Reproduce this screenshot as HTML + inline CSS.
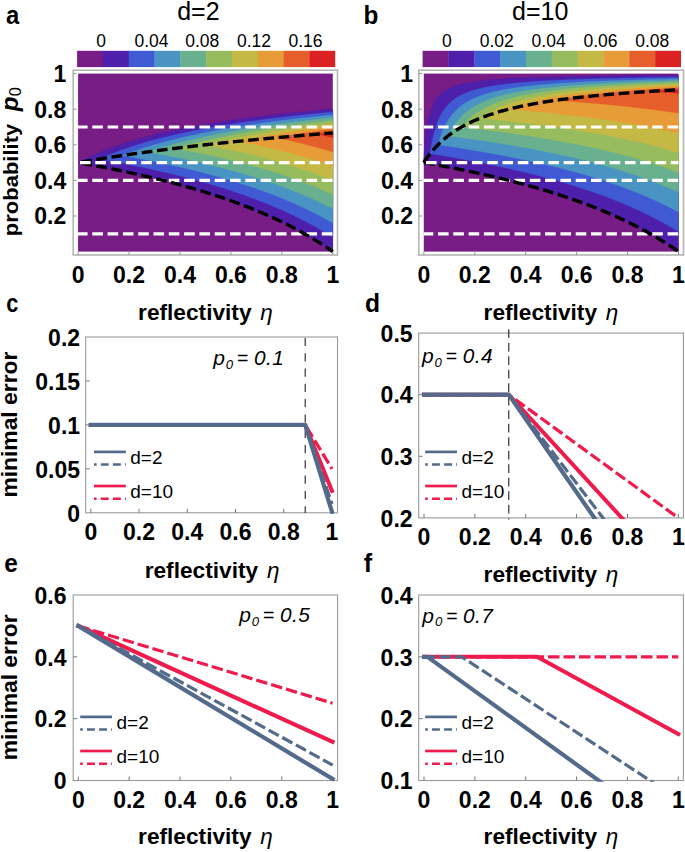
<!DOCTYPE html>
<html lang="en"><head><meta charset="utf-8"><title>Figure</title>
<style>html,body{margin:0;padding:0;background:#fff}svg{display:block}</style></head>
<body>
<svg width="685" height="852" viewBox="0 0 685 852" font-family='"Liberation Sans", Arial, Helvetica, sans-serif' fill="#000">
<rect width="685" height="852" fill="#fff"/>
<rect x="77.1" y="50.8" width="26.11" height="16.3" fill="#781C86"/>
<rect x="102.91" y="50.8" width="26.11" height="16.3" fill="#4E1FAA"/>
<rect x="128.72" y="50.8" width="26.11" height="16.3" fill="#3F5AD2"/>
<rect x="154.53" y="50.8" width="26.11" height="16.3" fill="#4A94C3"/>
<rect x="180.34" y="50.8" width="26.11" height="16.3" fill="#69B08E"/>
<rect x="206.15" y="50.8" width="26.11" height="16.3" fill="#97BC5E"/>
<rect x="231.96" y="50.8" width="26.11" height="16.3" fill="#C5B945"/>
<rect x="257.77" y="50.8" width="26.11" height="16.3" fill="#E79C38"/>
<rect x="283.58" y="50.8" width="26.11" height="16.3" fill="#E55E2B"/>
<rect x="309.39" y="50.8" width="25.81" height="16.3" fill="#DB2122"/>
<text x="101" y="46.9" font-size="17.5" font-weight="normal" font-style="normal" text-anchor="middle" >0</text>
<text x="151.5" y="46.9" font-size="17.5" font-weight="normal" font-style="normal" text-anchor="middle" >0.04</text>
<text x="202.3" y="46.9" font-size="17.5" font-weight="normal" font-style="normal" text-anchor="middle" >0.08</text>
<text x="254" y="46.9" font-size="17.5" font-weight="normal" font-style="normal" text-anchor="middle" >0.12</text>
<text x="305.5" y="46.9" font-size="17.5" font-weight="normal" font-style="normal" text-anchor="middle" >0.16</text>
<text x="198.4" y="19.5" font-size="25" font-weight="normal" font-style="normal" text-anchor="middle" >d=2</text>
<text transform="translate(6,23.6) scale(0.9,1)" font-size="26.5" font-weight="bold">a</text>
<rect x="73.2" y="70.2" width="264.3" height="184.8" fill="#fff" stroke="#b5b5b5" stroke-width="1.6"/>
<rect x="78.1" y="73.6" width="254.7" height="178" fill="#781C86"/>
<path d="M332.8,251.6 332.8,250.93 332.8,250.26 332.8,249.6 332.8,248.93 332.8,248.26 332.8,247.59 332.8,246.93 332.8,246.26 332.8,245.59 332.8,244.92 332.8,244.26 332.8,243.59 332.8,242.92 332.8,242.25 332.8,241.59 332.8,240.92 332.8,240.25 332.8,239.58 332.8,238.92 332.8,238.25 332.8,237.58 332.8,236.91 332.8,236.25 332.8,235.58 332.8,234.91 332.8,234.25 332.8,233.58 332.8,232.91 332.8,232.24 332.8,231.57 332.8,230.91 332.8,230.24 332.8,229.57 332.8,228.91 332.8,228.24 332.8,227.57 332.8,226.9 332.8,226.23 332.8,225.57 332.8,224.9 332.8,224.23 332.8,223.56 332.8,222.9 332.8,222.23 332.8,221.56 332.8,220.89 332.8,220.23 332.8,219.56 332.8,218.89 332.8,218.22 332.8,217.56 332.8,216.89 332.8,216.22 332.8,215.56 332.8,214.89 332.8,214.22 332.8,213.55 332.8,212.88 332.8,212.22 332.8,211.55 332.8,210.88 332.8,210.21 332.8,209.55 332.8,208.88 332.8,208.21 332.8,207.54 332.8,206.88 332.8,206.21 332.8,205.54 332.8,204.88 332.8,204.21 332.8,203.54 332.8,202.87 332.8,202.2 332.8,201.54 332.8,200.87 332.8,200.2 332.8,199.53 332.8,198.87 332.8,198.2 332.8,197.53 332.8,196.87 332.8,196.2 332.8,195.53 332.8,194.86 332.8,194.19 332.8,193.53 332.8,192.86 332.8,192.19 332.8,191.52 332.8,190.86 332.8,190.19 332.8,189.52 332.8,188.85 332.8,188.19 332.8,187.52 332.8,186.85 332.8,186.19 332.8,185.52 332.8,184.85 332.8,184.18 332.8,183.51 332.8,182.85 332.8,182.18 332.8,181.51 332.8,180.84 332.8,180.18 332.8,179.51 332.8,178.84 332.8,178.17 332.8,177.51 332.8,176.84 332.8,176.17 332.8,175.5 332.8,174.84 332.8,174.17 332.8,173.5 332.8,172.83 332.8,172.17 332.8,171.5 332.8,170.83 332.8,170.16 332.8,169.5 332.8,168.83 332.8,168.16 332.8,167.5 332.8,166.83 332.8,166.16 332.8,165.49 332.8,164.82 332.8,164.16 332.8,163.49 332.8,162.82 332.8,162.15 332.8,161.49 332.8,160.82 332.8,160.15 332.8,159.49 332.8,158.82 332.8,158.15 332.8,157.48 332.8,156.81 332.8,156.15 332.8,155.48 332.8,154.81 332.8,154.14 332.8,153.48 332.8,152.81 332.8,152.14 332.8,151.47 332.8,150.81 332.8,150.14 332.8,149.47 332.8,148.81 332.8,148.14 332.8,147.47 332.8,146.8 332.8,146.13 332.8,145.47 332.8,144.8 332.8,144.13 332.8,143.46 332.8,142.8 332.8,142.13 332.8,141.46 332.8,140.79 332.8,140.13 332.8,139.46 332.8,138.79 332.8,138.12 332.8,137.46 332.8,136.79 332.8,136.12 332.8,135.45 332.8,134.79 332.8,134.12 332.8,133.45 332.8,132.78 332.8,132.12 332.8,131.45 332.8,130.78 332.8,130.12 332.8,129.45 332.8,128.78 332.8,128.11 332.8,127.44 332.8,126.78 332.8,126.11 332.8,125.44 332.8,124.77 332.8,124.11 332.8,123.44 332.8,122.77 332.8,122.1 332.8,121.44 332.8,120.77 332.8,120.1 332.8,119.43 332.8,118.77 332.8,118.1 332.8,117.43 332.8,116.76 332.8,116.1 332.8,115.43 332.8,114.76 332.8,114.09 332.8,113.43 332.8,112.76 332.8,112.09 332.8,111.43 332.8,110.76 332.8,110.09 332.8,109.42 332.16,109.2 331.53,109.2 330.89,109.2 330.25,109.2 329.62,109.42 328.98,109.42 328.34,109.42 327.71,109.43 327.07,109.65 326.43,109.65 325.8,109.65 325.16,109.65 324.52,109.87 323.89,109.87 323.25,109.87 322.61,109.87 321.98,110.09 321.34,110.09 320.7,110.09 320.07,110.09 319.43,110.31 318.79,110.31 318.15,110.31 317.52,110.32 316.88,110.54 316.24,110.54 315.61,110.54 314.97,110.76 314.33,110.76 313.7,110.76 313.06,110.76 312.43,110.98 311.79,110.98 311.15,110.98 310.51,110.98 309.88,111.2 309.24,111.2 308.6,111.2 307.97,111.21 307.33,111.43 306.69,111.43 306.06,111.43 305.42,111.65 304.78,111.65 304.15,111.65 303.51,111.65 302.94,111.87 302.24,111.87 301.6,111.87 300.96,111.88 300.33,112.09 299.69,112.09 299.05,112.09 298.42,112.31 297.78,112.32 297.14,112.32 296.51,112.32 295.87,112.54 295.23,112.54 294.6,112.54 293.97,112.76 293.32,112.76 292.68,112.76 292.05,112.78 291.41,112.98 290.77,112.98 290.14,112.98 289.5,113.21 288.86,113.21 288.23,113.21 287.59,113.43 286.95,113.43 286.32,113.43 285.68,113.43 285.04,113.65 284.41,113.65 283.77,113.65 283.13,113.87 282.5,113.87 281.86,113.87 281.23,114.09 280.59,114.1 279.95,114.1 279.32,114.32 278.68,114.32 278.04,114.32 277.4,114.54 276.77,114.54 276.13,114.54 275.49,114.55 274.86,114.76 274.22,114.76 273.58,114.77 272.95,114.99 272.31,114.99 271.67,114.99 271.04,115.21 270.4,115.21 269.76,115.21 269.12,115.43 268.49,115.43 267.85,115.43 267.21,115.65 266.58,115.65 265.94,115.65 265.3,115.88 264.67,115.88 264.03,115.88 263.39,116.1 262.76,116.1 262.12,116.1 261.48,116.32 260.85,116.32 260.21,116.54 259.57,116.54 258.94,116.54 258.3,116.76 257.66,116.77 257.03,116.77 256.39,116.99 255.75,116.99 255.12,116.99 254.48,117.21 253.84,117.21 253.21,117.21 252.57,117.43 251.93,117.43 251.3,117.65 250.66,117.66 250.02,117.66 249.39,117.88 248.75,117.88 248.11,117.88 247.48,118.1 246.84,118.1 246.2,118.32 245.57,118.32 244.93,118.32 244.3,118.54 243.66,118.55 243.02,118.55 242.38,118.77 241.74,118.77 241.11,118.99 240.47,118.99 239.83,118.99 239.2,119.21 238.56,119.21 237.93,119.43 237.29,119.44 236.65,119.44 236.01,119.66 235.38,119.66 234.74,119.88 234.1,119.88 233.47,119.88 232.83,120.1 232.19,120.1 231.56,120.32 230.92,120.33 230.28,120.33 229.65,120.55 229.01,120.55 228.4,120.77 227.74,120.77 227.1,120.99 226.46,120.99 225.83,120.99 225.19,121.22 224.55,121.22 223.93,121.44 223.28,121.44 222.64,121.66 222.01,121.66 221.37,121.66 220.73,121.88 220.1,121.88 219.46,122.11 218.82,122.11 218.19,122.33 217.55,122.33 216.91,122.55 216.27,122.55 215.64,122.59 215,122.77 214.36,122.77 213.73,123 213.09,123 212.45,123.22 211.82,123.22 211.18,123.44 210.54,123.44 209.91,123.66 209.27,123.66 208.64,123.88 208,123.89 207.36,124.11 206.72,124.11 206.09,124.33 205.45,124.33 204.81,124.55 204.18,124.55 203.54,124.77 202.9,124.78 202.27,125 201.63,125 200.99,125.22 200.36,125.22 199.72,125.44 199.08,125.44 198.45,125.66 197.81,125.67 197.17,125.89 196.54,125.89 195.9,126.11 195.26,126.11 194.63,126.33 193.99,126.33 193.35,126.56 192.72,126.56 192.08,126.78 191.44,126.78 190.8,127 190.17,127.01 189.53,127.22 188.9,127.44 188.26,127.45 187.62,127.67 186.98,127.67 186.42,127.89 185.71,127.89 185.07,128.11 184.44,128.12 183.8,128.34 183.17,128.56 182.53,128.56 181.9,128.78 181.25,128.78 180.62,129 179.98,129.22 179.34,129.23 178.71,129.45 178.07,129.45 177.43,129.67 176.8,129.68 176.16,129.89 175.53,130.12 174.89,130.12 174.25,130.34 173.61,130.56 172.98,130.56 172.34,130.78 171.7,130.78 171.07,131.01 170.43,131.23 169.79,131.23 169.16,131.45 168.52,131.67 167.88,131.67 167.26,131.89 166.61,131.9 165.97,132.12 165.34,132.34 164.7,132.34 164.06,132.56 163.43,132.78 162.79,132.79 162.15,133.01 161.52,133.23 160.88,133.23 160.24,133.45 159.61,133.68 158.97,133.68 158.33,133.9 157.74,134.12 157.06,134.34 156.42,134.34 155.78,134.57 155.15,134.79 154.51,134.79 153.87,135.01 153.24,135.23 152.6,135.45 151.96,135.46 151.33,135.68 150.69,135.9 150.05,135.9 149.42,136.12 148.78,136.35 148.14,136.57 147.51,136.57 146.87,136.79 146.23,137.01 145.6,137.24 144.96,137.29 144.32,137.46 143.69,137.68 143.05,137.9 142.41,138.12 141.78,138.13 141.14,138.35 140.5,138.57 139.87,138.79 139.23,139.01 138.59,139.02 137.95,139.24 137.32,139.46 136.7,139.68 136.05,139.9 135.41,140.13 134.77,140.13 134.13,140.35 133.5,140.57 132.86,140.8 132.23,141.02 131.59,141.24 130.95,141.46 130.31,141.47 129.68,141.69 129.04,141.91 128.4,142.13 127.77,142.35 127.14,142.57 126.5,142.8 125.86,143.02 125.22,143.24 124.58,143.46 123.95,143.47 123.31,143.69 122.67,143.91 122.04,144.13 121.4,144.36 120.76,144.58 120.13,144.8 119.49,145.02 118.85,145.25 118.22,145.47 117.58,145.69 116.94,145.91 116.3,146.14 115.67,146.36 115.03,146.58 114.39,146.8 113.76,147.03 113.12,147.25 112.48,147.47 111.85,147.69 111.21,147.92 110.57,148.14 109.94,148.36 109.3,148.59 108.66,148.82 108.03,149.25 107.39,149.47 106.76,149.69 106.12,149.92 105.48,150.14 104.84,150.36 104.21,150.59 103.57,150.81 102.93,151.04 102.3,151.47 101.66,151.7 101.03,151.92 100.39,152.14 99.75,152.37 99.11,152.59 98.48,153.03 97.84,153.25 97.21,153.48 96.57,153.7 95.93,153.96 95.29,154.37 94.66,154.59 94.02,154.81 93.38,155.05 92.75,155.48 92.11,155.7 91.47,155.93 90.84,156.37 90.2,156.59 89.56,156.82 88.93,157.26 88.29,157.48 87.65,157.71 87.02,158.15 86.38,158.37 85.74,158.6 85.11,159.04 84.47,159.26 83.83,159.49 83.2,159.93 82.56,160.15 81.92,160.6 81.29,160.82 80.65,161.26 80.01,161.49 79.37,161.93 78.74,162.15 78.1,162.6 78.74,162.82 79.37,162.9 80.01,163.04 80.65,163.23 81.28,163.27 81.92,163.47 82.56,163.49 83.19,163.7 83.83,163.71 84.47,163.93 85.1,163.93 85.74,164.15 86.38,164.16 87.01,164.38 87.65,164.38 88.29,164.6 88.92,164.6 89.56,164.82 90.2,164.82 90.83,165.05 91.47,165.05 92.11,165.27 92.75,165.27 93.38,165.49 94.02,165.49 94.66,165.71 95.29,165.71 95.93,165.94 96.57,166.15 97.2,166.16 97.84,166.38 98.48,166.38 99.11,166.6 99.75,166.6 100.39,166.83 101.02,166.83 101.66,167.05 102.3,167.05 102.93,167.27 103.57,167.49 104.21,167.49 104.84,167.72 105.48,167.72 106.12,167.94 106.75,167.94 107.39,168.16 108.03,168.16 108.66,168.38 109.3,168.6 109.94,168.61 110.57,168.83 111.21,168.83 111.85,169.05 112.48,169.05 113.12,169.27 113.76,169.49 114.39,169.5 115.03,169.72 115.67,169.72 116.3,169.94 116.94,170.14 117.58,170.16 118.22,170.39 118.85,170.39 119.49,170.61 120.13,170.61 120.76,170.83 121.4,171.05 122.04,171.05 122.67,171.28 123.31,171.28 123.95,171.5 124.58,171.72 125.22,171.72 125.86,171.94 126.49,171.94 127.13,172.17 127.77,172.39 128.4,172.39 129.04,172.61 129.68,172.83 130.31,172.83 130.95,173.06 131.59,173.06 132.22,173.28 132.86,173.5 133.5,173.5 134.13,173.72 134.77,173.94 135.41,173.95 136.04,174.17 136.68,174.17 137.32,174.39 137.95,174.61 138.59,174.61 139.23,174.84 139.86,175.06 140.5,175.06 141.14,175.28 141.78,175.5 142.41,175.5 143.05,175.73 143.69,175.95 144.32,175.95 144.96,176.17 145.6,176.39 146.23,176.39 146.87,176.62 147.51,176.84 148.14,176.84 148.78,177.06 149.42,177.28 150.05,177.28 150.69,177.51 151.33,177.73 151.96,177.73 152.6,177.95 153.24,178.17 153.87,178.17 154.51,178.4 155.15,178.62 155.78,178.62 156.42,178.84 157.06,179.06 157.69,179.28 158.33,179.29 158.97,179.51 159.6,179.73 160.24,179.73 160.88,179.95 161.51,180.18 162.15,180.39 162.79,180.4 163.42,180.62 164.06,180.84 164.7,180.84 165.33,181.07 165.97,181.29 166.61,181.51 167.25,181.51 167.88,181.73 168.52,181.96 169.16,182.17 169.79,182.18 170.43,182.4 171.07,182.62 171.7,182.84 172.34,182.85 172.98,183.07 173.61,183.29 174.25,183.51 174.89,183.51 175.52,183.74 176.16,183.96 176.8,184.18 177.43,184.18 178.07,184.4 178.71,184.63 179.34,184.85 179.98,184.85 180.62,185.07 181.25,185.29 181.89,185.52 182.53,185.74 183.16,185.74 183.8,185.96 184.44,186.18 185.07,186.41 185.71,186.63 186.35,186.63 186.98,186.85 187.62,187.07 188.26,187.3 188.89,187.52 189.53,187.52 190.17,187.74 190.8,187.96 191.44,188.19 192.08,188.41 192.72,188.63 193.35,188.63 193.99,188.85 194.63,189.08 195.26,189.3 195.9,189.52 196.54,189.74 197.17,189.95 197.81,189.97 198.45,190.19 199.08,190.41 199.72,190.63 200.36,190.86 200.99,191.08 201.63,191.29 202.27,191.3 202.9,191.52 203.54,191.75 204.18,191.97 204.81,192.19 205.45,192.41 206.09,192.64 206.72,192.86 207.36,193.05 208,193.08 208.63,193.3 209.27,193.53 209.91,193.75 210.54,193.97 211.18,194.19 211.82,194.42 212.45,194.64 213.09,194.86 213.73,195.08 214.36,195.3 215,195.47 215.64,195.53 216.27,195.75 216.91,195.97 217.55,196.2 218.19,196.42 218.82,196.64 219.46,196.86 220.1,197.09 220.73,197.31 221.37,197.53 222.01,197.75 222.64,197.98 223.28,198.2 223.92,198.42 224.55,198.64 225.19,198.87 225.83,199.09 226.46,199.31 227.1,199.53 227.74,199.76 228.37,199.98 229.01,200.2 229.65,200.42 230.28,200.65 230.92,200.87 231.56,201.09 232.19,201.31 232.83,201.54 233.47,201.76 234.1,201.98 234.74,202.2 235.38,202.43 236.01,202.65 236.65,202.87 237.29,203.09 237.92,203.32 238.56,203.54 238.96,203.76 239.52,203.98 240.15,204.21 240.79,204.43 241.43,204.65 242.06,204.87 242.7,205.1 243.34,205.53 243.97,205.76 244.61,205.99 245.25,206.21 245.88,206.43 246.52,206.65 247.16,206.88 247.79,207.1 248.43,207.32 249.07,207.76 249.7,207.99 250.34,208.21 250.98,208.43 251.61,208.66 252.25,208.88 252.89,209.1 253.52,209.54 254.16,209.77 254.8,209.99 255.43,210.21 256.07,210.44 256.71,210.66 257.35,211.1 257.98,211.33 258.62,211.55 259.26,211.77 259.89,211.99 260.53,212.44 261.17,212.66 261.8,212.88 262.44,213.11 263.08,213.54 263.71,213.77 264.35,214 264.99,214.22 265.62,214.65 266.26,214.89 266.9,215.11 267.53,215.33 268.17,215.77 268.81,216 269.44,216.22 270.08,216.44 270.72,216.89 271.35,217.11 271.99,217.33 272.63,217.78 273.26,218 273.9,218.22 274.54,218.66 275.17,218.89 275.81,219.11 276.45,219.55 277.08,219.78 277.72,220 278.36,220.44 278.99,220.67 279.63,220.89 280.27,221.34 280.9,221.56 281.54,221.78 282.18,222.23 282.82,222.45 283.45,222.89 284.09,223.12 284.73,223.34 285.36,223.79 286,224.01 286.64,224.45 287.27,224.68 287.91,225.12 288.55,225.34 289.18,225.77 289.82,226.01 290.46,226.23 291.09,226.68 291.73,226.9 292.37,227.35 293,227.57 293.64,228.01 294.28,228.24 294.91,228.68 295.55,228.9 296.19,229.35 296.82,229.57 297.46,230.02 298.1,230.45 298.73,230.68 299.37,231.13 300.01,231.35 300.64,231.8 301.28,232.02 301.92,232.46 302.55,232.9 303.19,233.13 303.83,233.58 304.46,233.8 305.1,234.24 305.74,234.69 306.37,234.91 307.01,235.36 307.65,235.8 308.29,236.02 308.92,236.47 309.56,236.91 310.2,237.14 310.83,237.58 311.47,238.02 312.11,238.25 312.74,238.69 313.38,239.14 314.02,239.57 314.65,239.81 315.29,240.25 315.93,240.7 316.56,241.13 317.2,241.36 317.84,241.81 318.47,242.25 319.11,242.7 319.75,242.92 320.38,243.37 321.02,243.81 321.66,244.26 322.29,244.7 322.93,245.14 323.32,245.37 323.89,245.59 324.52,246.04 325.16,246.48 325.8,246.93 326.43,247.37 327.07,247.82 327.71,248.26 328.34,248.7 328.98,249.15 329.62,249.59 330.25,250.03 330.89,250.47 331.26,250.71 331.84,251.09 332.48,251.38Z" fill="#4E1FAA" stroke="#4E1FAA" stroke-width="0.4"/>
<path d="M332.48,237.16 332.8,236.69 332.8,236.03 332.8,235.36 332.8,234.69 332.8,234.02 332.8,233.35 332.8,232.69 332.8,232.02 332.8,231.35 332.8,230.69 332.8,230.02 332.8,229.35 332.8,228.68 332.8,228.01 332.8,227.35 332.8,226.68 332.8,226.01 332.8,225.34 332.8,224.68 332.8,224.01 332.8,223.34 332.8,222.67 332.8,222.01 332.8,221.34 332.8,220.67 332.8,220 332.8,219.34 332.8,218.67 332.8,218 332.8,217.33 332.8,216.67 332.8,216 332.8,215.33 332.8,214.66 332.8,214 332.8,213.33 332.8,212.66 332.8,212 332.8,211.33 332.8,210.66 332.8,209.99 332.8,209.32 332.8,208.66 332.8,207.99 332.8,207.32 332.8,206.66 332.8,205.99 332.8,205.32 332.8,204.65 332.8,203.98 332.8,203.32 332.8,202.65 332.8,201.98 332.8,201.31 332.8,200.65 332.8,199.98 332.8,199.31 332.8,198.64 332.8,197.98 332.8,197.31 332.8,196.64 332.8,195.97 332.8,195.31 332.8,194.64 332.8,193.97 332.8,193.31 332.8,192.64 332.8,191.97 332.8,191.3 332.8,190.63 332.8,189.97 332.8,189.3 332.8,188.63 332.8,187.97 332.8,187.3 332.8,186.63 332.8,185.96 332.8,185.3 332.8,184.63 332.8,183.96 332.8,183.29 332.8,182.62 332.8,181.96 332.8,181.29 332.8,180.62 332.8,179.95 332.8,179.29 332.8,178.62 332.8,177.95 332.8,177.28 332.8,176.62 332.8,175.95 332.8,175.28 332.8,174.62 332.8,173.95 332.8,173.28 332.8,172.61 332.8,171.94 332.8,171.28 332.8,170.61 332.8,169.94 332.8,169.27 332.8,168.61 332.8,167.94 332.8,167.27 332.8,166.6 332.8,165.94 332.8,165.27 332.8,164.6 332.8,163.94 332.8,163.27 332.8,162.6 332.8,161.93 332.8,161.26 332.8,160.6 332.8,159.93 332.8,159.26 332.8,158.59 332.8,157.93 332.8,157.26 332.8,156.59 332.8,155.93 332.8,155.26 332.8,154.59 332.8,153.92 332.8,153.25 332.8,152.59 332.8,151.92 332.8,151.25 332.8,150.58 332.8,149.92 332.8,149.25 332.8,148.58 332.8,147.91 332.8,147.25 332.8,146.58 332.8,145.91 332.8,145.25 332.8,144.58 332.8,143.91 332.8,143.24 332.8,142.57 332.8,141.91 332.8,141.24 332.8,140.57 332.8,139.9 332.8,139.24 332.8,138.57 332.8,137.9 332.8,137.24 332.8,136.57 332.8,135.9 332.8,135.23 332.8,134.56 332.8,133.9 332.8,133.23 332.8,132.56 332.8,131.89 332.8,131.23 332.8,130.56 332.8,129.89 332.8,129.22 332.8,128.56 332.8,127.89 332.8,127.22 332.8,126.55 332.8,125.89 332.8,125.22 332.8,124.55 332.8,123.88 332.8,123.22 332.8,122.55 332.8,121.88 332.8,121.21 332.8,120.55 332.8,119.88 332.8,119.21 332.8,118.54 332.8,117.88 332.8,117.21 332.8,116.54 332.8,115.87 332.8,115.21 332.8,114.54 332.8,113.87 332.8,113.21 332.8,112.54 332.48,112.08 331.84,112.13 331.21,112.19 330.57,112.25 329.93,112.31 329.3,112.37 328.66,112.43 328.02,112.49 327.46,112.54 326.75,112.6 326.11,112.66 325.48,112.72 324.84,112.78 324.2,112.84 323.57,112.9 322.93,112.96 322.29,113.02 321.66,113.08 321.02,113.15 320.4,113.21 319.75,113.27 319.11,113.33 318.47,113.39 317.84,113.45 317.2,113.51 316.56,113.58 315.93,113.64 315.29,113.7 314.65,113.77 314.02,113.83 313.38,113.89 312.74,113.95 312.11,114.02 311.47,114.08 310.83,114.15 310.2,114.21 309.56,114.27 308.92,114.34 308.29,114.4 307.65,114.47 307.01,114.53 306.37,114.6 305.74,114.67 305.1,114.73 304.46,114.8 303.83,114.86 303.19,114.93 302.55,115 301.92,115.06 301.28,115.13 300.64,115.2 300.01,115.27 299.37,115.33 298.73,115.4 298.1,115.47 297.46,115.54 296.82,115.61 296.19,115.68 295.55,115.75 294.91,115.82 294.37,115.87 293.64,115.96 293,116.03 292.37,116.1 291.73,116.17 291.09,116.24 290.46,116.31 289.82,116.38 289.18,116.45 288.55,116.52 287.91,116.59 287.27,116.67 286.64,116.74 286,116.81 285.36,116.89 284.73,116.96 284.09,117.03 283.45,117.11 282.82,117.18 282.18,117.25 281.54,117.33 280.9,117.4 280.27,117.48 279.63,117.55 278.99,117.63 278.36,117.7 277.72,117.78 277.08,117.86 276.45,117.93 275.81,118.01 275.17,118.09 274.54,118.16 273.9,118.24 273.26,118.32 272.63,118.4 271.99,118.48 271.44,118.54 270.72,118.63 270.08,118.71 269.44,118.79 268.81,118.87 268.17,118.95 267.53,119.03 266.9,119.11 266.26,119.2 265.62,119.28 264.99,119.36 264.39,119.43 263.71,119.52 263.08,119.6 262.44,119.69 261.8,119.77 261.17,119.85 260.53,119.94 259.89,120.02 259.27,120.1 258.62,120.19 257.98,120.27 257.35,120.36 256.71,120.44 256.07,120.53 255.43,120.62 254.8,120.7 254.16,120.79 253.52,120.88 252.89,120.96 252.25,121.05 251.61,121.14 251.07,121.21 250.34,121.32 249.7,121.41 249.07,121.5 248.43,121.59 247.9,121.66 247.16,121.77 246.52,121.86 245.88,121.95 245.25,122.04 244.61,122.13 243.97,122.22 243.34,122.31 242.7,122.41 242.06,122.5 241.43,122.59 240.79,122.69 240.22,122.77 239.52,122.88 238.88,122.97 238.24,123.07 237.61,123.16 236.97,123.26 236.33,123.35 235.77,123.44 235.06,123.55 234.42,123.65 233.79,123.74 233.15,123.84 232.51,123.94 231.88,124.04 231.24,124.14 230.6,124.24 230.03,124.33 229.33,124.44 228.69,124.54 228.05,124.64 227.42,124.74 226.78,124.85 226.14,124.95 225.51,125.05 224.87,125.16 224.23,125.26 223.6,125.36 222.96,125.47 222.32,125.57 221.78,125.66 221.05,125.79 220.44,125.89 219.78,126 219.14,126.11 218.5,126.21 217.87,126.32 217.23,126.43 216.59,126.54 215.96,126.65 215.32,126.76 214.68,126.87 214.05,126.98 213.41,127.09 212.77,127.2 212.14,127.32 211.5,127.43 210.86,127.54 210.23,127.66 209.59,127.77 208.95,127.89 208.32,128 207.7,128.11 207.04,128.23 206.49,128.33 205.77,128.47 205.13,128.58 204.49,128.7 203.86,128.82 203.22,128.94 202.58,129.06 201.95,129.18 201.31,129.3 200.67,129.42 200.04,129.54 199.4,129.67 198.76,129.79 198.24,129.89 197.49,130.04 196.85,130.16 196.22,130.29 195.58,130.41 194.94,130.54 194.31,130.67 193.72,130.78 193.03,130.92 192.4,131.05 191.76,131.18 191.12,131.31 190.49,131.44 189.85,131.57 189.35,131.67 188.58,131.83 187.94,131.97 187.3,132.1 186.67,132.23 186.15,132.34 185.39,132.5 184.76,132.64 184.12,132.77 183.48,132.91 182.85,133.05 182.21,133.19 181.57,133.33 180.99,133.45 180.3,133.6 179.66,133.75 179.02,133.89 178.39,134.03 177.75,134.17 177.11,134.32 176.48,134.46 175.84,134.6 175.2,134.75 174.57,134.9 174.07,135.01 173.29,135.19 172.66,135.34 172.16,135.45 171.38,135.64 170.75,135.79 170.11,135.94 169.47,136.09 168.84,136.24 168.2,136.4 167.56,136.55 166.93,136.71 166.29,136.86 165.68,137.01 165.02,137.18 164.38,137.33 163.89,137.46 163.11,137.65 162.47,137.81 161.83,137.98 161.24,138.12 160.56,138.3 159.92,138.46 159.29,138.63 158.65,138.79 158.01,138.96 157.38,139.13 156.74,139.3 156.12,139.46 155.47,139.63 154.83,139.8 154.19,139.98 153.63,140.13 152.92,140.32 152.28,140.5 151.64,140.67 151.01,140.85 150.39,141.02 149.73,141.2 149.1,141.38 148.46,141.56 147.82,141.74 147.24,141.91 146.55,142.1 145.91,142.29 145.28,142.47 144.64,142.66 144.16,142.8 143.69,142.94 143.05,143.13 142.41,143.32 141.91,143.46 141.17,143.69 140.5,143.89 139.86,144.08 139.23,144.28 138.59,144.47 137.95,144.67 137.32,144.87 136.82,145.02 136.11,145.25 135.41,145.47 134.77,145.67 134.13,145.87 133.5,146.08 132.86,146.28 132.22,146.49 131.59,146.7 130.95,146.9 130.31,147.11 129.68,147.33 129.04,147.54 128.58,147.69 128.08,147.86 127.45,148.08 126.81,148.29 126.17,148.51 125.54,148.73 124.9,148.95 124.26,149.17 123.63,149.4 122.99,149.62 122.35,149.85 121.72,150.08 121.08,150.3 120.44,150.53 119.81,150.77 119.17,151 118.53,151.23 117.9,151.47 117.28,151.7 116.69,151.92 116.1,152.14 115.51,152.37 115.03,152.55 114.39,152.79 113.77,153.03 113.2,153.25 112.63,153.48 112.17,153.66 111.53,153.91 110.93,154.14 110.38,154.37 109.94,154.54 109.3,154.8 108.72,155.03 108.17,155.26 107.71,155.45 107.09,155.7 106.55,155.93 106.12,156.11 105.49,156.37 104.96,156.59 104.53,156.78 103.91,157.04 103.39,157.26 102.93,157.46 102.36,157.7 101.85,157.93 101.34,158.15 100.83,158.37 100.39,158.57 99.82,158.82 99.39,159.04 100.07,159.17 100.59,159.26 101.34,159.39 101.85,159.49 102.61,159.62 103.25,159.73 103.89,159.85 104.53,159.96 105.16,160.07 105.8,160.19 106.44,160.3 107.07,160.42 107.71,160.53 108.35,160.65 108.98,160.76 109.62,160.88 110.26,161 110.89,161.11 111.53,161.23 112.17,161.35 112.8,161.47 113.44,161.58 114.08,161.7 114.71,161.82 115.31,161.93 115.99,162.06 116.5,162.15 117.26,162.3 117.9,162.42 118.53,162.54 119.17,162.66 119.81,162.78 120.44,162.9 121.08,163.03 121.72,163.15 122.34,163.27 122.99,163.39 123.63,163.52 124.26,163.64 124.9,163.76 125.54,163.89 126.17,164.01 126.81,164.14 127.45,164.26 128.04,164.38 128.72,164.51 129.36,164.64 130,164.77 130.63,164.89 131.27,165.02 131.91,165.15 132.5,165.27 133.18,165.41 133.82,165.54 134.45,165.66 135.09,165.79 135.73,165.92 136.36,166.05 136.88,166.16 137.64,166.32 138.27,166.45 138.91,166.58 139.55,166.71 140.1,166.83 140.82,166.98 141.46,167.11 142.09,167.24 142.73,167.38 143.28,167.5 144,167.65 144.64,167.78 145.28,167.92 145.91,168.05 146.42,168.16 147.19,168.33 147.82,168.46 148.46,168.6 149.1,168.74 149.73,168.88 150.37,169.02 151.01,169.16 151.55,169.27 152.28,169.44 152.92,169.58 153.55,169.72 154.19,169.86 154.83,170 155.47,170.14 156.1,170.28 156.74,170.43 157.38,170.57 158.01,170.71 158.53,170.83 159.29,171 159.92,171.15 160.49,171.28 161.2,171.44 161.83,171.59 162.42,171.72 163.11,171.88 163.74,172.03 164.34,172.17 165.02,172.32 165.65,172.47 166.24,172.61 166.93,172.77 167.56,172.92 168.13,173.06 168.84,173.23 169.47,173.38 170,173.5 170.75,173.68 171.38,173.84 172.02,173.99 172.66,174.14 173.29,174.3 173.93,174.45 174.57,174.61 175.2,174.76 175.84,174.92 176.41,175.06 177.11,175.24 177.75,175.39 178.39,175.55 179.02,175.71 179.66,175.87 180.3,176.03 180.86,176.17 181.57,176.35 182.21,176.51 182.85,176.67 183.48,176.84 184.12,177 184.76,177.16 185.39,177.33 186.03,177.49 186.67,177.66 187.3,177.82 187.8,177.95 188.58,178.16 189.21,178.32 189.85,178.49 190.34,178.62 191.12,178.83 191.76,179 192.4,179.17 193.03,179.34 193.67,179.51 194.31,179.68 194.94,179.85 195.58,180.02 196.14,180.18 196.85,180.37 197.49,180.55 198.13,180.72 198.76,180.9 199.39,181.07 200.04,181.25 200.67,181.43 201.31,181.6 201.78,181.73 202.27,181.87 202.9,182.05 203.54,182.23 204.15,182.4 204.81,182.59 205.45,182.77 206.09,182.96 206.72,183.14 207.26,183.29 208,183.51 208.63,183.69 209.27,183.88 209.91,184.06 210.54,184.25 211.08,184.4 211.82,184.62 212.45,184.81 213.09,185 213.73,185.19 214.36,185.38 215,185.57 215.56,185.74 216.27,185.96 216.91,186.15 217.55,186.34 218.19,186.54 218.82,186.73 219.46,186.93 219.93,187.07 220.41,187.22 221.05,187.42 221.69,187.62 222.32,187.82 222.79,187.97 223.28,188.12 223.92,188.32 224.55,188.52 225.19,188.72 225.83,188.92 226.31,189.08 226.78,189.23 227.42,189.43 228.05,189.64 228.69,189.84 229.33,190.05 229.96,190.26 230.43,190.41 230.92,190.57 231.56,190.78 232.19,190.99 232.83,191.2 233.47,191.41 234.1,191.63 234.74,191.84 235.38,192.05 236.01,192.27 236.65,192.48 237.11,192.64 237.61,192.81 238.24,193.02 238.88,193.24 239.52,193.46 240.15,193.68 240.79,193.9 241.43,194.12 242.06,194.34 242.7,194.57 243.34,194.79 243.97,195.02 244.61,195.24 245.25,195.47 245.88,195.7 246.52,195.92 247.16,196.15 247.79,196.38 248.43,196.61 249.07,196.84 249.7,197.08 250.34,197.31 250.95,197.53 251.55,197.75 252.15,197.98 252.75,198.2 253.21,198.37 253.84,198.61 254.48,198.85 255.12,199.09 255.71,199.31 256.3,199.53 256.88,199.76 257.35,199.93 257.98,200.18 258.62,200.42 259.2,200.65 259.77,200.87 260.21,201.04 260.85,201.29 261.48,201.54 262.05,201.76 262.61,201.98 263.08,202.17 263.71,202.42 264.29,202.65 264.85,202.87 265.3,203.05 265.94,203.31 266.51,203.54 267.06,203.76 267.53,203.96 268.15,204.21 268.69,204.43 269.12,204.61 269.76,204.87 270.31,205.1 270.85,205.32 271.35,205.53 271.91,205.76 272.44,205.99 272.95,206.2 273.5,206.43 274.02,206.66 274.54,206.87 275.07,207.1 275.49,207.28 276.11,207.54 276.62,207.77 277.08,207.97 277.65,208.21 278.16,208.44 278.67,208.66 279.18,208.88 279.63,209.08 280.19,209.32 280.69,209.55 281.19,209.77 281.69,209.99 282.18,210.21 282.69,210.44 283.13,210.64 283.68,210.88 284.17,211.1 284.66,211.33 285.15,211.55 285.63,211.77 286.12,212 286.6,212.22 287.08,212.44 287.57,212.66 288.04,212.88 288.52,213.11 289,213.33 289.47,213.55 289.95,213.78 290.42,214 290.89,214.22 291.36,214.44 291.82,214.66 292.29,214.89 292.75,215.11 293.22,215.33 293.64,215.54 294.14,215.78 294.6,216 295.05,216.22 295.51,216.44 295.96,216.67 296.41,216.89 296.82,217.09 297.32,217.33 297.76,217.56 298.21,217.78 298.66,218 299.1,218.22 299.54,218.45 299.99,218.67 300.43,218.89 300.87,219.12 301.28,219.33 301.74,219.56 302.17,219.78 302.61,220 303.04,220.23 303.47,220.45 303.9,220.67 304.33,220.89 304.76,221.12 305.18,221.34 305.61,221.56 306.03,221.78 306.45,222.01 306.87,222.23 307.29,222.45 307.71,222.67 308.13,222.9 308.54,223.12 308.96,223.34 309.37,223.56 309.78,223.79 310.19,224.01 310.6,224.23 311.01,224.45 311.42,224.68 311.82,224.9 312.23,225.12 312.63,225.34 313.04,225.57 313.44,225.79 313.84,226.01 314.24,226.23 314.63,226.46 315.03,226.68 315.43,226.9 315.82,227.12 316.21,227.35 316.61,227.57 317,227.79 317.39,228.01 317.77,228.24 318.16,228.46 318.55,228.68 318.93,228.91 319.32,229.13 319.7,229.35 320.08,229.57 320.46,229.79 320.84,230.02 321.22,230.24 321.6,230.46 322.29,230.87 322.73,231.13 323.25,231.44 323.84,231.8 324.52,232.21 324.95,232.47 325.48,232.78 326.05,233.13 326.43,233.37 327.07,233.76 327.5,234.02 328.02,234.35 328.58,234.69 328.98,234.94 329.62,235.34 330,235.58 330.57,235.94 331.06,236.25 331.53,236.55 332.11,236.91 332.48,237.16Z" fill="#3F5AD2" stroke="#3F5AD2" stroke-width="0.4"/>
<path d="M332.48,222.93 332.8,222.45 332.8,221.78 332.8,221.12 332.8,220.45 332.8,219.78 332.8,219.12 332.8,218.45 332.8,217.78 332.8,217.11 332.8,216.44 332.8,215.78 332.8,215.11 332.8,214.44 332.8,213.78 332.8,213.11 332.8,212.44 332.8,211.77 332.8,211.1 332.8,210.44 332.8,209.77 332.8,209.1 332.8,208.44 332.8,207.77 332.8,207.1 332.8,206.43 332.8,205.76 332.8,205.1 332.8,204.43 332.8,203.76 332.8,203.09 332.8,202.43 332.8,201.76 332.8,201.09 332.8,200.42 332.8,199.76 332.8,199.09 332.8,198.42 332.8,197.75 332.8,197.09 332.8,196.42 332.8,195.75 332.8,195.08 332.8,194.42 332.8,193.75 332.8,193.08 332.8,192.41 332.8,191.75 332.8,191.08 332.8,190.41 332.8,189.75 332.8,189.08 332.8,188.41 332.8,187.74 332.8,187.07 332.8,186.41 332.8,185.74 332.8,185.07 332.8,184.4 332.8,183.74 332.8,183.07 332.8,182.4 332.8,181.73 332.8,181.07 332.8,180.4 332.8,179.73 332.8,179.06 332.8,178.4 332.8,177.73 332.8,177.06 332.8,176.39 332.8,175.73 332.8,175.06 332.8,174.39 332.8,173.72 332.8,173.06 332.8,172.39 332.8,171.72 332.8,171.06 332.8,170.39 332.8,169.72 332.8,169.05 332.8,168.38 332.8,167.72 332.8,167.05 332.8,166.38 332.8,165.72 332.8,165.05 332.8,164.38 332.8,163.71 332.8,163.05 332.8,162.38 332.8,161.71 332.8,161.04 332.8,160.38 332.8,159.71 332.8,159.04 332.8,158.37 332.8,157.7 332.8,157.04 332.8,156.37 332.8,155.7 332.8,155.03 332.8,154.37 332.8,153.7 332.8,153.03 332.8,152.37 332.8,151.7 332.8,151.03 332.8,150.36 332.8,149.69 332.8,149.03 332.8,148.36 332.8,147.69 332.8,147.02 332.8,146.36 332.8,145.69 332.8,145.02 332.8,144.35 332.8,143.69 332.8,143.02 332.8,142.35 332.8,141.69 332.8,141.02 332.8,140.35 332.8,139.68 332.8,139.01 332.8,138.35 332.8,137.68 332.8,137.01 332.8,136.34 332.8,135.68 332.8,135.01 332.8,134.34 332.8,133.68 332.8,133.01 332.8,132.34 332.8,131.67 332.8,131 332.8,130.34 332.8,129.67 332.8,129 332.8,128.33 332.8,127.67 332.8,127 332.8,126.33 332.8,125.66 332.8,125 332.8,124.33 332.8,123.66 332.8,122.99 332.8,122.33 332.8,121.66 332.8,120.99 332.8,120.32 332.8,119.66 332.8,118.99 332.8,118.32 332.8,117.65 332.8,116.99 332.8,116.32 332.8,115.65 332.8,114.98 332.16,114.96 331.53,115.02 330.89,115.08 330.25,115.15 329.62,115.21 328.98,115.27 328.34,115.33 327.71,115.4 327.07,115.46 326.43,115.52 325.8,115.59 325.16,115.65 324.52,115.72 323.89,115.78 323.25,115.85 322.61,115.91 321.98,115.98 321.34,116.04 320.7,116.11 320.06,116.17 319.43,116.24 318.79,116.31 318.15,116.37 317.52,116.44 316.88,116.5 316.24,116.57 315.61,116.64 314.97,116.71 314.42,116.76 313.7,116.84 313.06,116.91 312.42,116.98 311.79,117.05 311.15,117.12 310.51,117.18 309.88,117.25 309.24,117.32 308.6,117.39 307.97,117.46 307.33,117.53 306.69,117.6 306.06,117.67 305.42,117.74 304.78,117.81 304.22,117.88 303.51,117.96 302.87,118.03 302.24,118.1 301.6,118.17 300.96,118.24 300.33,118.32 299.69,118.39 299.05,118.46 298.42,118.54 297.78,118.61 297.14,118.68 296.51,118.76 295.87,118.83 295.23,118.91 294.6,118.98 293.96,119.06 293.32,119.13 292.68,119.21 292.05,119.28 291.41,119.36 290.77,119.43 290.14,119.51 289.5,119.59 288.91,119.66 288.23,119.74 287.59,119.82 286.95,119.9 286.32,119.97 285.68,120.05 285.04,120.13 284.41,120.21 283.77,120.29 283.13,120.37 282.5,120.45 281.86,120.53 281.22,120.61 280.59,120.69 279.95,120.77 279.31,120.85 278.68,120.93 278.04,121.01 277.4,121.09 276.77,121.18 276.13,121.26 275.49,121.34 274.86,121.42 274.22,121.51 273.58,121.59 272.95,121.67 272.31,121.76 271.67,121.84 271.04,121.93 270.4,122.01 269.76,122.1 269.12,122.18 268.49,122.27 267.85,122.36 267.21,122.44 266.58,122.53 265.94,122.62 265.3,122.7 264.67,122.79 264.03,122.88 263.39,122.97 262.76,123.06 262.12,123.15 261.48,123.23 260.85,123.32 260.21,123.41 259.57,123.5 258.94,123.6 258.3,123.69 257.66,123.78 257.03,123.87 256.39,123.96 255.75,124.05 255.12,124.15 254.48,124.24 253.86,124.33 253.21,124.43 252.57,124.52 251.93,124.61 251.3,124.71 250.66,124.8 250.02,124.9 249.39,125 248.75,125.09 248.11,125.19 247.48,125.28 246.84,125.38 246.2,125.48 245.57,125.58 245,125.66 244.29,125.77 243.66,125.87 243.02,125.97 242.38,126.07 241.74,126.17 241.11,126.27 240.47,126.37 239.83,126.48 239.2,126.58 238.56,126.68 237.95,126.78 237.29,126.89 236.65,126.99 236.01,127.09 235.38,127.2 234.74,127.3 234.1,127.41 233.47,127.51 232.83,127.62 232.19,127.72 231.56,127.83 230.92,127.94 230.28,128.04 229.65,128.15 229.01,128.26 228.37,128.37 227.74,128.48 227.1,128.59 226.46,128.7 225.83,128.81 225.19,128.92 224.55,129.03 223.92,129.14 223.28,129.25 222.64,129.37 222.01,129.48 221.37,129.59 220.73,129.71 220.1,129.82 219.46,129.94 218.82,130.05 218.19,130.17 217.55,130.29 216.91,130.4 216.27,130.52 215.64,130.64 215,130.76 214.36,130.88 213.73,131 213.09,131.12 212.5,131.23 211.82,131.36 211.18,131.48 210.54,131.6 209.91,131.72 209.27,131.85 208.63,131.97 208,132.09 207.36,132.22 206.74,132.34 206.09,132.47 205.45,132.59 204.81,132.72 204.18,132.85 203.54,132.98 202.9,133.1 202.28,133.23 201.63,133.36 200.99,133.49 200.36,133.62 199.72,133.75 199.08,133.89 198.45,134.02 197.81,134.15 197.17,134.28 196.54,134.42 195.9,134.55 195.26,134.69 194.63,134.82 193.99,134.96 193.35,135.1 192.73,135.23 192.08,135.37 191.44,135.51 190.8,135.65 190.17,135.79 189.53,135.93 188.89,136.08 188.26,136.22 187.69,136.34 186.98,136.5 186.35,136.65 185.72,136.79 185.07,136.94 184.44,137.08 183.8,137.23 183.16,137.38 182.53,137.53 181.89,137.67 181.25,137.82 180.62,137.97 179.98,138.12 179.34,138.28 178.71,138.43 178.12,138.57 177.43,138.74 176.8,138.89 176.28,139.01 175.52,139.2 174.89,139.36 174.25,139.52 173.61,139.67 172.98,139.83 172.34,139.99 171.8,140.13 171.07,140.31 170.43,140.48 169.79,140.64 169.18,140.79 168.52,140.97 167.88,141.13 167.25,141.3 166.62,141.46 165.97,141.63 165.33,141.8 164.7,141.97 164.1,142.13 163.42,142.31 162.79,142.48 162.15,142.66 161.64,142.8 160.88,143.01 160.24,143.18 159.6,143.36 158.97,143.53 158.42,143.69 157.69,143.89 157.06,144.07 156.42,144.25 155.78,144.43 155.28,144.58 154.51,144.8 153.87,144.98 153.24,145.17 152.6,145.36 151.96,145.54 151.47,145.69 150.72,145.91 150.05,146.11 149.42,146.3 148.78,146.5 148.14,146.69 147.51,146.88 146.87,147.08 146.33,147.25 145.61,147.47 144.96,147.67 144.32,147.87 143.69,148.07 143.05,148.28 142.41,148.48 141.78,148.68 141.14,148.89 140.5,149.1 140.03,149.25 139.55,149.41 138.91,149.62 138.27,149.83 137.64,150.04 137,150.25 136.36,150.47 135.73,150.68 135.09,150.9 134.45,151.11 133.82,151.33 133.18,151.55 132.54,151.78 131.91,152 131.27,152.22 130.63,152.45 130,152.67 129.36,152.9 128.72,153.13 128.08,153.36 127.45,153.59 126.81,153.83 126.17,154.06 125.54,154.3 124.9,154.53 124.26,154.77 123.63,155.01 122.99,155.25 122.45,155.48 122.99,155.58 123.63,155.7 124.26,155.81 124.9,155.92 125.54,156.04 126.16,156.15 126.81,156.26 127.4,156.37 128.08,156.49 128.63,156.59 129.36,156.72 130,156.84 130.63,156.96 131.27,157.07 131.91,157.19 132.54,157.31 133.18,157.42 133.82,157.54 134.45,157.66 135.09,157.78 135.73,157.9 136.36,158.01 137,158.13 137.64,158.25 138.27,158.37 138.91,158.49 139.44,158.59 140.18,158.74 140.82,158.86 141.46,158.98 142.09,159.1 142.73,159.22 143.37,159.35 144,159.47 144.64,159.59 145.23,159.71 145.91,159.84 146.55,159.97 147.19,160.09 147.82,160.22 148.46,160.34 149.1,160.47 149.73,160.59 150.37,160.72 150.87,160.82 151.64,160.97 152.28,161.1 152.92,161.23 153.55,161.36 154.19,161.49 154.83,161.62 155.47,161.75 156.1,161.88 156.74,162.01 157.38,162.14 158.01,162.27 158.53,162.38 159.29,162.53 159.92,162.67 160.56,162.8 161.2,162.93 161.73,163.05 162.47,163.2 163.11,163.33 163.74,163.47 164.38,163.6 164.89,163.71 165.65,163.88 166.29,164.01 166.93,164.15 167.56,164.29 168.2,164.42 168.84,164.56 169.47,164.7 170.04,164.82 170.75,164.98 171.38,165.12 172.02,165.26 172.66,165.4 173.29,165.54 173.93,165.68 174.57,165.83 175.07,165.94 175.84,166.11 176.48,166.25 177.05,166.38 177.75,166.54 178.39,166.69 179.01,166.83 179.66,166.98 180.3,167.12 180.94,167.27 181.57,167.42 182.21,167.56 182.85,167.71 183.48,167.86 184.12,168.01 184.76,168.16 185.39,168.31 186.03,168.46 186.66,168.61 187.3,168.76 187.94,168.91 188.53,169.05 189.21,169.22 189.85,169.37 190.38,169.5 191.12,169.68 191.76,169.83 192.4,169.99 193.03,170.14 193.67,170.3 194.31,170.46 194.93,170.61 195.58,170.77 196.22,170.93 196.73,171.06 197.49,171.25 198.13,171.41 198.76,171.57 199.39,171.72 200.04,171.89 200.67,172.05 201.31,172.21 201.95,172.37 202.58,172.54 203.22,172.7 203.74,172.83 204.49,173.03 205.13,173.2 205.77,173.36 206.3,173.5 207.04,173.7 207.68,173.86 208.32,174.03 208.83,174.17 209.59,174.37 210.23,174.54 210.86,174.71 211.5,174.88 212.14,175.06 212.77,175.23 213.41,175.4 214.05,175.57 214.61,175.73 215.32,175.92 215.96,176.1 216.59,176.27 217.23,176.45 217.83,176.62 218.5,176.81 219.14,176.98 219.78,177.16 220.41,177.34 220.99,177.51 221.69,177.7 222.32,177.89 222.96,178.07 223.6,178.25 224.11,178.4 224.87,178.62 225.51,178.8 226.14,178.99 226.78,179.17 227.42,179.36 227.92,179.51 228.68,179.73 229.33,179.93 229.96,180.11 230.6,180.3 231.24,180.5 231.88,180.69 232.4,180.84 233.13,181.07 233.79,181.27 234.42,181.46 235.06,181.65 235.7,181.85 236.33,182.05 236.97,182.24 237.48,182.4 238.2,182.62 238.88,182.84 239.52,183.04 240.15,183.24 240.79,183.44 241.43,183.64 242.06,183.85 242.7,184.05 243.34,184.25 243.81,184.4 244.29,184.56 244.93,184.77 245.57,184.97 246.2,185.18 246.84,185.39 247.48,185.6 248.11,185.81 248.57,185.96 249.07,186.13 249.7,186.34 250.34,186.55 250.98,186.77 251.61,186.98 252.25,187.2 252.89,187.41 253.52,187.63 254.16,187.85 254.8,188.07 255.43,188.28 256.07,188.5 256.71,188.73 257.35,188.95 257.98,189.17 258.62,189.39 259.26,189.62 259.89,189.84 260.53,190.07 261.17,190.3 261.8,190.53 262.44,190.76 263.08,190.99 263.71,191.22 264.35,191.45 264.99,191.68 265.62,191.91 266.26,192.15 266.9,192.38 267.53,192.62 268.17,192.86 268.77,193.08 269.36,193.31 269.95,193.53 270.4,193.7 271.04,193.94 271.67,194.18 272.29,194.42 272.87,194.64 273.45,194.86 273.9,195.04 274.54,195.28 275.17,195.53 275.74,195.75 276.3,195.97 276.77,196.16 277.4,196.41 277.99,196.64 278.55,196.87 278.99,197.04 279.63,197.3 280.21,197.53 280.76,197.75 281.22,197.94 281.86,198.2 282.4,198.42 282.95,198.64 283.45,198.85 284.03,199.09 284.56,199.31 285.04,199.51 285.63,199.76 286.16,199.98 286.64,200.18 287.22,200.42 287.75,200.65 288.23,200.85 288.79,201.09 289.31,201.31 289.82,201.53 290.35,201.76 290.77,201.94 291.38,202.2 291.89,202.43 292.37,202.64 292.91,202.87 293.41,203.09 293.92,203.32 294.42,203.54 294.91,203.76 295.42,203.98 295.87,204.19 296.41,204.43 296.91,204.65 297.4,204.88 297.89,205.1 298.38,205.32 298.87,205.54 299.35,205.76 299.84,205.99 300.32,206.21 300.8,206.43 301.28,206.65 301.76,206.88 302.24,207.1 302.71,207.32 303.18,207.54 303.66,207.77 304.13,207.99 304.59,208.21 305.06,208.44 305.53,208.66 305.99,208.88 306.45,209.1 306.91,209.32 307.33,209.53 307.83,209.77 308.29,209.99 308.74,210.21 309.19,210.44 309.65,210.66 310.1,210.88 310.51,211.09 310.99,211.33 311.44,211.55 311.88,211.77 312.33,212 312.74,212.2 313.21,212.44 313.65,212.66 314.08,212.88 314.52,213.11 314.95,213.33 315.39,213.55 315.82,213.78 316.24,213.99 316.68,214.22 317.11,214.44 317.52,214.66 317.96,214.89 318.38,215.11 318.79,215.33 319.23,215.56 319.65,215.78 320.07,216 320.48,216.22 320.9,216.44 321.31,216.67 321.73,216.89 322.14,217.11 322.55,217.33 322.96,217.56 323.37,217.78 323.77,218 324.18,218.22 324.58,218.45 324.99,218.67 325.39,218.89 325.79,219.11 326.19,219.34 326.59,219.56 326.98,219.78 327.38,220 327.78,220.23 328.17,220.45 328.56,220.67 328.95,220.89 329.34,221.12 329.73,221.34 330.12,221.56 330.51,221.78 330.89,222.01 331.27,222.23 331.66,222.45 332.04,222.67 332.42,222.9Z" fill="#4A94C3" stroke="#4A94C3" stroke-width="0.4"/>
<path d="M332.48,208.71 332.8,208.21 332.8,207.54 332.8,206.88 332.8,206.21 332.8,205.54 332.8,204.88 332.8,204.21 332.8,203.54 332.8,202.87 332.8,202.2 332.8,201.54 332.8,200.87 332.8,200.2 332.8,199.53 332.8,198.87 332.8,198.2 332.8,197.53 332.8,196.87 332.8,196.2 332.8,195.53 332.8,194.86 332.8,194.19 332.8,193.53 332.8,192.86 332.8,192.19 332.8,191.52 332.8,190.86 332.8,190.19 332.8,189.52 332.8,188.85 332.8,188.19 332.8,187.52 332.8,186.85 332.8,186.19 332.8,185.52 332.8,184.85 332.8,184.18 332.8,183.51 332.8,182.85 332.8,182.18 332.8,181.51 332.8,180.84 332.8,180.18 332.8,179.51 332.8,178.84 332.8,178.17 332.8,177.51 332.8,176.84 332.8,176.17 332.8,175.5 332.8,174.84 332.8,174.17 332.8,173.5 332.8,172.83 332.8,172.17 332.8,171.5 332.8,170.83 332.8,170.16 332.8,169.5 332.8,168.83 332.8,168.16 332.8,167.5 332.8,166.83 332.8,166.16 332.8,165.49 332.8,164.82 332.8,164.16 332.8,163.49 332.8,162.82 332.8,162.15 332.8,161.49 332.8,160.82 332.8,160.15 332.8,159.49 332.8,158.82 332.8,158.15 332.8,157.48 332.8,156.81 332.8,156.15 332.8,155.48 332.8,154.81 332.8,154.14 332.8,153.48 332.8,152.81 332.8,152.14 332.8,151.47 332.8,150.81 332.8,150.14 332.8,149.47 332.8,148.81 332.8,148.14 332.8,147.47 332.8,146.8 332.8,146.13 332.8,145.47 332.8,144.8 332.8,144.13 332.8,143.46 332.8,142.8 332.8,142.13 332.8,141.46 332.8,140.79 332.8,140.13 332.8,139.46 332.8,138.79 332.8,138.12 332.8,137.46 332.8,136.79 332.8,136.12 332.8,135.45 332.8,134.79 332.8,134.12 332.8,133.45 332.8,132.78 332.8,132.12 332.8,131.45 332.8,130.78 332.8,130.12 332.8,129.45 332.8,128.78 332.8,128.11 332.8,127.44 332.8,126.78 332.8,126.11 332.8,125.44 332.8,124.77 332.8,124.11 332.8,123.44 332.8,122.77 332.8,122.1 332.8,121.44 332.8,120.77 332.8,120.1 332.8,119.43 332.8,118.77 332.8,118.1 332.48,117.78 331.84,117.84 331.21,117.91 330.57,117.98 329.93,118.04 329.3,118.11 328.66,118.18 328.02,118.25 327.39,118.31 326.75,118.38 326.11,118.45 325.48,118.52 324.84,118.59 324.2,118.66 323.57,118.73 322.93,118.79 322.29,118.86 321.66,118.93 321.02,119 320.38,119.07 319.75,119.14 319.13,119.21 318.47,119.29 317.84,119.36 317.2,119.43 316.56,119.5 315.93,119.57 315.29,119.64 314.65,119.72 314.02,119.79 313.38,119.86 312.74,119.93 312.11,120.01 311.47,120.08 310.83,120.15 310.2,120.23 309.56,120.3 308.92,120.38 308.29,120.45 307.65,120.52 307.01,120.6 306.37,120.67 305.74,120.75 305.1,120.83 304.46,120.9 303.83,120.98 303.19,121.05 302.55,121.13 301.92,121.21 301.28,121.28 300.64,121.36 300.02,121.44 299.37,121.52 298.73,121.6 298.1,121.67 297.46,121.75 296.82,121.83 296.19,121.91 295.55,121.99 294.91,122.07 294.28,122.15 293.64,122.23 293,122.31 292.37,122.39 291.73,122.47 291.12,122.55 290.46,122.64 289.82,122.72 289.18,122.8 288.55,122.88 287.91,122.96 287.27,123.05 286.64,123.13 286,123.21 285.36,123.3 284.73,123.38 284.09,123.47 283.45,123.55 282.82,123.64 282.18,123.72 281.54,123.81 280.96,123.88 280.27,123.98 279.63,124.06 278.99,124.15 278.36,124.24 277.72,124.33 277.08,124.41 276.45,124.5 275.81,124.59 275.17,124.68 274.54,124.77 273.9,124.86 273.26,124.95 272.63,125.03 271.99,125.12 271.35,125.22 270.72,125.31 270.08,125.4 269.44,125.49 268.81,125.58 268.22,125.66 267.53,125.76 266.9,125.86 266.26,125.95 265.62,126.04 264.99,126.14 264.35,126.23 263.71,126.32 263.08,126.42 262.44,126.51 261.8,126.61 261.17,126.71 260.53,126.8 259.89,126.9 259.26,126.99 258.62,127.09 257.98,127.19 257.35,127.29 256.71,127.38 256.07,127.48 255.43,127.58 254.89,127.67 254.16,127.78 253.52,127.88 252.89,127.98 252.25,128.08 251.61,128.18 250.98,128.28 250.34,128.39 249.7,128.49 249.07,128.59 248.43,128.69 247.9,128.78 247.16,128.9 246.54,129 245.88,129.11 245.25,129.21 244.61,129.32 243.97,129.43 243.34,129.53 242.7,129.64 242.06,129.74 241.43,129.85 240.79,129.96 240.15,130.07 239.52,130.18 238.88,130.29 238.24,130.4 237.61,130.5 236.97,130.62 236.33,130.73 235.7,130.84 235.06,130.95 234.42,131.06 233.79,131.17 233.15,131.29 232.51,131.4 231.88,131.51 231.24,131.63 230.6,131.74 229.96,131.86 229.33,131.97 228.69,132.09 228.05,132.2 227.42,132.32 226.78,132.44 226.14,132.56 225.51,132.68 224.92,132.78 224.23,132.91 223.6,133.03 222.96,133.15 222.32,133.27 221.69,133.4 221.05,133.52 220.41,133.64 219.78,133.76 219.14,133.89 218.5,134.01 217.94,134.12 217.23,134.26 216.59,134.38 215.96,134.51 215.32,134.64 214.68,134.76 214.05,134.89 213.45,135.01 212.77,135.15 212.14,135.28 211.5,135.4 210.86,135.53 210.23,135.67 209.59,135.8 209.09,135.9 208.32,136.06 207.68,136.19 207.04,136.33 206.41,136.46 205.9,136.57 205.13,136.73 204.49,136.87 203.86,137 203.22,137.14 202.58,137.28 201.95,137.41 201.31,137.55 200.73,137.68 200.04,137.83 199.4,137.97 198.76,138.11 198.13,138.26 197.49,138.4 196.85,138.54 196.22,138.69 195.58,138.83 194.94,138.97 194.31,139.12 193.79,139.24 193.03,139.41 192.4,139.56 191.87,139.68 191.12,139.86 190.49,140.01 189.97,140.13 189.21,140.31 188.58,140.46 187.94,140.61 187.3,140.76 186.67,140.92 186.03,141.07 185.39,141.23 184.76,141.38 184.12,141.54 183.53,141.69 182.85,141.86 182.21,142.01 181.57,142.17 180.94,142.33 180.3,142.49 179.66,142.66 179.11,142.8 178.39,142.98 177.75,143.15 177.11,143.31 176.52,143.46 175.84,143.64 175.2,143.81 174.57,143.98 173.98,144.13 173.29,144.32 172.66,144.49 172.02,144.66 171.49,144.8 170.75,145 170.11,145.18 169.47,145.35 168.84,145.53 168.24,145.69 167.56,145.88 166.93,146.06 166.29,146.24 165.65,146.41 165.07,146.58 164.38,146.78 163.74,146.96 163.11,147.14 162.47,147.33 161.98,147.47 161.22,147.69 160.56,147.89 159.92,148.07 159.29,148.26 158.65,148.45 158.01,148.64 157.47,148.81 156.74,149.03 156.1,149.22 155.47,149.42 154.83,149.61 154.19,149.81 153.55,150.01 152.92,150.21 152.42,150.36 151.71,150.58 151.01,150.81 150.37,151.01 149.73,151.22 149.1,151.42 148.46,151.63 147.82,151.88 148.46,152.08 149.1,152.19 149.73,152.31 150.37,152.42 151.01,152.54 151.64,152.65 152.28,152.77 152.92,152.88 153.55,153 154.19,153.12 154.83,153.24 155.47,153.35 156.1,153.47 156.74,153.59 157.34,153.7 158.01,153.83 158.53,153.92 159.29,154.06 159.92,154.18 160.56,154.3 161.2,154.42 161.83,154.55 162.47,154.67 163.11,154.79 163.74,154.91 164.38,155.03 165.02,155.16 165.54,155.26 166.29,155.4 166.93,155.53 167.56,155.65 168.2,155.77 168.84,155.9 169.47,156.02 170.09,156.15 170.75,156.28 171.38,156.4 172.02,156.53 172.66,156.66 173.29,156.79 173.93,156.91 174.55,157.04 175.2,157.17 175.84,157.3 176.48,157.43 177.11,157.56 177.75,157.69 178.39,157.82 178.9,157.93 179.66,158.08 180.3,158.22 180.94,158.35 181.57,158.48 182.11,158.59 182.85,158.75 183.48,158.88 184.12,159.02 184.76,159.15 185.27,159.26 186.03,159.42 186.67,159.56 187.3,159.7 187.94,159.83 188.58,159.97 189.21,160.11 189.85,160.25 190.43,160.38 191.12,160.53 191.76,160.67 192.4,160.81 193.03,160.95 193.67,161.09 194.31,161.23 194.94,161.37 195.46,161.49 196.22,161.66 196.85,161.8 197.43,161.93 198.13,162.09 198.76,162.24 199.39,162.38 200.04,162.53 200.67,162.67 201.31,162.82 201.95,162.97 202.58,163.12 203.22,163.26 203.86,163.41 204.49,163.56 205.13,163.71 205.77,163.86 206.41,164.01 207.01,164.16 207.68,164.32 208.32,164.47 208.88,164.6 209.59,164.77 210.23,164.93 210.72,165.05 211.5,165.24 212.14,165.39 212.77,165.55 213.41,165.71 214.05,165.86 214.68,166.02 215.25,166.16 215.96,166.34 216.59,166.5 217.23,166.66 217.87,166.82 218.5,166.98 219.14,167.14 219.67,167.27 220.41,167.46 221.05,167.63 221.69,167.79 222.27,167.94 222.96,168.12 223.6,168.28 224.23,168.45 224.84,168.61 225.51,168.78 226.14,168.95 226.78,169.12 227.37,169.27 228.05,169.46 228.69,169.63 229.33,169.8 229.86,169.94 230.6,170.14 231.24,170.31 231.88,170.49 232.51,170.66 233.13,170.83 233.79,171.01 234.42,171.19 235.06,171.36 235.55,171.5 236.33,171.72 236.97,171.9 237.61,172.07 238.24,172.25 238.72,172.39 239.2,172.53 239.83,172.71 240.47,172.89 241.06,173.06 241.74,173.25 242.38,173.44 243.02,173.62 243.66,173.81 244.14,173.95 244.61,174.09 245.25,174.27 245.88,174.46 246.4,174.61 247.15,174.84 247.79,175.03 248.43,175.22 249.07,175.41 249.7,175.6 250.34,175.79 250.85,175.95 251.58,176.17 252.25,176.38 252.89,176.57 253.52,176.77 254.16,176.97 254.8,177.16 255.43,177.36 255.9,177.51 256.39,177.66 257.03,177.86 257.66,178.06 258.3,178.27 258.94,178.47 259.41,178.62 259.89,178.77 260.53,178.98 261.17,179.18 261.8,179.39 262.44,179.6 263.08,179.81 263.53,179.95 264.03,180.12 264.67,180.33 265.3,180.54 265.94,180.75 266.58,180.97 267.21,181.18 267.85,181.39 268.49,181.61 269.12,181.82 269.76,182.04 270.4,182.26 271.04,182.48 271.67,182.7 272.31,182.92 272.95,183.14 273.58,183.36 274.22,183.58 274.86,183.81 275.49,184.03 276.13,184.26 276.77,184.49 277.4,184.71 278.04,184.94 278.68,185.17 279.31,185.4 279.95,185.63 280.59,185.87 281.22,186.1 281.86,186.33 282.5,186.57 283.13,186.81 283.77,187.04 284.41,187.28 285.04,187.52 285.63,187.74 286.22,187.97 286.81,188.19 287.27,188.37 287.91,188.61 288.55,188.85 289.12,189.08 289.7,189.3 290.14,189.47 290.77,189.72 291.41,189.97 291.97,190.19 292.53,190.41 293,190.6 293.64,190.85 294.21,191.08 294.76,191.3 295.23,191.49 295.87,191.75 296.41,191.97 296.96,192.19 297.46,192.4 298.05,192.64 298.59,192.86 299.05,193.05 299.66,193.31 300.19,193.53 300.64,193.72 301.26,193.97 301.78,194.19 302.24,194.39 302.84,194.64 303.36,194.86 303.83,195.06 304.4,195.31 304.91,195.53 305.42,195.75 305.94,195.97 306.37,196.16 306.96,196.42 307.47,196.64 307.97,196.86 308.48,197.09 308.92,197.28 309.48,197.53 309.98,197.75 310.47,197.98 310.97,198.2 311.46,198.42 311.95,198.64 312.42,198.86 312.93,199.09 313.38,199.3 313.9,199.53 314.33,199.74 314.86,199.98 315.29,200.18 315.82,200.42 316.24,200.62 316.77,200.87 317.2,201.07 317.71,201.31 318.15,201.52 318.65,201.76 319.11,201.98 319.58,202.2 320.04,202.43 320.5,202.65 320.96,202.87 321.42,203.09 321.88,203.32 322.29,203.52 322.79,203.76 323.24,203.98 323.69,204.21 324.14,204.43 324.58,204.65 325.03,204.88 325.47,205.1 325.92,205.32 326.36,205.54 326.8,205.76 327.24,205.99 327.67,206.21 328.11,206.43 328.54,206.66 328.97,206.88 329.4,207.1 329.83,207.32 330.25,207.54 330.69,207.77 331.11,207.99 331.53,208.21 331.96,208.44 332.38,208.66Z" fill="#69B08E" stroke="#69B08E" stroke-width="0.4"/>
<path d="M332.8,194.64 332.8,193.97 332.8,193.31 332.8,192.64 332.8,191.97 332.8,191.3 332.8,190.63 332.8,189.97 332.8,189.3 332.8,188.63 332.8,187.97 332.8,187.3 332.8,186.63 332.8,185.96 332.8,185.3 332.8,184.63 332.8,183.96 332.8,183.29 332.8,182.62 332.8,181.96 332.8,181.29 332.8,180.62 332.8,179.95 332.8,179.29 332.8,178.62 332.8,177.95 332.8,177.28 332.8,176.62 332.8,175.95 332.8,175.28 332.8,174.62 332.8,173.95 332.8,173.28 332.8,172.61 332.8,171.94 332.8,171.28 332.8,170.61 332.8,169.94 332.8,169.27 332.8,168.61 332.8,167.94 332.8,167.27 332.8,166.6 332.8,165.94 332.8,165.27 332.8,164.6 332.8,163.94 332.8,163.27 332.8,162.6 332.8,161.93 332.8,161.26 332.8,160.6 332.8,159.93 332.8,159.26 332.8,158.59 332.8,157.93 332.8,157.26 332.8,156.59 332.8,155.93 332.8,155.26 332.8,154.59 332.8,153.92 332.8,153.25 332.8,152.59 332.8,151.92 332.8,151.25 332.8,150.58 332.8,149.92 332.8,149.25 332.8,148.58 332.8,147.91 332.8,147.25 332.8,146.58 332.8,145.91 332.8,145.25 332.8,144.58 332.8,143.91 332.8,143.24 332.8,142.57 332.8,141.91 332.8,141.24 332.8,140.57 332.8,139.9 332.8,139.24 332.8,138.57 332.8,137.9 332.8,137.24 332.8,136.57 332.8,135.9 332.8,135.23 332.8,134.56 332.8,133.9 332.8,133.23 332.8,132.56 332.8,131.89 332.8,131.23 332.8,130.56 332.8,129.89 332.8,129.22 332.8,128.56 332.8,127.89 332.8,127.22 332.8,126.55 332.8,125.89 332.8,125.22 332.8,124.55 332.8,123.88 332.8,123.22 332.8,122.55 332.8,121.88 332.8,121.21 332.8,120.59 332.16,120.66 331.53,120.73 330.89,120.8 330.25,120.88 329.62,120.95 328.98,121.02 328.34,121.09 327.71,121.16 327.07,121.24 326.43,121.31 325.8,121.38 325.16,121.45 324.52,121.53 323.89,121.6 323.25,121.67 322.61,121.75 321.98,121.82 321.34,121.9 320.7,121.97 320.07,122.05 319.43,122.12 318.79,122.2 318.15,122.27 317.52,122.35 316.88,122.42 316.24,122.5 315.61,122.58 314.97,122.65 314.33,122.73 313.7,122.81 313.06,122.88 312.42,122.96 311.79,123.04 311.15,123.12 310.51,123.2 309.88,123.27 309.24,123.35 308.6,123.43 307.97,123.51 307.33,123.59 306.76,123.66 306.06,123.75 305.42,123.83 304.78,123.91 304.15,123.99 303.51,124.07 302.87,124.16 302.24,124.24 301.6,124.32 300.96,124.4 300.33,124.48 299.69,124.57 299.05,124.65 298.42,124.73 297.78,124.82 297.14,124.9 296.51,124.99 295.87,125.07 295.23,125.15 294.6,125.24 293.96,125.32 293.32,125.41 292.68,125.5 292.05,125.58 291.44,125.66 290.77,125.76 290.14,125.84 289.5,125.93 288.86,126.02 288.23,126.11 287.59,126.19 286.95,126.28 286.32,126.37 285.68,126.46 285.04,126.55 284.41,126.64 283.77,126.73 283.13,126.82 282.5,126.91 281.86,127 281.22,127.09 280.59,127.18 279.95,127.27 279.31,127.37 278.77,127.44 278.04,127.55 277.4,127.64 276.77,127.74 276.13,127.83 275.49,127.93 274.86,128.02 274.24,128.11 273.58,128.21 272.95,128.31 272.31,128.4 271.67,128.5 271.04,128.59 270.4,128.69 269.81,128.78 269.12,128.88 268.49,128.98 267.85,129.08 267.21,129.18 266.58,129.28 265.94,129.38 265.3,129.48 264.67,129.58 264.07,129.67 263.39,129.78 262.76,129.88 262.12,129.98 261.48,130.08 260.85,130.18 260.21,130.29 259.57,130.39 258.94,130.49 258.3,130.59 257.66,130.7 257.03,130.8 256.39,130.91 255.8,131 255.12,131.12 254.48,131.22 253.84,131.33 253.21,131.44 252.57,131.54 251.93,131.65 251.3,131.76 250.66,131.87 250.02,131.98 249.39,132.08 248.75,132.19 248.11,132.3 247.48,132.41 246.84,132.52 246.2,132.64 245.57,132.75 244.93,132.86 244.29,132.97 243.66,133.08 243.02,133.2 242.38,133.31 241.74,133.42 241.11,133.54 240.47,133.65 239.83,133.77 239.2,133.88 238.56,134 237.92,134.12 237.29,134.23 236.7,134.34 236.01,134.47 235.51,134.56 234.74,134.71 234.1,134.83 233.47,134.95 232.83,135.07 232.19,135.19 231.56,135.31 230.92,135.43 230.28,135.55 229.65,135.68 229.01,135.8 228.49,135.9 227.74,136.05 227.1,136.17 226.46,136.3 225.83,136.42 225.19,136.55 224.55,136.68 223.98,136.79 223.28,136.93 222.64,137.06 222.01,137.19 221.37,137.32 220.73,137.45 220.1,137.58 219.46,137.71 218.82,137.84 218.19,137.97 217.55,138.11 216.91,138.24 216.39,138.35 215.64,138.51 215,138.64 214.36,138.78 213.73,138.91 213.09,139.05 212.45,139.19 211.82,139.32 211.19,139.46 210.54,139.6 209.91,139.74 209.27,139.88 208.63,140.02 208,140.16 207.36,140.3 206.72,140.44 206.16,140.57 205.45,140.73 204.81,140.88 204.19,141.02 203.54,141.17 202.9,141.31 202.27,141.46 201.63,141.61 200.99,141.75 200.36,141.9 199.72,142.05 199.08,142.2 198.45,142.35 197.81,142.5 197.17,142.66 196.58,142.8 195.9,142.96 195.26,143.11 194.74,143.24 193.99,143.42 193.35,143.58 192.72,143.74 192.08,143.89 191.44,144.05 190.8,144.21 190.23,144.35 189.53,144.53 188.89,144.69 188.26,144.85 187.62,145.02 186.98,145.18 186.35,145.34 185.87,145.47 185.07,145.67 184.44,145.84 183.8,146.01 183.31,146.13 182.53,146.34 181.89,146.51 181.25,146.68 180.62,146.85 179.98,147.02 179.34,147.2 178.71,147.37 178.07,147.54 177.53,147.69 176.8,147.9 176.16,148.07 175.52,148.31 176.16,148.55 176.8,148.66 177.43,148.78 178.07,148.9 178.71,149.01 179.34,149.13 179.98,149.25 180.62,149.37 181.18,149.47 181.89,149.61 182.53,149.73 183.16,149.85 183.8,149.97 184.44,150.09 185.07,150.21 185.71,150.33 186.35,150.45 186.98,150.57 187.62,150.7 188.2,150.81 188.89,150.94 189.53,151.07 190.17,151.19 190.8,151.31 191.44,151.44 192.08,151.56 192.72,151.69 193.35,151.82 193.87,151.92 194.63,152.07 195.26,152.2 195.9,152.33 196.54,152.45 197.17,152.58 197.81,152.71 198.45,152.84 199.08,152.97 199.72,153.1 200.36,153.23 200.99,153.36 201.55,153.48 202.27,153.63 202.9,153.76 203.54,153.89 204.18,154.03 204.75,154.14 205.45,154.29 206.09,154.43 206.72,154.56 207.36,154.7 207.89,154.81 208.63,154.97 209.27,155.11 209.91,155.25 210.54,155.38 211.18,155.52 211.82,155.66 212.45,155.8 213.02,155.93 213.73,156.08 214.36,156.22 215,156.36 215.64,156.5 216.27,156.65 216.91,156.79 217.55,156.93 218.19,157.08 218.82,157.22 219.46,157.36 219.98,157.48 220.73,157.66 221.37,157.8 221.91,157.93 222.64,158.1 223.28,158.24 223.83,158.37 224.55,158.54 225.19,158.69 225.73,158.82 226.46,158.99 227.1,159.14 227.61,159.26 228.37,159.44 229.01,159.6 229.65,159.75 230.28,159.9 230.92,160.06 231.56,160.21 232.19,160.37 232.83,160.52 233.47,160.68 234.04,160.82 234.74,160.99 235.38,161.15 236.01,161.31 236.65,161.47 237.29,161.63 237.92,161.79 238.49,161.93 239.2,162.11 239.83,162.27 240.47,162.44 241.11,162.6 241.74,162.76 242.38,162.93 243.02,163.09 243.66,163.26 244.29,163.43 244.93,163.59 245.57,163.76 246.2,163.93 246.84,164.1 247.48,164.27 248.11,164.44 248.73,164.6 249.39,164.78 250.02,164.95 250.66,165.12 251.2,165.27 251.93,165.47 252.57,165.65 253.21,165.82 253.84,166 254.43,166.16 255.12,166.35 255.75,166.53 256.39,166.71 257.03,166.89 257.6,167.05 258.3,167.25 258.94,167.43 259.57,167.61 260.21,167.79 260.72,167.94 261.48,168.16 262.12,168.35 262.76,168.53 263.39,168.72 264.03,168.91 264.52,169.05 265.27,169.28 265.94,169.47 266.58,169.66 267.21,169.85 267.85,170.05 268.49,170.24 268.98,170.39 269.44,170.53 270.08,170.72 270.72,170.92 271.35,171.11 271.88,171.28 272.6,171.5 273.26,171.71 273.9,171.91 274.54,172.11 275.17,172.31 275.81,172.51 276.45,172.71 277.08,172.91 277.72,173.12 278.22,173.28 278.68,173.43 279.31,173.63 279.95,173.84 280.59,174.05 281.22,174.26 281.86,174.47 282.5,174.68 282.98,174.84 283.45,174.99 284.09,175.21 284.73,175.42 285.36,175.64 286,175.85 286.64,176.07 287.27,176.29 287.91,176.5 288.55,176.72 289.18,176.94 289.82,177.16 290.46,177.39 291.09,177.61 291.73,177.83 292.37,178.06 293,178.28 293.64,178.51 294.28,178.74 294.91,178.97 295.55,179.2 296.19,179.43 296.82,179.66 297.46,179.89 298.1,180.13 298.73,180.36 299.37,180.6 300.01,180.83 300.63,181.07 301.23,181.29 301.82,181.51 302.4,181.73 302.87,181.91 303.51,182.16 304.15,182.4 304.73,182.62 305.31,182.85 305.88,183.07 306.37,183.26 307.01,183.51 307.59,183.74 308.15,183.96 308.6,184.14 309.24,184.39 309.83,184.63 310.39,184.85 310.83,185.03 311.47,185.29 312.04,185.52 312.59,185.74 313.06,185.93 313.67,186.19 314.21,186.41 314.65,186.59 315.29,186.85 315.82,187.07 316.24,187.25 316.88,187.52 317.41,187.74 317.84,187.92 318.46,188.19 318.98,188.41 319.43,188.6 320.02,188.85 320.53,189.08 321.02,189.29 321.56,189.52 321.98,189.71 322.57,189.97 323.08,190.19 323.57,190.41 324.08,190.63 324.52,190.83 325.08,191.08 325.58,191.3 326.07,191.52 326.56,191.75 327.05,191.97 327.54,192.19 328.02,192.41 328.52,192.64 328.98,192.85 329.48,193.08 329.93,193.29 330.44,193.53 330.89,193.74 331.39,193.97 331.84,194.19 332.33,194.42 332.8,194.64Z" fill="#97BC5E" stroke="#97BC5E" stroke-width="0.4"/>
<path d="M332.8,180.4 332.8,179.73 332.8,179.06 332.8,178.4 332.8,177.73 332.8,177.06 332.8,176.39 332.8,175.73 332.8,175.06 332.8,174.39 332.8,173.72 332.8,173.06 332.8,172.39 332.8,171.72 332.8,171.06 332.8,170.39 332.8,169.72 332.8,169.05 332.8,168.38 332.8,167.72 332.8,167.05 332.8,166.38 332.8,165.72 332.8,165.05 332.8,164.38 332.8,163.71 332.8,163.05 332.8,162.38 332.8,161.71 332.8,161.04 332.8,160.38 332.8,159.71 332.8,159.04 332.8,158.37 332.8,157.7 332.8,157.04 332.8,156.37 332.8,155.7 332.8,155.03 332.8,154.37 332.8,153.7 332.8,153.03 332.8,152.37 332.8,151.7 332.8,151.03 332.8,150.36 332.8,149.69 332.8,149.03 332.8,148.36 332.8,147.69 332.8,147.02 332.8,146.36 332.8,145.69 332.8,145.02 332.8,144.35 332.8,143.69 332.8,143.02 332.8,142.35 332.8,141.69 332.8,141.02 332.8,140.35 332.8,139.68 332.8,139.01 332.8,138.35 332.8,137.68 332.8,137.01 332.8,136.34 332.8,135.68 332.8,135.01 332.8,134.34 332.8,133.68 332.8,133.01 332.8,132.34 332.8,131.67 332.8,131 332.8,130.34 332.8,129.67 332.8,129 332.8,128.33 332.8,127.67 332.8,127 332.8,126.33 332.8,125.66 332.8,125 332.8,124.33 332.8,123.66 332.16,123.51 331.53,123.59 330.91,123.66 330.25,123.74 329.62,123.82 329.04,123.88 328.34,123.97 327.71,124.05 327.07,124.12 326.43,124.2 325.8,124.28 325.16,124.35 324.52,124.43 323.89,124.51 323.25,124.59 322.61,124.67 321.98,124.74 321.34,124.82 320.7,124.9 320.07,124.98 319.43,125.06 318.79,125.14 318.16,125.22 317.52,125.3 316.88,125.38 316.24,125.46 315.61,125.54 314.97,125.63 314.33,125.71 313.7,125.79 313.06,125.87 312.42,125.95 311.79,126.04 311.22,126.11 310.51,126.2 309.88,126.28 309.24,126.37 308.6,126.45 307.97,126.54 307.33,126.62 306.69,126.71 306.16,126.78 305.42,126.88 304.78,126.96 304.15,127.05 303.51,127.13 302.87,127.22 302.24,127.31 301.6,127.39 300.96,127.48 300.33,127.57 299.69,127.66 299.05,127.74 298.42,127.83 297.78,127.92 297.14,128.01 296.51,128.1 295.87,128.19 295.23,128.28 294.6,128.37 293.96,128.46 293.32,128.55 292.68,128.64 292.05,128.73 291.41,128.82 290.77,128.92 290.18,129 289.5,129.1 288.86,129.19 288.23,129.29 287.59,129.38 286.95,129.47 286.32,129.57 285.68,129.66 285.04,129.76 284.41,129.85 283.77,129.95 283.13,130.04 282.5,130.14 281.86,130.24 281.22,130.33 280.59,130.43 279.95,130.53 279.31,130.63 278.68,130.72 278.04,130.82 277.4,130.92 276.86,131 276.13,131.12 275.49,131.22 274.86,131.32 274.22,131.42 273.58,131.52 272.95,131.62 272.31,131.72 271.67,131.82 271.04,131.93 270.4,132.03 269.85,132.12 269.12,132.24 268.49,132.34 267.85,132.44 267.21,132.55 266.58,132.65 265.94,132.76 265.3,132.86 264.67,132.97 264.03,133.07 263.39,133.18 262.76,133.29 262.12,133.4 261.48,133.5 260.85,133.61 260.21,133.72 259.57,133.83 258.94,133.94 258.3,134.05 257.66,134.16 257.03,134.27 256.39,134.38 255.75,134.49 255.12,134.6 254.48,134.72 253.84,134.83 253.21,134.94 252.57,135.05 251.93,135.17 251.3,135.28 250.66,135.4 250.02,135.51 249.39,135.63 248.75,135.74 248.11,135.86 247.48,135.98 246.84,136.1 246.2,136.21 245.57,136.33 244.93,136.45 244.3,136.57 243.66,136.69 243.12,136.79 242.38,136.93 241.74,137.05 241.11,137.17 240.47,137.29 239.83,137.42 239.2,137.54 238.56,137.66 237.92,137.79 237.32,137.9 236.65,138.03 236.01,138.16 235.38,138.29 234.74,138.41 234.1,138.54 233.47,138.67 232.83,138.79 232.19,138.92 231.56,139.05 230.92,139.18 230.28,139.31 229.65,139.44 229.01,139.57 228.46,139.68 227.74,139.83 227.1,139.96 226.46,140.1 225.83,140.23 225.26,140.35 224.55,140.5 223.92,140.63 223.28,140.77 222.64,140.91 222.12,141.02 221.37,141.18 220.73,141.32 220.1,141.46 219.46,141.59 218.82,141.73 218.19,141.87 217.55,142.01 217.03,142.13 216.27,142.3 215.64,142.44 215.04,142.57 214.36,142.73 213.73,142.87 213.09,143.02 212.45,143.16 211.82,143.31 211.18,143.45 210.54,143.6 209.91,143.75 209.27,143.9 208.63,144.05 208,144.19 207.36,144.35 206.72,144.5 206.09,144.71 205.45,144.8 206.09,144.92 206.64,145.02 207.36,145.16 208,145.28 208.63,145.4 209.27,145.52 209.91,145.64 210.54,145.76 211.18,145.88 211.82,146.01 212.45,146.13 213.09,146.25 213.63,146.36 214.36,146.5 215,146.63 215.64,146.75 216.27,146.88 216.91,147 217.55,147.13 218.15,147.25 218.82,147.38 219.46,147.51 220.1,147.64 220.73,147.77 221.37,147.9 222.01,148.03 222.56,148.14 223.28,148.29 223.92,148.42 224.55,148.55 225.19,148.68 225.8,148.81 226.46,148.94 227.1,149.08 227.74,149.21 228.37,149.34 228.98,149.47 229.65,149.61 230.28,149.75 230.92,149.89 231.56,150.02 232.1,150.14 232.83,150.3 233.47,150.43 234.1,150.57 234.74,150.71 235.38,150.85 236.01,150.99 236.65,151.13 237.2,151.25 237.92,151.41 238.56,151.56 239.19,151.7 239.83,151.84 240.47,151.99 241.11,152.13 241.74,152.27 242.38,152.42 243.02,152.56 243.66,152.71 244.29,152.86 244.93,153.01 245.57,153.15 246.2,153.3 246.84,153.45 247.48,153.6 248.11,153.75 248.75,153.9 249.39,154.05 250.02,154.2 250.66,154.36 251.3,154.51 251.93,154.66 252.55,154.81 253.21,154.97 253.84,155.13 254.38,155.26 255.12,155.44 255.75,155.6 256.39,155.75 257.03,155.91 257.66,156.07 258.3,156.23 258.85,156.37 259.57,156.55 260.21,156.71 260.85,156.87 261.48,157.04 262.12,157.2 262.76,157.36 263.39,157.53 264.03,157.69 264.67,157.86 265.3,158.03 265.94,158.19 266.58,158.36 267.21,158.53 267.85,158.7 268.49,158.87 269.12,159.04 269.76,159.21 270.4,159.38 271.04,159.56 271.59,159.71 272.31,159.9 272.95,160.08 273.58,160.25 274.22,160.43 274.82,160.6 275.49,160.78 276.13,160.96 276.77,161.14 277.4,161.32 277.99,161.49 278.68,161.68 279.31,161.86 279.95,162.05 280.59,162.23 281.09,162.38 281.86,162.6 282.5,162.79 283.13,162.97 283.77,163.16 284.41,163.35 284.89,163.49 285.36,163.63 286,163.82 286.64,164.01 287.12,164.16 287.59,164.3 288.23,164.49 288.86,164.69 289.5,164.88 290.04,165.05 290.76,165.27 291.41,165.47 292.05,165.67 292.68,165.87 293.32,166.07 293.96,166.27 294.6,166.47 295.23,166.67 295.72,166.83 296.19,166.98 296.82,167.18 297.46,167.39 298.1,167.59 298.73,167.8 299.37,168.01 299.84,168.16 300.33,168.32 300.96,168.53 301.6,168.74 302.24,168.96 302.87,169.17 303.51,169.38 304.15,169.6 304.78,169.82 305.42,170.03 306.06,170.25 306.69,170.47 307.33,170.69 307.97,170.91 308.6,171.13 309.24,171.36 309.88,171.58 310.51,171.81 311.15,172.03 311.79,172.26 312.42,172.49 313.06,172.72 313.7,172.95 314.33,173.18 314.97,173.41 315.61,173.65 316.24,173.88 316.88,174.12 317.52,174.35 318.15,174.59 318.79,174.83 319.39,175.06 319.98,175.28 320.57,175.5 321.02,175.68 321.66,175.92 322.29,176.17 322.88,176.39 323.45,176.62 323.89,176.79 324.52,177.04 325.15,177.29 325.71,177.51 326.27,177.73 326.75,177.92 327.38,178.17 327.93,178.4 328.48,178.62 328.98,178.82 329.58,179.06 330.12,179.29 330.57,179.47 331.2,179.73 331.73,179.95 332.16,180.13 332.8,180.4Z" fill="#C5B945" stroke="#C5B945" stroke-width="0.4"/>
<path d="M332.48,166.04 332.8,165.72 332.8,165.05 332.8,164.38 332.8,163.71 332.8,163.05 332.8,162.38 332.8,161.71 332.8,161.04 332.8,160.38 332.8,159.71 332.8,159.04 332.8,158.37 332.8,157.7 332.8,157.04 332.8,156.37 332.8,155.7 332.8,155.03 332.8,154.37 332.8,153.7 332.8,153.03 332.8,152.37 332.8,151.7 332.8,151.03 332.8,150.36 332.8,149.69 332.8,149.03 332.8,148.36 332.8,147.69 332.8,147.02 332.8,146.36 332.8,145.69 332.8,145.02 332.8,144.35 332.8,143.69 332.8,143.02 332.8,142.35 332.8,141.69 332.8,141.02 332.8,140.35 332.8,139.68 332.8,139.01 332.8,138.35 332.8,137.68 332.8,137.01 332.8,136.34 332.8,135.68 332.8,135.01 332.8,134.34 332.8,133.68 332.8,133.01 332.8,132.34 332.8,131.67 332.8,131 332.8,130.34 332.8,129.67 332.8,129 332.8,128.33 332.8,127.67 332.8,127 332.8,126.33 332.16,126.37 331.53,126.45 330.89,126.53 330.25,126.61 329.62,126.69 328.98,126.77 328.34,126.85 327.71,126.93 327.14,127 326.43,127.09 325.8,127.17 325.16,127.25 324.52,127.34 323.89,127.42 323.25,127.5 322.61,127.58 321.98,127.67 321.34,127.75 320.7,127.83 320.07,127.92 319.43,128 318.79,128.09 318.15,128.17 317.52,128.26 316.92,128.33 316.24,128.43 315.61,128.51 314.97,128.6 314.33,128.68 313.7,128.77 313.06,128.86 312.42,128.94 311.79,129.03 311.15,129.12 310.51,129.21 309.88,129.3 309.24,129.38 308.6,129.47 307.97,129.56 307.33,129.65 306.69,129.74 306.06,129.83 305.42,129.92 304.78,130.01 304.15,130.1 303.51,130.19 302.87,130.28 302.24,130.38 301.6,130.47 300.96,130.56 300.33,130.65 299.69,130.75 299.05,130.84 298.42,130.93 297.78,131.03 297.14,131.12 296.51,131.21 295.87,131.31 295.23,131.4 294.6,131.5 293.96,131.59 293.32,131.69 292.68,131.79 292.05,131.88 291.41,131.98 290.77,132.08 290.14,132.17 289.5,132.27 288.86,132.37 288.23,132.47 287.63,132.56 286.95,132.67 286.32,132.77 285.68,132.87 285.04,132.97 284.41,133.07 283.77,133.17 283.13,133.27 282.5,133.37 281.86,133.47 281.22,133.57 280.6,133.68 279.95,133.78 279.31,133.88 278.68,133.99 278.04,134.09 277.4,134.2 276.77,134.3 276.13,134.41 275.49,134.51 274.86,134.62 274.22,134.72 273.58,134.83 272.95,134.94 272.31,135.04 271.67,135.15 271.04,135.26 270.4,135.37 269.76,135.48 269.12,135.59 268.59,135.68 267.85,135.81 267.31,135.9 266.58,136.03 266.03,136.12 265.3,136.25 264.76,136.34 264.03,136.47 263.5,136.57 262.76,136.7 262.12,136.81 261.48,136.93 260.85,137.04 260.21,137.16 259.57,137.27 258.94,137.39 258.3,137.5 257.66,137.62 257.03,137.74 256.39,137.85 255.75,137.97 255.12,138.09 254.48,138.21 253.84,138.33 253.21,138.45 252.57,138.57 251.93,138.69 251.38,138.79 250.66,138.93 250.02,139.05 249.39,139.17 248.75,139.3 248.11,139.42 247.48,139.54 246.84,139.67 246.2,139.79 245.62,139.9 244.93,140.04 244.29,140.17 243.66,140.29 243.02,140.42 242.38,140.55 241.74,140.68 241.15,140.79 240.47,140.93 239.83,141.11 239.2,141.22 239.83,141.41 240.47,141.53 241.11,141.66 241.74,141.78 242.37,141.91 243.02,142.04 243.66,142.16 244.29,142.29 244.93,142.42 245.57,142.55 246.2,142.67 246.81,142.8 247.48,142.93 248.11,143.06 248.75,143.19 249.39,143.33 250.02,143.46 250.66,143.59 251.3,143.72 251.93,143.85 252.57,143.99 253.21,144.12 253.84,144.26 254.48,144.39 255.12,144.53 255.75,144.66 256.39,144.8 257.03,144.94 257.66,145.07 258.3,145.21 258.94,145.35 259.47,145.47 260.21,145.63 260.85,145.77 261.48,145.91 262.12,146.05 262.76,146.2 263.39,146.34 264.03,146.48 264.67,146.63 265.3,146.77 265.94,146.91 266.58,147.06 267.21,147.21 267.85,147.35 268.36,147.47 269.12,147.65 269.76,147.8 270.27,147.91 271.04,148.09 271.67,148.25 272.31,148.4 272.95,148.55 273.58,148.7 274.22,148.85 274.86,149.01 275.49,149.16 276.13,149.31 276.77,149.47 277.4,149.62 278.04,149.78 278.59,149.92 279.31,150.1 279.95,150.25 280.59,150.41 281.22,150.57 281.86,150.73 282.5,150.89 283.03,151.03 283.77,151.22 284.41,151.38 285.04,151.55 285.63,151.7 286.32,151.87 286.95,152.04 287.59,152.21 288.19,152.37 288.86,152.54 289.5,152.71 290.14,152.88 290.71,153.03 291.41,153.22 292.05,153.39 292.68,153.57 293.18,153.7 293.96,153.91 294.6,154.09 295.23,154.26 295.87,154.44 296.41,154.59 297.14,154.79 297.78,154.97 298.42,155.15 299.05,155.33 299.58,155.48 300.33,155.69 300.96,155.88 301.6,156.06 302.24,156.24 302.87,156.43 303.44,156.59 304.15,156.8 304.78,156.99 305.42,157.18 306.06,157.36 306.69,157.55 307.2,157.7 307.93,157.93 308.6,158.13 309.24,158.32 309.88,158.52 310.51,158.71 311.15,158.91 311.79,159.11 312.29,159.26 313,159.49 313.7,159.7 314.33,159.9 314.97,160.1 315.61,160.31 316.24,160.51 316.88,160.72 317.52,160.92 318.15,161.13 318.79,161.33 319.26,161.49 319.75,161.65 320.38,161.86 321.02,162.07 321.66,162.28 322.29,162.49 322.93,162.71 323.57,162.92 324.2,163.14 324.84,163.36 325.48,163.57 326.11,163.79 326.75,164.01 327.39,164.23 328.02,164.46 328.66,164.68 329.3,164.9 329.93,165.13 330.57,165.36 331.21,165.59 331.84,165.81 332.48,166.04Z" fill="#E79C38" stroke="#E79C38" stroke-width="0.4"/>
<path d="M332.16,151.72 332.8,151.92 332.8,151.25 332.8,150.58 332.8,149.92 332.8,149.25 332.8,148.58 332.8,147.91 332.8,147.25 332.8,146.58 332.8,145.91 332.8,145.25 332.8,144.58 332.8,143.91 332.8,143.24 332.8,142.57 332.8,141.91 332.8,141.24 332.8,140.57 332.8,139.9 332.8,139.24 332.8,138.57 332.8,137.9 332.8,137.24 332.8,136.57 332.8,135.9 332.8,135.23 332.8,134.56 332.8,133.9 332.8,133.23 332.8,132.56 332.8,131.89 332.8,131.23 332.8,130.56 332.8,129.89 332.8,129.22 332.16,129.22 331.53,129.3 330.89,129.39 330.25,129.47 329.62,129.56 328.98,129.64 328.34,129.73 327.71,129.81 327.1,129.89 326.43,129.98 325.8,130.07 325.16,130.15 324.52,130.24 323.89,130.33 323.25,130.41 322.61,130.5 321.98,130.59 321.34,130.68 320.7,130.77 320.07,130.85 319.43,130.94 318.79,131.03 318.15,131.12 317.52,131.21 316.88,131.3 316.24,131.39 315.61,131.48 314.97,131.57 314.33,131.66 313.7,131.75 313.06,131.84 312.42,131.94 311.79,132.03 311.17,132.12 310.51,132.21 309.88,132.31 309.24,132.4 308.6,132.49 307.97,132.59 307.33,132.68 306.69,132.78 306.06,132.87 305.42,132.97 304.78,133.06 304.15,133.16 303.51,133.25 302.87,133.35 302.24,133.44 301.6,133.54 300.96,133.64 300.33,133.74 299.69,133.83 299.05,133.93 298.42,134.03 297.84,134.12 297.14,134.23 296.51,134.33 295.87,134.43 295.23,134.53 294.6,134.63 293.96,134.73 293.32,134.83 292.68,134.93 292.05,135.03 291.41,135.14 290.81,135.23 290.14,135.34 289.5,135.44 288.86,135.55 288.23,135.65 287.59,135.76 286.95,135.86 286.32,135.96 285.68,136.07 285.04,136.18 284.41,136.28 283.77,136.39 283.13,136.49 282.5,136.6 281.86,136.71 281.22,136.82 280.59,136.92 280.07,137.01 279.31,137.14 278.77,137.24 278.04,137.36 277.48,137.46 276.77,137.63 277.28,137.9 278.04,138.06 278.68,138.19 279.31,138.33 279.95,138.46 280.46,138.57 281.22,138.73 281.86,138.87 282.5,139 283.13,139.14 283.77,139.28 284.41,139.42 285.04,139.55 285.63,139.68 286.32,139.83 286.95,139.97 287.59,140.11 288.23,140.26 288.86,140.4 289.5,140.54 290.14,140.68 290.63,140.79 291.41,140.97 292.05,141.12 292.58,141.24 293.32,141.41 293.96,141.56 294.51,141.69 295.23,141.85 295.87,142 296.41,142.13 297.14,142.3 297.78,142.45 298.29,142.57 299.05,142.76 299.69,142.91 300.33,143.06 300.96,143.22 301.6,143.37 302.24,143.53 302.87,143.69 303.51,143.84 304.15,144 304.68,144.13 305.42,144.32 306.06,144.48 306.69,144.64 307.33,144.8 307.97,144.96 308.6,145.13 309.24,145.29 309.88,145.45 310.51,145.62 311.15,145.78 311.64,145.91 312.42,146.12 313.06,146.29 313.7,146.46 314.33,146.63 314.97,146.8 315.61,146.97 316.24,147.14 316.88,147.31 317.46,147.47 318.15,147.66 318.79,147.84 319.43,148.01 320.07,148.19 320.67,148.36 321.34,148.55 321.98,148.73 322.61,148.91 323.25,149.09 323.81,149.25 324.52,149.45 325.16,149.64 325.8,149.82 326.43,150.01 327.07,150.2 327.63,150.36 328.34,150.57 328.98,150.76 329.62,150.95 330.25,151.14 330.89,151.34 331.53,151.53 332.07,151.7Z" fill="#E55E2B" stroke="#E55E2B" stroke-width="0.4"/>
<path d="M332.16,137.52 332.8,137.68 332.8,137.01 332.8,136.34 332.8,135.68 332.8,135.01 332.8,134.34 332.8,133.68 332.8,133.01 332.8,132.34 332.48,132.03 331.84,132.12 331.21,132.2 330.57,132.29 329.93,132.38 329.3,132.47 328.66,132.56 328.02,132.65 327.39,132.74 326.75,132.83 326.11,132.92 325.49,133.01 324.84,133.1 324.2,133.19 323.57,133.28 322.93,133.37 322.38,133.45 321.66,133.56 321.02,133.65 320.38,133.74 319.75,133.84 319.11,133.97 318.47,134.07 317.84,134.12 318.47,134.27 319.11,134.41 319.75,134.56 320.38,134.7 321.02,134.85 321.66,134.99 322.29,135.14 322.93,135.29 323.57,135.44 324.2,135.59 324.84,135.74 325.48,135.89 326.11,136.04 326.75,136.19 327.38,136.34 328.02,136.5 328.66,136.66 329.21,136.79 329.93,136.97 330.57,137.12 331.21,137.28 331.84,137.44Z" fill="#DB2122" stroke="#DB2122" stroke-width="0.4"/>
<line x1="78.1" x2="332.8" y1="127" y2="127" stroke="#fff" stroke-width="3.2" stroke-dasharray="10.6 4.7" stroke-dashoffset="1.1"/>
<line x1="78.1" x2="332.8" y1="180.4" y2="180.4" stroke="#fff" stroke-width="3.2" stroke-dasharray="10.6 4.7" stroke-dashoffset="1.1"/>
<line x1="78.1" x2="332.8" y1="233.8" y2="233.8" stroke="#fff" stroke-width="3.2" stroke-dasharray="10.6 4.7" stroke-dashoffset="1.1"/>
<path d="M81.31,162.04 L82.15,161.9 L82.99,161.75 L83.82,161.61 L84.66,161.47 L85.5,161.33 L86.34,161.18 L87.18,161.04 L88.02,160.9 L88.85,160.76 L89.69,160.62 L90.53,160.48 L91.37,160.34 L92.21,160.2 L93.05,160.06 L93.88,159.93 L94.72,159.79 L95.56,159.65 L96.4,159.51 L97.24,159.38 L98.08,159.24 L98.91,159.11 L99.75,158.97 L100.59,158.84 L101.43,158.7 L102.27,158.57 L103.11,158.44 L103.94,158.3 L104.78,158.17 L105.62,158.04 L106.46,157.91 L107.3,157.78 L108.13,157.64 L108.97,157.51 L109.81,157.38 L110.65,157.25 L111.49,157.13 L112.33,157 L113.16,156.87 L114,156.74 L114.84,156.61 L115.68,156.49 L116.52,156.36 L117.36,156.23 L118.19,156.11 L119.03,155.98 L119.87,155.86 L120.71,155.73 L121.55,155.61 L122.39,155.48 L123.22,155.36 L124.06,155.23 L124.9,155.11 L125.74,154.99 L126.58,154.87 L127.42,154.74 L128.25,154.62 L129.09,154.5 L129.93,154.38 L130.77,154.26 L131.61,154.14 L132.45,154.02 L133.28,153.9 L134.12,153.78 L134.96,153.66 L135.8,153.54 L136.64,153.43 L137.48,153.31 L138.31,153.19 L139.15,153.07 L139.99,152.96 L140.83,152.84 L141.67,152.73 L142.51,152.61 L143.34,152.5 L144.18,152.38 L145.02,152.27 L145.86,152.15 L146.7,152.04 L147.54,151.92 L148.37,151.81 L149.21,151.7 L150.05,151.59 L150.89,151.47 L151.73,151.36 L152.56,151.25 L153.4,151.14 L154.24,151.03 L155.08,150.92 L155.92,150.81 L156.76,150.7 L157.59,150.59 L158.43,150.48 L159.27,150.37 L160.11,150.26 L160.95,150.15 L161.79,150.04 L162.62,149.93 L163.46,149.83 L164.3,149.72 L165.14,149.61 L165.98,149.51 L166.82,149.4 L167.65,149.29 L168.49,149.19 L169.33,149.08 L170.17,148.98 L171.01,148.87 L171.85,148.77 L172.68,148.66 L173.52,148.56 L174.36,148.45 L175.2,148.35 L176.04,148.25 L176.88,148.15 L177.71,148.04 L178.55,147.94 L179.39,147.84 L180.23,147.74 L181.07,147.63 L181.91,147.53 L182.74,147.43 L183.58,147.33 L184.42,147.23 L185.26,147.13 L186.1,147.03 L186.94,146.93 L187.77,146.83 L188.61,146.73 L189.45,146.64 L190.29,146.54 L191.13,146.44 L191.97,146.34 L192.8,146.24 L193.64,146.15 L194.48,146.05 L195.32,145.95 L196.16,145.85 L196.99,145.76 L197.83,145.66 L198.67,145.57 L199.51,145.47 L200.35,145.38 L201.19,145.28 L202.02,145.19 L202.86,145.09 L203.7,145 L204.54,144.9 L205.38,144.81 L206.22,144.71 L207.05,144.62 L207.89,144.53 L208.73,144.43 L209.57,144.34 L210.41,144.25 L211.25,144.16 L212.08,144.07 L212.92,143.97 L213.76,143.88 L214.6,143.79 L215.44,143.7 L216.28,143.61 L217.11,143.52 L217.95,143.43 L218.79,143.34 L219.63,143.25 L220.47,143.16 L221.31,143.07 L222.14,142.98 L222.98,142.89 L223.82,142.8 L224.66,142.71 L225.5,142.63 L226.34,142.54 L227.17,142.45 L228.01,142.36 L228.85,142.28 L229.69,142.19 L230.53,142.1 L231.37,142.02 L232.2,141.93 L233.04,141.84 L233.88,141.76 L234.72,141.67 L235.56,141.59 L236.4,141.5 L237.23,141.42 L238.07,141.33 L238.91,141.25 L239.75,141.16 L240.59,141.08 L241.43,140.99 L242.26,140.91 L243.1,140.82 L243.94,140.74 L244.78,140.66 L245.62,140.58 L246.45,140.49 L247.29,140.41 L248.13,140.33 L248.97,140.25 L249.81,140.16 L250.65,140.08 L251.48,140 L252.32,139.92 L253.16,139.84 L254,139.76 L254.84,139.68 L255.68,139.59 L256.51,139.51 L257.35,139.43 L258.19,139.35 L259.03,139.27 L259.87,139.19 L260.71,139.11 L261.54,139.04 L262.38,138.96 L263.22,138.88 L264.06,138.8 L264.9,138.72 L265.74,138.64 L266.57,138.56 L267.41,138.49 L268.25,138.41 L269.09,138.33 L269.93,138.25 L270.77,138.18 L271.6,138.1 L272.44,138.02 L273.28,137.95 L274.12,137.87 L274.96,137.79 L275.8,137.72 L276.63,137.64 L277.47,137.56 L278.31,137.49 L279.15,137.41 L279.99,137.34 L280.83,137.26 L281.66,137.19 L282.5,137.11 L283.34,137.04 L284.18,136.97 L285.02,136.89 L285.86,136.82 L286.69,136.74 L287.53,136.67 L288.37,136.6 L289.21,136.52 L290.05,136.45 L290.88,136.38 L291.72,136.3 L292.56,136.23 L293.4,136.16 L294.24,136.09 L295.08,136.01 L295.91,135.94 L296.75,135.87 L297.59,135.8 L298.43,135.73 L299.27,135.66 L300.11,135.59 L300.94,135.51 L301.78,135.44 L302.62,135.37 L303.46,135.3 L304.3,135.23 L305.14,135.16 L305.97,135.09 L306.81,135.02 L307.65,134.95 L308.49,134.88 L309.33,134.81 L310.17,134.74 L311,134.68 L311.84,134.61 L312.68,134.54 L313.52,134.47 L314.36,134.4 L315.2,134.33 L316.03,134.26 L316.87,134.2 L317.71,134.13 L318.55,134.06 L319.39,133.99 L320.23,133.93 L321.06,133.86 L321.9,133.79 L322.74,133.72 L323.58,133.66 L324.42,133.59 L325.26,133.53 L326.09,133.46 L326.93,133.39 L327.77,133.33 L328.61,133.26 L329.45,133.19 L330.29,133.13 L331.12,133.06 L331.96,133 L332.8,132.93" fill="none" stroke="#000" stroke-width="3.4" stroke-dasharray="10.7 4.6"/>
<path d="M81.31,163.16 L82.15,163.31 L82.99,163.46 L83.82,163.61 L84.66,163.76 L85.5,163.91 L86.34,164.06 L87.18,164.21 L88.02,164.37 L88.85,164.52 L89.69,164.67 L90.53,164.83 L91.37,164.98 L92.21,165.13 L93.05,165.29 L93.88,165.45 L94.72,165.6 L95.56,165.76 L96.4,165.92 L97.24,166.07 L98.08,166.23 L98.91,166.39 L99.75,166.55 L100.59,166.71 L101.43,166.87 L102.27,167.03 L103.11,167.19 L103.94,167.36 L104.78,167.52 L105.62,167.68 L106.46,167.85 L107.3,168.01 L108.13,168.18 L108.97,168.34 L109.81,168.51 L110.65,168.68 L111.49,168.84 L112.33,169.01 L113.16,169.18 L114,169.35 L114.84,169.52 L115.68,169.69 L116.52,169.86 L117.36,170.03 L118.19,170.2 L119.03,170.38 L119.87,170.55 L120.71,170.72 L121.55,170.9 L122.39,171.07 L123.22,171.25 L124.06,171.43 L124.9,171.6 L125.74,171.78 L126.58,171.96 L127.42,172.14 L128.25,172.32 L129.09,172.5 L129.93,172.68 L130.77,172.86 L131.61,173.05 L132.45,173.23 L133.28,173.41 L134.12,173.6 L134.96,173.78 L135.8,173.97 L136.64,174.16 L137.48,174.34 L138.31,174.53 L139.15,174.72 L139.99,174.91 L140.83,175.1 L141.67,175.29 L142.51,175.48 L143.34,175.67 L144.18,175.87 L145.02,176.06 L145.86,176.25 L146.7,176.45 L147.54,176.65 L148.37,176.84 L149.21,177.04 L150.05,177.24 L150.89,177.44 L151.73,177.64 L152.56,177.84 L153.4,178.04 L154.24,178.24 L155.08,178.44 L155.92,178.65 L156.76,178.85 L157.59,179.06 L158.43,179.26 L159.27,179.47 L160.11,179.68 L160.95,179.89 L161.79,180.1 L162.62,180.31 L163.46,180.52 L164.3,180.73 L165.14,180.94 L165.98,181.15 L166.82,181.37 L167.65,181.58 L168.49,181.8 L169.33,182.02 L170.17,182.23 L171.01,182.45 L171.85,182.67 L172.68,182.89 L173.52,183.11 L174.36,183.34 L175.2,183.56 L176.04,183.78 L176.88,184.01 L177.71,184.23 L178.55,184.46 L179.39,184.69 L180.23,184.92 L181.07,185.15 L181.91,185.38 L182.74,185.61 L183.58,185.84 L184.42,186.08 L185.26,186.31 L186.1,186.55 L186.94,186.78 L187.77,187.02 L188.61,187.26 L189.45,187.5 L190.29,187.74 L191.13,187.98 L191.97,188.22 L192.8,188.46 L193.64,188.71 L194.48,188.95 L195.32,189.2 L196.16,189.45 L196.99,189.7 L197.83,189.95 L198.67,190.2 L199.51,190.45 L200.35,190.7 L201.19,190.96 L202.02,191.21 L202.86,191.47 L203.7,191.73 L204.54,191.98 L205.38,192.24 L206.22,192.51 L207.05,192.77 L207.89,193.03 L208.73,193.29 L209.57,193.56 L210.41,193.83 L211.25,194.09 L212.08,194.36 L212.92,194.63 L213.76,194.91 L214.6,195.18 L215.44,195.45 L216.28,195.73 L217.11,196 L217.95,196.28 L218.79,196.56 L219.63,196.84 L220.47,197.12 L221.31,197.4 L222.14,197.69 L222.98,197.97 L223.82,198.26 L224.66,198.55 L225.5,198.84 L226.34,199.13 L227.17,199.42 L228.01,199.71 L228.85,200.01 L229.69,200.31 L230.53,200.6 L231.37,200.9 L232.2,201.2 L233.04,201.5 L233.88,201.81 L234.72,202.11 L235.56,202.42 L236.4,202.73 L237.23,203.03 L238.07,203.35 L238.91,203.66 L239.75,203.97 L240.59,204.29 L241.43,204.6 L242.26,204.92 L243.1,205.24 L243.94,205.56 L244.78,205.88 L245.62,206.21 L246.45,206.53 L247.29,206.86 L248.13,207.19 L248.97,207.52 L249.81,207.85 L250.65,208.19 L251.48,208.52 L252.32,208.86 L253.16,209.2 L254,209.54 L254.84,209.88 L255.68,210.23 L256.51,210.57 L257.35,210.92 L258.19,211.27 L259.03,211.62 L259.87,211.98 L260.71,212.33 L261.54,212.69 L262.38,213.05 L263.22,213.41 L264.06,213.77 L264.9,214.13 L265.74,214.5 L266.57,214.87 L267.41,215.24 L268.25,215.61 L269.09,215.98 L269.93,216.36 L270.77,216.74 L271.6,217.12 L272.44,217.5 L273.28,217.88 L274.12,218.27 L274.96,218.66 L275.8,219.05 L276.63,219.44 L277.47,219.83 L278.31,220.23 L279.15,220.63 L279.99,221.03 L280.83,221.43 L281.66,221.84 L282.5,222.25 L283.34,222.66 L284.18,223.07 L285.02,223.48 L285.86,223.9 L286.69,224.32 L287.53,224.74 L288.37,225.16 L289.21,225.59 L290.05,226.02 L290.88,226.45 L291.72,226.88 L292.56,227.32 L293.4,227.75 L294.24,228.19 L295.08,228.64 L295.91,229.08 L296.75,229.53 L297.59,229.98 L298.43,230.44 L299.27,230.89 L300.11,231.35 L300.94,231.81 L301.78,232.28 L302.62,232.74 L303.46,233.21 L304.3,233.69 L305.14,234.16 L305.97,234.64 L306.81,235.12 L307.65,235.6 L308.49,236.09 L309.33,236.58 L310.17,237.07 L311,237.57 L311.84,238.07 L312.68,238.57 L313.52,239.07 L314.36,239.58 L315.2,240.09 L316.03,240.61 L316.87,241.12 L317.71,241.64 L318.55,242.17 L319.39,242.7 L320.23,243.23 L321.06,243.76 L321.9,244.3 L322.74,244.84 L323.58,245.38 L324.42,245.93 L325.26,246.48 L326.09,247.03 L326.93,247.59 L327.77,248.15 L328.61,248.72 L329.45,249.29 L330.29,249.86 L331.12,250.44 L331.96,251.02 L332.8,251.6" fill="none" stroke="#000" stroke-width="3.4" stroke-dasharray="10.7 4.6"/>
<line x1="80" x2="332.8" y1="162.6" y2="162.6" stroke="#fff" stroke-width="3.2" stroke-dasharray="10.6 4.7" stroke-dashoffset="0"/>
<line x1="78.1" x2="78.1" y1="255" y2="251.6" stroke="#8a8a8a" stroke-width="0.9"/>
<line x1="129.04" x2="129.04" y1="255" y2="251.6" stroke="#8a8a8a" stroke-width="0.9"/>
<line x1="179.98" x2="179.98" y1="255" y2="251.6" stroke="#8a8a8a" stroke-width="0.9"/>
<line x1="230.92" x2="230.92" y1="255" y2="251.6" stroke="#8a8a8a" stroke-width="0.9"/>
<line x1="281.86" x2="281.86" y1="255" y2="251.6" stroke="#8a8a8a" stroke-width="0.9"/>
<line x1="332.8" x2="332.8" y1="255" y2="251.6" stroke="#8a8a8a" stroke-width="0.9"/>
<line x1="73.2" x2="76.6" y1="216" y2="216" stroke="#8a8a8a" stroke-width="0.9"/>
<line x1="73.2" x2="76.6" y1="180.4" y2="180.4" stroke="#8a8a8a" stroke-width="0.9"/>
<line x1="73.2" x2="76.6" y1="144.8" y2="144.8" stroke="#8a8a8a" stroke-width="0.9"/>
<line x1="73.2" x2="76.6" y1="109.2" y2="109.2" stroke="#8a8a8a" stroke-width="0.9"/>
<line x1="73.2" x2="76.6" y1="73.6" y2="73.6" stroke="#8a8a8a" stroke-width="0.9"/>
<text x="78.1" y="282.6" font-size="23" font-weight="bold" font-style="normal" text-anchor="middle" >0</text>
<text x="129.04" y="282.6" font-size="23" font-weight="bold" font-style="normal" text-anchor="middle" >0.2</text>
<text x="179.98" y="282.6" font-size="23" font-weight="bold" font-style="normal" text-anchor="middle" >0.4</text>
<text x="230.92" y="282.6" font-size="23" font-weight="bold" font-style="normal" text-anchor="middle" >0.6</text>
<text x="281.86" y="282.6" font-size="23" font-weight="bold" font-style="normal" text-anchor="middle" >0.8</text>
<text x="332.8" y="282.6" font-size="23" font-weight="bold" font-style="normal" text-anchor="middle" >1</text>
<text x="66.3" y="224.3" font-size="23" font-weight="bold" font-style="normal" text-anchor="end" >0.2</text>
<text x="66.3" y="188.7" font-size="23" font-weight="bold" font-style="normal" text-anchor="end" >0.4</text>
<text x="66.3" y="153.1" font-size="23" font-weight="bold" font-style="normal" text-anchor="end" >0.6</text>
<text x="66.3" y="117.5" font-size="23" font-weight="bold" font-style="normal" text-anchor="end" >0.8</text>
<text x="66.3" y="81.9" font-size="23" font-weight="bold" font-style="normal" text-anchor="end" >1</text>
<rect x="422.6" y="50.8" width="26.14" height="16.3" fill="#781C86"/>
<rect x="448.44" y="50.8" width="26.14" height="16.3" fill="#4E1FAA"/>
<rect x="474.28" y="50.8" width="26.14" height="16.3" fill="#3F5AD2"/>
<rect x="500.12" y="50.8" width="26.14" height="16.3" fill="#4A94C3"/>
<rect x="525.96" y="50.8" width="26.14" height="16.3" fill="#69B08E"/>
<rect x="551.8" y="50.8" width="26.14" height="16.3" fill="#97BC5E"/>
<rect x="577.64" y="50.8" width="26.14" height="16.3" fill="#C5B945"/>
<rect x="603.48" y="50.8" width="26.14" height="16.3" fill="#E79C38"/>
<rect x="629.32" y="50.8" width="26.14" height="16.3" fill="#E55E2B"/>
<rect x="655.16" y="50.8" width="25.84" height="16.3" fill="#DB2122"/>
<text x="446.8" y="46.9" font-size="17.5" font-weight="normal" font-style="normal" text-anchor="middle" >0</text>
<text x="496.8" y="46.9" font-size="17.5" font-weight="normal" font-style="normal" text-anchor="middle" >0.02</text>
<text x="548.6" y="46.9" font-size="17.5" font-weight="normal" font-style="normal" text-anchor="middle" >0.04</text>
<text x="600.5" y="46.9" font-size="17.5" font-weight="normal" font-style="normal" text-anchor="middle" >0.06</text>
<text x="652.2" y="46.9" font-size="17.5" font-weight="normal" font-style="normal" text-anchor="middle" >0.08</text>
<text x="540.2" y="19.5" font-size="25" font-weight="normal" font-style="normal" text-anchor="middle" >d=10</text>
<text transform="translate(363.6,23.9) scale(0.92,1)" font-size="26.5" font-weight="bold">b</text>
<rect x="418.8" y="70.2" width="264.7" height="184.8" fill="#fff" stroke="#b5b5b5" stroke-width="1.6"/>
<rect x="423.8" y="73.6" width="254.7" height="178" fill="#781C86"/>
<path d="M678.5,251.6 678.5,250.93 678.5,250.26 678.5,249.6 678.5,248.93 678.5,248.26 678.5,247.59 678.5,246.93 678.5,246.26 678.5,245.59 678.5,244.92 678.5,244.26 678.5,243.59 678.5,242.92 678.5,242.25 678.5,241.59 678.5,240.92 678.5,240.25 678.5,239.58 678.5,238.92 678.5,238.25 678.5,237.58 678.5,236.91 678.5,236.25 678.5,235.58 678.5,234.91 678.5,234.25 678.5,233.58 678.5,232.91 678.5,232.24 678.5,231.57 678.5,230.91 678.5,230.24 678.5,229.57 678.5,228.91 678.5,228.24 678.5,227.57 678.5,226.9 678.5,226.23 678.5,225.57 678.5,224.9 678.5,224.23 678.5,223.56 678.5,222.9 678.5,222.23 678.5,221.56 678.5,220.89 678.5,220.23 678.5,219.56 678.5,218.89 678.5,218.22 678.5,217.56 678.5,216.89 678.5,216.22 678.5,215.56 678.5,214.89 678.5,214.22 678.5,213.55 678.5,212.88 678.5,212.22 678.5,211.55 678.5,210.88 678.5,210.21 678.5,209.55 678.5,208.88 678.5,208.21 678.5,207.54 678.5,206.88 678.5,206.21 678.5,205.54 678.5,204.88 678.5,204.21 678.5,203.54 678.5,202.87 678.5,202.2 678.5,201.54 678.5,200.87 678.5,200.2 678.5,199.53 678.5,198.87 678.5,198.2 678.5,197.53 678.5,196.87 678.5,196.2 678.5,195.53 678.5,194.86 678.5,194.19 678.5,193.53 678.5,192.86 678.5,192.19 678.5,191.52 678.5,190.86 678.5,190.19 678.5,189.52 678.5,188.85 678.5,188.19 678.5,187.52 678.5,186.85 678.5,186.19 678.5,185.52 678.5,184.85 678.5,184.18 678.5,183.51 678.5,182.85 678.5,182.18 678.5,181.51 678.5,180.84 678.5,180.18 678.5,179.51 678.5,178.84 678.5,178.17 678.5,177.51 678.5,176.84 678.5,176.17 678.5,175.5 678.5,174.84 678.5,174.17 678.5,173.5 678.5,172.83 678.5,172.17 678.5,171.5 678.5,170.83 678.5,170.16 678.5,169.5 678.5,168.83 678.5,168.16 678.5,167.5 678.5,166.83 678.5,166.16 678.5,165.49 678.5,164.82 678.5,164.16 678.5,163.49 678.5,162.82 678.5,162.15 678.5,161.49 678.5,160.82 678.5,160.15 678.5,159.49 678.5,158.82 678.5,158.15 678.5,157.48 678.5,156.81 678.5,156.15 678.5,155.48 678.5,154.81 678.5,154.14 678.5,153.48 678.5,152.81 678.5,152.14 678.5,151.47 678.5,150.81 678.5,150.14 678.5,149.47 678.5,148.81 678.5,148.14 678.5,147.47 678.5,146.8 678.5,146.13 678.5,145.47 678.5,144.8 678.5,144.13 678.5,143.46 678.5,142.8 678.5,142.13 678.5,141.46 678.5,140.79 678.5,140.13 678.5,139.46 678.5,138.79 678.5,138.12 678.5,137.46 678.5,136.79 678.5,136.12 678.5,135.45 678.5,134.79 678.5,134.12 678.5,133.45 678.5,132.78 678.5,132.12 678.5,131.45 678.5,130.78 678.5,130.12 678.5,129.45 678.5,128.78 678.5,128.11 678.5,127.44 678.5,126.78 678.5,126.11 678.5,125.44 678.5,124.77 678.5,124.11 678.5,123.44 678.5,122.77 678.5,122.1 678.5,121.44 678.5,120.77 678.5,120.1 678.5,119.43 678.5,118.77 678.5,118.1 678.5,117.43 678.5,116.76 678.5,116.1 678.5,115.43 678.5,114.76 678.5,114.09 678.5,113.43 678.5,112.76 678.5,112.09 678.5,111.43 678.5,110.76 678.5,110.09 678.5,109.42 678.5,108.75 678.5,108.09 678.5,107.42 678.5,106.75 678.5,106.08 678.5,105.42 678.5,104.75 678.5,104.08 678.5,103.41 678.5,102.75 678.5,102.08 678.5,101.41 678.5,100.74 678.5,100.08 678.5,99.41 678.5,98.74 678.5,98.07 678.5,97.41 678.5,96.74 678.5,96.07 678.5,95.4 678.5,94.74 678.5,94.07 678.5,93.4 678.5,92.73 678.5,92.07 678.5,91.4 678.5,90.73 678.5,90.06 678.5,89.4 678.5,88.73 678.5,88.06 678.5,87.4 678.5,86.73 678.5,86.06 678.5,85.39 678.5,84.72 678.5,84.06 678.5,83.39 678.5,82.72 678.5,82.05 678.5,81.39 678.5,80.72 678.5,80.05 678.5,79.38 678.5,78.72 678.5,78.05 678.5,77.38 678.5,76.71 678.5,76.05 678.5,75.38 677.86,75.16 677.23,75.16 676.59,75.17 675.95,75.38 675.32,75.38 674.68,75.38 674.04,75.38 673.41,75.38 672.77,75.38 672.13,75.38 671.5,75.38 670.86,75.38 670.22,75.38 669.59,75.38 668.95,75.38 668.31,75.38 667.68,75.38 667.04,75.38 666.4,75.38 665.76,75.38 665.13,75.38 664.49,75.38 663.85,75.38 663.22,75.38 662.58,75.38 661.94,75.38 661.31,75.38 660.67,75.38 660.03,75.38 659.4,75.38 658.76,75.38 658.12,75.38 657.49,75.38 656.85,75.38 656.21,75.38 655.58,75.38 654.94,75.38 654.3,75.38 653.67,75.38 653.03,75.38 652.39,75.38 651.76,75.38 651.12,75.38 650.48,75.38 649.85,75.38 649.21,75.38 648.57,75.38 647.94,75.39 647.33,75.6 646.66,75.6 646.03,75.6 645.39,75.6 644.75,75.6 644.12,75.6 643.48,75.6 642.84,75.6 642.21,75.6 641.57,75.6 640.93,75.6 640.29,75.6 639.66,75.6 639.02,75.6 638.38,75.6 637.75,75.6 637.11,75.6 636.47,75.6 635.84,75.6 635.2,75.6 634.56,75.6 633.93,75.6 633.29,75.6 632.65,75.6 632.02,75.6 631.38,75.6 630.74,75.6 630.11,75.6 629.47,75.6 628.83,75.6 628.2,75.6 627.56,75.6 626.92,75.6 626.29,75.61 625.65,75.61 625.01,75.61 624.41,75.82 623.74,75.83 623.1,75.83 622.47,75.83 621.83,75.83 621.19,75.83 620.56,75.83 619.92,75.83 619.28,75.83 618.65,75.83 618.01,75.83 617.37,75.83 616.74,75.83 616.1,75.83 615.46,75.83 614.83,75.83 614.19,75.83 613.55,75.83 612.91,75.83 612.28,75.83 611.64,75.83 611,75.83 610.37,75.83 609.73,75.83 609.09,75.83 608.46,75.83 607.82,75.83 607.18,75.83 606.55,75.83 605.91,75.85 605.27,76.05 604.64,76.05 604,76.05 603.36,76.05 602.73,76.05 602.09,76.05 601.45,76.05 600.82,76.05 600.18,76.05 599.54,76.05 598.91,76.05 598.27,76.05 597.63,76.05 597,76.05 596.36,76.05 595.72,76.05 595.09,76.05 594.45,76.05 593.81,76.05 593.18,76.05 592.54,76.05 591.9,76.05 591.27,76.05 590.63,76.06 590.03,76.27 589.36,76.27 588.72,76.27 588.08,76.27 587.44,76.27 586.81,76.27 586.17,76.27 585.53,76.27 584.9,76.27 584.26,76.27 583.62,76.27 582.99,76.27 582.35,76.27 581.71,76.27 581.08,76.27 580.44,76.27 579.8,76.27 579.17,76.27 578.53,76.27 577.89,76.27 577.26,76.28 576.62,76.49 575.98,76.49 575.35,76.49 574.71,76.49 574.07,76.49 573.44,76.49 572.8,76.49 572.16,76.49 571.53,76.49 570.89,76.49 570.25,76.49 569.62,76.49 568.98,76.49 568.34,76.49 567.71,76.49 567.07,76.49 566.43,76.5 565.8,76.52 565.16,76.72 564.52,76.72 563.88,76.72 563.25,76.72 562.61,76.72 561.97,76.72 561.34,76.72 560.7,76.72 560.06,76.72 559.43,76.72 558.79,76.72 558.15,76.72 557.52,76.72 556.88,76.72 556.24,76.72 555.68,76.94 554.97,76.94 554.33,76.94 553.7,76.94 553.06,76.94 552.42,76.94 551.79,76.94 551.15,76.94 550.51,76.94 549.88,76.94 549.24,76.94 548.6,76.94 547.97,76.94 547.33,77.01 546.69,77.16 546.06,77.16 545.42,77.16 544.78,77.16 544.15,77.16 543.51,77.16 542.87,77.16 542.24,77.16 541.6,77.16 540.96,77.16 540.33,77.16 539.7,77.38 539.05,77.38 538.41,77.38 537.78,77.38 537.14,77.38 536.5,77.38 535.87,77.38 535.23,77.38 534.59,77.38 533.96,77.39 533.32,77.39 532.68,77.61 532.05,77.61 531.41,77.61 530.77,77.61 530.14,77.61 529.5,77.61 528.86,77.61 528.23,77.61 527.59,77.61 526.97,77.83 526.32,77.83 525.68,77.83 525.04,77.83 524.41,77.83 523.77,77.83 523.13,77.83 522.5,77.83 521.86,77.84 521.22,78.05 520.59,78.05 519.95,78.05 519.31,78.05 518.68,78.05 518.04,78.05 517.4,78.05 516.77,78.07 516.13,78.27 515.49,78.27 514.86,78.27 514.22,78.27 513.58,78.27 512.95,78.28 512.31,78.29 511.67,78.5 511.03,78.5 510.4,78.5 509.76,78.5 509.12,78.5 508.49,78.5 507.95,78.72 507.21,78.72 506.58,78.72 505.94,78.72 505.3,78.72 504.67,78.72 504.03,78.94 503.39,78.94 502.76,78.94 502.12,78.94 501.48,78.94 500.86,79.16 500.21,79.16 499.57,79.16 498.94,79.16 498.3,79.17 497.68,79.38 497.03,79.39 496.39,79.39 495.75,79.39 495.12,79.39 494.48,79.61 493.84,79.61 493.21,79.61 492.57,79.61 491.96,79.83 491.3,79.83 490.66,79.83 490.02,79.83 489.41,80.05 488.75,80.05 488.11,80.05 487.48,80.06 486.84,80.28 486.2,80.28 485.56,80.28 484.94,80.5 484.29,80.5 483.65,80.5 483.02,80.53 482.38,80.72 481.74,80.72 481.11,80.74 480.47,80.94 479.83,80.94 479.2,81.11 478.56,81.17 477.92,81.17 477.3,81.39 476.65,81.39 476.01,81.39 475.38,81.61 474.74,81.61 474.12,81.83 473.47,81.83 472.83,81.93 472.19,82.06 471.56,82.06 470.92,82.28 470.28,82.28 469.65,82.5 469.01,82.51 468.37,82.72 467.74,82.74 467.1,82.95 466.47,83.17 465.83,83.17 465.21,83.39 464.55,83.4 463.92,83.61 463.29,83.83 462.64,83.84 462,84.06 461.38,84.28 460.73,84.29 460.09,84.51 459.46,84.73 458.83,84.95 458.19,85.17 457.55,85.18 456.91,85.4 456.27,85.62 455.64,85.84 455,86.06 454.36,86.29 453.73,86.51 453.09,86.73 452.45,86.96 451.82,87.4 451.19,87.62 450.56,87.84 449.91,88.07 449.27,88.51 448.67,88.73 448,89.18 447.39,89.4 446.73,89.84 446.09,90.29 445.48,90.51 444.82,90.96 444.18,91.4 443.55,91.84 442.91,92.29 442.59,92.73 441.95,93.18 441.32,93.62 440.99,94.07 440.36,94.51 440.04,94.96 439.41,95.4 439.09,95.85 438.77,96.29 438.45,96.74 437.82,97.18 437.5,97.63 437.18,98.07 436.86,98.52 436.54,98.96 436.22,99.41 435.9,99.85 435.59,100.3 435.27,100.74 435,101.19 434.63,101.86 434.34,102.3 434,102.97 433.68,103.64 433.36,104.3 433.04,104.97 432.72,105.64 432.4,106.31 432.1,106.97 432.08,107.64 431.76,108.09 431.45,108.75 431.27,109.42 431.12,110.09 430.81,110.53 430.81,111.2 430.49,111.65 430.31,112.31 430.17,112.98 429.87,113.43 429.85,114.09 429.57,114.54 429.53,115.21 429.22,115.87 429.21,116.54 429,116.99 428.9,117.65 428.9,118.32 428.58,118.77 428.58,119.43 428.27,119.88 428.26,120.55 428.26,121.21 427.94,121.66 427.94,122.33 427.64,123 427.62,123.66 427.62,124.33 427.32,124.77 427.3,125.44 427.3,126.11 426.99,126.78 426.99,127.44 426.98,128.11 426.67,128.78 426.67,129.45 426.67,130.12 426.46,130.78 426.35,131.45 426.35,132.12 426.35,132.78 426.05,133.23 426.03,133.9 426.03,134.56 426.03,135.23 425.72,135.9 425.71,136.57 425.71,137.24 425.71,137.9 425.42,138.57 425.39,139.24 425.39,139.9 425.39,140.57 425.39,141.24 425.09,141.69 425.08,142.35 425.07,143.02 425.07,143.69 425.07,144.35 424.78,145.02 424.76,145.69 424.76,146.36 424.76,147.02 424.76,147.69 424.76,148.36 424.45,148.81 424.44,149.47 424.44,150.14 424.44,150.81 424.44,151.47 424.44,152.14 424.44,152.75 424.12,153.25 424.12,153.92 424.12,154.59 424.12,155.26 424.12,155.93 424.12,156.59 424.12,157.26 423.81,157.7 423.8,158.37 423.8,159.04 423.8,159.71 423.8,160.38 423.8,161.04 423.8,161.71 423.8,162.38 424.12,162.82 424.76,162.82 425.39,163.04 426.03,163.04 426.67,163.26 427.3,163.27 427.94,163.49 428.58,163.49 429.21,163.71 429.85,163.71 430.49,163.93 431.12,163.93 431.76,164.15 432.4,164.16 433.03,164.38 433.67,164.38 434.31,164.6 434.94,164.6 435.58,164.82 436.22,164.82 436.85,165.05 437.49,165.25 438.13,165.27 438.76,165.48 439.4,165.49 440.04,165.71 440.67,165.71 441.31,165.93 441.95,165.94 442.58,166.16 443.22,166.16 443.86,166.38 444.49,166.38 445.13,166.6 445.77,166.79 446.4,166.83 447.04,167.04 447.68,167.05 448.31,167.27 448.95,167.27 449.59,167.49 450.23,167.49 450.86,167.72 451.5,167.72 452.14,167.94 452.77,168.15 453.41,168.16 454.05,168.38 454.68,168.38 455.32,168.6 455.96,168.61 456.59,168.83 457.23,169.04 457.87,169.05 458.5,169.27 459.14,169.27 459.78,169.49 460.41,169.5 461.05,169.72 461.69,169.93 462.32,169.94 462.96,170.16 463.6,170.16 464.23,170.39 464.87,170.6 465.51,170.61 466.14,170.83 466.78,170.83 467.42,171.05 468.05,171.26 468.69,171.28 469.33,171.5 469.96,171.5 470.6,171.72 471.24,171.93 471.87,171.94 472.51,172.16 473.15,172.17 473.78,172.39 474.42,172.6 475.06,172.61 475.7,172.83 476.33,172.83 476.97,173.06 477.61,173.28 478.24,173.28 478.88,173.5 479.52,173.72 480.15,173.72 480.79,173.94 481.43,174.12 482.06,174.17 482.7,174.39 483.34,174.39 483.97,174.61 484.61,174.83 485.25,174.84 485.88,175.06 486.52,175.28 487.16,175.28 487.79,175.5 488.43,175.72 489.07,175.73 489.7,175.95 490.34,176.16 490.98,176.17 491.61,176.39 492.25,176.61 492.89,176.62 493.52,176.84 494.16,177.05 494.8,177.06 495.43,177.28 496.07,177.5 496.71,177.51 497.34,177.73 497.98,177.95 498.62,177.95 499.25,178.17 499.89,178.39 500.53,178.4 501.17,178.62 501.8,178.84 502.44,179.01 503.08,179.06 503.71,179.28 504.35,179.5 504.99,179.51 505.62,179.73 506.26,179.95 506.9,179.95 507.53,180.18 508.17,180.4 508.81,180.61 509.44,180.62 510.08,180.84 510.72,181.06 511.35,181.23 511.99,181.29 512.63,181.51 513.26,181.73 513.9,181.73 514.54,181.96 515.17,182.18 515.81,182.4 516.45,182.4 517.08,182.62 517.72,182.84 518.36,183.06 518.99,183.07 519.63,183.29 520.27,183.51 520.9,183.73 521.54,183.74 522.18,183.96 522.81,184.18 523.45,184.4 524.09,184.6 524.72,184.63 525.36,184.85 526,185.07 526.64,185.29 527.27,185.29 527.91,185.52 528.55,185.74 529.18,185.96 529.82,186.18 530.46,186.18 531.09,186.41 531.73,186.63 532.37,186.85 533,187.07 533.64,187.07 534.28,187.3 534.91,187.52 535.55,187.74 536.19,187.96 536.82,188.16 537.46,188.19 538.1,188.41 538.73,188.63 539.37,188.85 540.01,189.07 540.64,189.28 541.28,189.3 541.92,189.52 542.55,189.74 543.19,189.96 543.83,190.19 544.46,190.4 545.1,190.57 545.74,190.63 546.37,190.86 547.01,191.08 547.65,191.3 548.28,191.52 548.92,191.74 549.56,191.96 550.19,191.97 550.83,192.19 551.47,192.41 552.11,192.64 552.74,192.86 553.38,193.08 554.02,193.3 554.65,193.52 555.29,193.74 555.93,193.96 556.56,193.97 557.2,194.19 557.84,194.42 558.47,194.64 559.11,194.86 559.75,195.08 560.38,195.31 561.02,195.53 561.66,195.75 562.29,195.97 562.93,196.19 563.57,196.41 564.2,196.64 564.84,196.86 565.48,197.08 566.11,197.29 566.75,197.5 567.39,197.53 568.02,197.75 568.66,197.98 569.3,198.2 569.93,198.42 570.57,198.64 571.21,198.87 571.84,199.09 572.48,199.31 573.12,199.53 573.75,199.76 574.39,199.98 575.03,200.2 575.66,200.42 576.3,200.65 576.94,200.87 577.58,201.09 578.21,201.31 578.62,201.54 579.17,201.76 579.8,201.98 580.44,202.2 581.08,202.43 581.71,202.65 582.35,202.87 582.99,203.09 583.62,203.32 584.26,203.54 584.81,203.76 585.22,203.98 585.85,204.21 586.49,204.43 587.13,204.65 587.76,204.87 588.4,205.1 589.04,205.51 589.67,205.75 590.31,205.98 590.95,206.21 591.58,206.43 592.22,206.65 592.86,206.88 593.49,207.1 594.13,207.32 594.77,207.75 595.4,207.98 596.04,208.21 596.68,208.43 597.31,208.66 597.95,208.88 598.59,209.1 599.22,209.53 599.86,209.76 600.5,209.99 601.13,210.21 601.77,210.44 602.41,210.66 603.05,211.1 603.68,211.32 604.32,211.55 604.96,211.77 605.59,211.99 606.23,212.43 606.87,212.66 607.5,212.88 608.14,213.11 608.78,213.53 609.41,213.77 610.05,213.99 610.69,214.22 611.07,214.44 611.64,214.66 612.28,214.89 612.91,215.32 613.55,215.55 614.19,215.78 614.83,216 615.46,216.44 616.1,216.66 616.74,216.89 617.37,217.33 618.01,217.55 618.65,217.78 619.28,218.21 619.92,218.44 620.56,218.67 621.19,219.09 621.83,219.33 622.47,219.56 623.1,219.99 623.74,220.22 624.38,220.45 625.01,220.88 625.65,221.11 626.29,221.34 626.92,221.78 627.56,222.01 628.2,222.42 628.83,222.67 629.47,222.9 630.11,223.34 630.74,223.56 631.38,223.99 632.02,224.23 632.65,224.45 633.29,224.9 633.93,225.12 634.56,225.56 635.2,225.79 635.84,226.23 636.47,226.46 637.11,226.89 637.75,227.12 638.38,227.56 639.02,227.79 639.66,228.23 640.29,228.46 640.93,228.89 641.57,229.12 642.21,229.56 642.84,229.79 643.48,230.23 644.12,230.46 644.75,230.9 645.39,231.13 646.03,231.57 646.66,232 647.3,232.24 647.94,232.68 648.57,232.91 649.21,233.35 649.85,233.78 650.48,234.02 651.12,234.46 651.76,234.69 652.39,235.13 653.03,235.57 653.67,235.8 654.3,236.24 654.94,236.69 655.58,236.91 656.21,237.36 656.85,237.8 657.26,238.03 657.81,238.25 658.44,238.69 659.08,239.13 659.72,239.55 660.35,239.81 660.99,240.25 661.63,240.69 662.26,241.11 662.9,241.36 663.54,241.81 664.17,242.25 664.81,242.69 665.45,242.92 666.08,243.37 666.72,243.81 667.36,244.25 667.99,244.7 668.63,245.14 669.14,245.37 669.59,245.59 670.22,246.04 670.86,246.48 671.5,246.92 672.13,247.37 672.77,247.81 673.41,248.26 674.04,248.7 674.68,249.14 675.32,249.58 675.95,250.02 676.33,250.26 676.91,250.65 677.48,250.93 677.86,251.15 678.5,251.6Z" fill="#4E1FAA" stroke="#4E1FAA" stroke-width="0.4"/>
<path d="M678.5,231.82 678.5,231.13 678.5,230.46 678.5,229.79 678.5,229.13 678.5,228.46 678.5,227.79 678.5,227.12 678.5,226.46 678.5,225.79 678.5,225.12 678.5,224.45 678.5,223.79 678.5,223.12 678.5,222.45 678.5,221.78 678.5,221.12 678.5,220.45 678.5,219.78 678.5,219.12 678.5,218.45 678.5,217.78 678.5,217.11 678.5,216.44 678.5,215.78 678.5,215.11 678.5,214.44 678.5,213.78 678.5,213.11 678.5,212.44 678.5,211.77 678.5,211.1 678.5,210.44 678.5,209.77 678.5,209.1 678.5,208.44 678.5,207.77 678.5,207.1 678.5,206.43 678.5,205.76 678.5,205.1 678.5,204.43 678.5,203.76 678.5,203.09 678.5,202.43 678.5,201.76 678.5,201.09 678.5,200.42 678.5,199.76 678.5,199.09 678.5,198.42 678.5,197.75 678.5,197.09 678.5,196.42 678.5,195.75 678.5,195.08 678.5,194.42 678.5,193.75 678.5,193.08 678.5,192.41 678.5,191.75 678.5,191.08 678.5,190.41 678.5,189.75 678.5,189.08 678.5,188.41 678.5,187.74 678.5,187.07 678.5,186.41 678.5,185.74 678.5,185.07 678.5,184.4 678.5,183.74 678.5,183.07 678.5,182.4 678.5,181.73 678.5,181.07 678.5,180.4 678.5,179.73 678.5,179.06 678.5,178.4 678.5,177.73 678.5,177.06 678.5,176.39 678.5,175.73 678.5,175.06 678.5,174.39 678.5,173.72 678.5,173.06 678.5,172.39 678.5,171.72 678.5,171.06 678.5,170.39 678.5,169.72 678.5,169.05 678.5,168.38 678.5,167.72 678.5,167.05 678.5,166.38 678.5,165.72 678.5,165.05 678.5,164.38 678.5,163.71 678.5,163.05 678.5,162.38 678.5,161.71 678.5,161.04 678.5,160.38 678.5,159.71 678.5,159.04 678.5,158.37 678.5,157.7 678.5,157.04 678.5,156.37 678.5,155.7 678.5,155.03 678.5,154.37 678.5,153.7 678.5,153.03 678.5,152.37 678.5,151.7 678.5,151.03 678.5,150.36 678.5,149.69 678.5,149.03 678.5,148.36 678.5,147.69 678.5,147.02 678.5,146.36 678.5,145.69 678.5,145.02 678.5,144.35 678.5,143.69 678.5,143.02 678.5,142.35 678.5,141.69 678.5,141.02 678.5,140.35 678.5,139.68 678.5,139.01 678.5,138.35 678.5,137.68 678.5,137.01 678.5,136.34 678.5,135.68 678.5,135.01 678.5,134.34 678.5,133.68 678.5,133.01 678.5,132.34 678.5,131.67 678.5,131 678.5,130.34 678.5,129.67 678.5,129 678.5,128.33 678.5,127.67 678.5,127 678.5,126.33 678.5,125.66 678.5,125 678.5,124.33 678.5,123.66 678.5,122.99 678.5,122.33 678.5,121.66 678.5,120.99 678.5,120.32 678.5,119.66 678.5,118.99 678.5,118.32 678.5,117.65 678.5,116.99 678.5,116.32 678.5,115.65 678.5,114.98 678.5,114.32 678.5,113.65 678.5,112.98 678.5,112.31 678.5,111.65 678.5,110.98 678.5,110.31 678.5,109.65 678.5,108.98 678.5,108.31 678.5,107.64 678.5,106.97 678.5,106.31 678.5,105.64 678.5,104.97 678.5,104.3 678.5,103.64 678.5,102.97 678.5,102.3 678.5,101.63 678.5,100.97 678.5,100.3 678.5,99.63 678.5,98.96 678.5,98.3 678.5,97.63 678.5,96.96 678.5,96.29 678.5,95.63 678.5,94.96 678.5,94.29 678.5,93.62 678.5,92.96 678.5,92.29 678.5,91.62 678.5,90.96 678.5,90.29 678.5,89.62 678.5,88.95 678.5,88.28 678.5,87.62 678.5,86.95 678.5,86.28 678.5,85.62 678.5,84.95 678.5,84.28 678.5,83.61 678.5,82.94 678.5,82.28 678.5,81.61 678.5,80.94 678.5,80.27 678.5,79.61 678.5,78.94 678.5,78.27 678.5,77.6 678.18,77.13 677.54,77.14 676.91,77.15 676.27,77.16 675.63,77.16 675,77.17 674.36,77.18 673.72,77.19 673.09,77.2 672.45,77.21 671.81,77.22 671.18,77.23 670.54,77.24 669.9,77.25 669.27,77.25 668.63,77.26 667.99,77.27 667.36,77.28 666.72,77.29 666.08,77.3 665.45,77.31 664.81,77.32 664.17,77.33 663.54,77.34 662.9,77.35 662.26,77.36 661.63,77.37 660.99,77.38 660.35,77.39 659.72,77.4 659.08,77.41 658.44,77.42 657.81,77.43 657.17,77.44 656.53,77.45 655.9,77.46 655.26,77.47 654.62,77.48 653.99,77.49 653.35,77.5 652.71,77.51 652.07,77.52 651.44,77.53 650.8,77.55 650.16,77.56 649.53,77.57 648.89,77.58 648.25,77.59 647.62,77.6 646.98,77.61 646.34,77.62 645.71,77.63 645.07,77.65 644.43,77.66 643.8,77.67 643.16,77.68 642.52,77.69 641.89,77.7 641.25,77.71 640.61,77.73 639.98,77.74 639.34,77.75 638.7,77.76 638.07,77.77 637.43,77.79 636.79,77.8 636.16,77.81 635.52,77.82 634.88,77.84 634.25,77.85 633.61,77.86 632.97,77.87 632.34,77.89 631.7,77.9 631.06,77.91 630.43,77.92 629.79,77.94 629.15,77.95 628.52,77.96 627.88,77.98 627.24,77.99 626.6,78 625.97,78.02 625.33,78.03 624.69,78.05 624.06,78.06 623.42,78.07 622.78,78.09 622.15,78.1 621.51,78.11 620.87,78.13 620.24,78.14 619.6,78.16 618.96,78.17 618.33,78.19 617.69,78.2 617.05,78.22 616.42,78.23 615.78,78.25 615.14,78.26 614.51,78.28 613.87,78.29 613.23,78.31 612.6,78.32 611.96,78.34 611.32,78.35 610.69,78.37 610.05,78.39 609.41,78.4 608.78,78.42 608.14,78.43 607.5,78.45 606.87,78.47 606.23,78.48 605.59,78.5 604.96,78.52 604.32,78.53 603.68,78.55 603.05,78.57 602.41,78.58 601.77,78.6 601.13,78.62 600.5,78.64 599.86,78.65 599.22,78.67 598.59,78.69 597.95,78.71 597.31,78.73 596.68,78.74 596.04,78.76 595.4,78.78 594.77,78.8 594.13,78.82 593.49,78.84 592.86,78.86 592.22,78.88 591.58,78.9 590.95,78.92 590.31,78.94 589.67,78.96 589.04,78.98 588.4,79 587.76,79.02 587.13,79.04 586.49,79.06 585.85,79.08 585.22,79.1 584.58,79.12 583.94,79.14 583.31,79.16 582.67,79.18 582.03,79.21 581.4,79.23 580.76,79.25 580.12,79.27 579.49,79.29 578.85,79.32 578.21,79.34 577.58,79.36 576.98,79.38 576.3,79.41 575.66,79.43 575.03,79.46 574.39,79.48 573.75,79.51 573.12,79.53 572.48,79.55 571.84,79.58 571.21,79.6 570.57,79.63 569.93,79.65 569.3,79.68 568.66,79.71 568.02,79.73 567.39,79.76 566.75,79.78 566.11,79.81 565.48,79.84 564.84,79.87 564.2,79.89 563.57,79.92 562.93,79.95 562.29,79.98 561.66,80 561.02,80.03 560.38,80.06 559.75,80.09 559.11,80.12 558.47,80.15 557.84,80.18 557.2,80.21 556.56,80.24 555.93,80.27 555.29,80.3 554.65,80.33 554.02,80.37 553.38,80.4 552.74,80.43 552.11,80.46 551.47,80.5 550.83,80.53 550.19,80.56 549.56,80.6 548.92,80.63 548.28,80.67 547.65,80.7 547.01,80.74 546.37,80.77 545.74,80.81 545.1,80.84 544.46,80.88 543.83,80.92 543.19,80.95 542.55,80.99 541.92,81.03 541.28,81.07 540.64,81.11 540.01,81.15 539.37,81.19 538.73,81.23 538.1,81.27 537.46,81.31 536.82,81.35 536.19,81.39 535.55,81.44 534.91,81.48 534.28,81.52 533.64,81.57 533,81.61 532.37,81.65 531.73,81.7 531.09,81.75 530.46,81.79 529.82,81.84 529.18,81.89 528.55,81.93 527.91,81.98 527.27,82.03 526.64,82.08 526,82.13 525.36,82.18 524.72,82.23 524.09,82.29 523.45,82.34 522.81,82.39 522.18,82.45 521.56,82.5 520.9,82.56 520.27,82.61 519.63,82.67 519.05,82.72 518.36,82.79 517.72,82.85 517.08,82.91 516.45,82.97 515.81,83.03 515.17,83.09 514.54,83.15 513.9,83.22 513.26,83.28 512.63,83.35 511.99,83.41 511.35,83.48 510.72,83.55 510.13,83.61 509.44,83.69 508.81,83.76 508.17,83.83 507.53,83.91 506.9,83.98 506.26,84.05 505.62,84.13 504.99,84.21 504.41,84.28 503.71,84.37 503.08,84.45 502.44,84.53 501.8,84.62 501.17,84.7 500.53,84.79 499.89,84.87 499.25,84.96 498.62,85.05 497.98,85.15 497.34,85.24 496.71,85.33 496.07,85.43 495.43,85.53 494.88,85.62 494.16,85.73 493.52,85.83 492.89,85.94 492.25,86.04 491.61,86.15 490.98,86.26 490.34,86.38 489.7,86.49 489.07,86.61 488.43,86.73 487.79,86.85 487.26,86.95 486.52,87.1 485.88,87.22 485.25,87.35 484.61,87.49 483.99,87.62 483.34,87.76 482.7,87.9 482.06,88.04 481.43,88.19 480.79,88.34 480.15,88.49 479.52,88.65 478.88,88.81 478.31,88.95 477.61,89.14 476.97,89.31 476.33,89.48 475.83,89.62 475.06,89.84 474.42,90.02 473.78,90.21 473.15,90.41 472.51,90.61 471.87,90.81 471.24,91.02 470.76,91.18 470.28,91.34 469.65,91.56 469.01,91.79 468.37,92.02 467.74,92.26 467.1,92.51 466.52,92.73 465.97,92.96 465.51,93.15 464.91,93.4 464.39,93.62 463.92,93.84 463.4,94.07 462.96,94.27 462.45,94.51 462,94.73 461.53,94.96 461.09,95.18 460.66,95.4 460.23,95.63 459.82,95.85 459.41,96.07 459.01,96.29 458.62,96.52 458.23,96.74 457.55,97.15 457.13,97.41 456.59,97.74 456.08,98.07 455.64,98.37 455.08,98.74 454.68,99.02 454.14,99.41 453.73,99.71 453.25,100.08 452.77,100.45 452.4,100.74 451.85,101.19 451.5,101.49 451.07,101.86 450.56,102.3 450.23,102.61 449.91,102.91 449.59,103.21 449.27,103.52 448.95,103.83 448.63,104.15 448.31,104.48 448,104.81 447.68,105.16 447.36,105.51 447.04,105.86 446.72,106.23 446.4,106.6 446.1,106.97 445.77,107.38 445.45,107.78 445.13,108.19 444.81,108.61 444.54,108.98 444.22,109.42 443.91,109.87 443.6,110.31 443.3,110.76 443.01,111.2 442.73,111.65 442.45,112.09 442.18,112.54 441.95,112.92 441.65,113.43 441.4,113.87 441.15,114.32 440.91,114.76 440.67,115.19 440.43,115.65 440.21,116.1 439.98,116.54 439.76,116.99 439.55,117.43 439.34,117.88 439.13,118.32 438.93,118.77 438.73,119.21 438.54,119.66 438.35,120.1 438.16,120.55 437.98,120.99 437.8,121.44 437.62,121.88 437.45,122.33 437.28,122.77 437.11,123.22 436.95,123.66 436.79,124.11 436.63,124.55 436.47,125 436.25,125.66 436.02,126.33 435.81,127 435.59,127.67 435.39,128.33 435.19,129 434.99,129.67 434.8,130.34 434.62,130.95 434.49,131.45 434.31,132.12 434.13,132.78 433.99,133.33 433.84,133.9 433.68,134.56 433.52,135.23 433.36,135.9 433.2,136.57 433.05,137.24 432.9,137.9 432.75,138.57 432.61,139.24 432.47,139.9 432.33,140.57 432.2,141.24 432.08,141.83 431.98,142.35 431.85,143.02 431.72,143.69 431.6,144.35 431.48,145.02 431.36,145.69 431.24,146.36 431.13,147.02 431.02,147.69 430.91,148.36 430.8,148.98 430.69,149.69 430.59,150.36 430.49,151.01 430.38,151.7 430.28,152.37 430.18,153.03 430.16,153.7 430.8,153.81 431.44,153.92 432.08,154.02 432.71,154.12 433.35,154.22 433.99,154.33 434.62,154.43 435.26,154.53 435.9,154.64 436.54,154.74 437.17,154.84 437.81,154.95 438.34,155.03 439.08,155.16 439.69,155.26 440.36,155.37 440.99,155.47 441.63,155.58 442.27,155.69 442.9,155.79 443.54,155.9 444.18,156.01 444.81,156.11 445.45,156.22 446.09,156.33 446.72,156.44 447.36,156.55 448,156.66 448.63,156.77 449.27,156.87 449.91,156.98 450.54,157.09 451.18,157.2 451.82,157.32 452.45,157.43 453.09,157.54 453.73,157.65 454.36,157.76 455,157.87 455.64,157.99 456.27,158.1 456.91,158.21 457.55,158.32 458.18,158.44 458.82,158.55 459.46,158.67 460.09,158.78 460.73,158.89 461.37,159.01 462,159.13 462.64,159.24 463.28,159.36 463.92,159.47 464.55,159.59 465.19,159.71 465.83,159.82 466.4,159.93 467.1,160.06 467.74,160.18 468.37,160.3 469.01,160.42 469.65,160.54 470.28,160.65 470.92,160.77 471.56,160.9 472.19,161.02 472.83,161.14 473.47,161.26 474.1,161.38 474.67,161.49 475.38,161.62 476.01,161.75 476.65,161.87 477.29,161.99 477.92,162.12 478.56,162.24 479.2,162.36 479.83,162.49 480.4,162.6 481.11,162.74 481.74,162.87 482.38,162.99 483.02,163.12 483.65,163.24 484.29,163.37 484.88,163.49 485.56,163.63 486.2,163.76 486.84,163.88 487.48,164.01 488.11,164.14 488.75,164.27 489.28,164.38 490.02,164.53 490.66,164.66 491.3,164.79 491.93,164.93 492.52,165.05 493.21,165.19 493.84,165.32 494.48,165.46 495.12,165.59 495.71,165.72 496.39,165.86 497.03,165.99 497.66,166.13 498.3,166.26 498.86,166.38 499.57,166.54 500.21,166.67 500.85,166.81 501.48,166.95 502.12,167.08 502.76,167.22 503.39,167.36 504.01,167.5 504.67,167.64 505.3,167.78 505.94,167.92 506.58,168.06 507.21,168.2 507.85,168.34 508.49,168.49 509.03,168.61 509.76,168.77 510.4,168.91 511.01,169.05 511.67,169.2 512.31,169.35 512.95,169.49 513.58,169.64 514.22,169.78 514.86,169.93 515.49,170.08 516.13,170.22 516.77,170.37 517.4,170.52 518.04,170.67 518.68,170.82 519.31,170.97 519.95,171.12 520.59,171.27 521.22,171.42 521.86,171.57 522.5,171.72 523.13,171.87 523.77,172.03 524.35,172.17 525.04,172.33 525.68,172.49 526.19,172.61 526.95,172.8 527.59,172.95 528.23,173.11 528.86,173.27 529.5,173.42 530.14,173.58 530.71,173.72 531.41,173.9 532.05,174.06 532.68,174.22 533.32,174.38 533.96,174.54 534.59,174.7 535.13,174.84 535.87,175.02 536.5,175.19 537.14,175.35 537.74,175.5 538.41,175.68 539.05,175.84 539.69,176.01 540.31,176.17 540.96,176.34 541.6,176.51 542.24,176.68 542.86,176.84 543.51,177.01 544.15,177.18 544.78,177.35 545.36,177.51 546.06,177.69 546.69,177.87 547.33,178.04 547.84,178.17 548.6,178.38 549.24,178.56 549.88,178.73 550.51,178.91 551.09,179.06 551.79,179.26 552.42,179.43 553.06,179.61 553.7,179.79 554.29,179.95 554.97,180.15 555.61,180.33 556.24,180.51 556.88,180.69 557.43,180.84 558.15,181.05 558.79,181.23 559.43,181.42 560.06,181.6 560.7,181.79 561.29,181.96 561.97,182.16 562.61,182.34 563.25,182.53 563.88,182.72 564.52,182.91 565.07,183.07 565.8,183.29 566.43,183.48 567.07,183.67 567.71,183.86 568.34,184.05 568.98,184.24 569.51,184.4 570.23,184.63 570.89,184.83 571.53,185.02 572.16,185.22 572.8,185.42 573.44,185.62 574.07,185.81 574.55,185.96 575.03,186.11 575.66,186.31 576.3,186.52 576.94,186.72 577.58,186.92 578.06,187.07 578.53,187.22 579.17,187.43 579.8,187.63 580.44,187.84 581.08,188.05 581.71,188.25 582.19,188.41 582.67,188.57 583.31,188.78 583.94,188.99 584.58,189.2 585.22,189.41 585.85,189.62 586.49,189.83 587.13,190.05 587.76,190.26 588.4,190.48 588.87,190.63 589.36,190.8 589.99,191.02 590.63,191.24 591.27,191.46 591.9,191.68 592.54,191.9 593.18,192.12 593.81,192.34 594.45,192.56 595.09,192.79 595.72,193.01 596.36,193.24 597,193.47 597.63,193.69 598.27,193.92 598.91,194.15 599.54,194.38 600.18,194.61 600.82,194.84 601.45,195.08 602.08,195.31 602.69,195.53 603.29,195.75 603.89,195.97 604.49,196.2 604.96,196.37 605.59,196.61 606.23,196.85 606.86,197.09 607.44,197.31 608.03,197.53 608.61,197.75 609.09,197.94 609.73,198.18 610.35,198.42 610.92,198.64 611.49,198.87 611.96,199.05 612.6,199.3 613.2,199.53 613.76,199.76 614.33,199.98 614.83,200.18 615.45,200.42 616,200.65 616.56,200.87 617.05,201.07 617.66,201.31 618.21,201.54 618.65,201.72 619.28,201.98 619.84,202.2 620.38,202.43 620.87,202.63 621.46,202.87 622,203.09 622.47,203.29 623.06,203.54 623.59,203.76 624.06,203.96 624.65,204.21 625.17,204.43 625.65,204.63 626.22,204.88 626.74,205.1 627.24,205.31 627.77,205.54 628.2,205.73 628.8,205.99 629.31,206.21 629.79,206.42 630.32,206.66 630.74,206.84 631.33,207.1 631.84,207.32 632.34,207.54 632.84,207.77 633.29,207.97 633.83,208.21 634.25,208.4 634.81,208.66 635.31,208.88 635.79,209.1 636.28,209.32 636.77,209.55 637.25,209.77 637.74,209.99 638.22,210.21 638.7,210.44 639.17,210.66 639.65,210.88 640.13,211.1 640.6,211.33 641.07,211.55 641.54,211.77 642.01,212 642.48,212.22 642.94,212.44 643.41,212.66 643.87,212.88 644.33,213.11 644.75,213.31 645.25,213.55 645.71,213.77 646.16,214 646.62,214.22 647.07,214.44 647.52,214.66 647.94,214.87 648.42,215.11 648.87,215.33 649.31,215.56 649.76,215.78 650.16,215.98 650.64,216.22 651.08,216.44 651.52,216.67 651.96,216.89 652.39,217.11 652.83,217.33 653.26,217.56 653.67,217.77 654.12,218 654.55,218.22 654.98,218.45 655.41,218.67 655.83,218.89 656.26,219.12 656.68,219.34 657.1,219.56 657.52,219.78 657.94,220 658.36,220.23 658.76,220.44 659.19,220.67 659.6,220.89 660.02,221.12 660.43,221.34 660.84,221.56 661.25,221.78 661.66,222.01 662.06,222.23 662.47,222.45 662.87,222.67 663.27,222.9 663.68,223.12 664.08,223.34 664.48,223.56 664.87,223.79 665.27,224.01 665.67,224.23 666.06,224.45 666.45,224.68 666.85,224.9 667.24,225.12 667.63,225.34 668.02,225.57 668.4,225.79 668.79,226.01 669.18,226.23 669.56,226.46 669.94,226.68 670.33,226.9 670.71,227.12 671.09,227.35 671.47,227.57 671.84,227.79 672.45,228.15 672.97,228.46 673.41,228.72 674.04,229.1 674.46,229.35 675,229.68 675.56,230.02 675.95,230.26 676.59,230.64 677.02,230.91 677.54,231.23 678.1,231.57 678.5,231.82Z" fill="#3F5AD2" stroke="#3F5AD2" stroke-width="0.4"/>
<path d="M678.5,212.04 678.5,211.33 678.5,210.66 678.5,209.99 678.5,209.32 678.5,208.66 678.5,207.99 678.5,207.32 678.5,206.66 678.5,205.99 678.5,205.32 678.5,204.65 678.5,203.98 678.5,203.32 678.5,202.65 678.5,201.98 678.5,201.31 678.5,200.65 678.5,199.98 678.5,199.31 678.5,198.64 678.5,197.98 678.5,197.31 678.5,196.64 678.5,195.97 678.5,195.31 678.5,194.64 678.5,193.97 678.5,193.31 678.5,192.64 678.5,191.97 678.5,191.3 678.5,190.63 678.5,189.97 678.5,189.3 678.5,188.63 678.5,187.97 678.5,187.3 678.5,186.63 678.5,185.96 678.5,185.3 678.5,184.63 678.5,183.96 678.5,183.29 678.5,182.62 678.5,181.96 678.5,181.29 678.5,180.62 678.5,179.95 678.5,179.29 678.5,178.62 678.5,177.95 678.5,177.28 678.5,176.62 678.5,175.95 678.5,175.28 678.5,174.62 678.5,173.95 678.5,173.28 678.5,172.61 678.5,171.94 678.5,171.28 678.5,170.61 678.5,169.94 678.5,169.27 678.5,168.61 678.5,167.94 678.5,167.27 678.5,166.6 678.5,165.94 678.5,165.27 678.5,164.6 678.5,163.94 678.5,163.27 678.5,162.6 678.5,161.93 678.5,161.26 678.5,160.6 678.5,159.93 678.5,159.26 678.5,158.59 678.5,157.93 678.5,157.26 678.5,156.59 678.5,155.93 678.5,155.26 678.5,154.59 678.5,153.92 678.5,153.25 678.5,152.59 678.5,151.92 678.5,151.25 678.5,150.58 678.5,149.92 678.5,149.25 678.5,148.58 678.5,147.91 678.5,147.25 678.5,146.58 678.5,145.91 678.5,145.25 678.5,144.58 678.5,143.91 678.5,143.24 678.5,142.57 678.5,141.91 678.5,141.24 678.5,140.57 678.5,139.9 678.5,139.24 678.5,138.57 678.5,137.9 678.5,137.24 678.5,136.57 678.5,135.9 678.5,135.23 678.5,134.56 678.5,133.9 678.5,133.23 678.5,132.56 678.5,131.89 678.5,131.23 678.5,130.56 678.5,129.89 678.5,129.22 678.5,128.56 678.5,127.89 678.5,127.22 678.5,126.55 678.5,125.89 678.5,125.22 678.5,124.55 678.5,123.88 678.5,123.22 678.5,122.55 678.5,121.88 678.5,121.21 678.5,120.55 678.5,119.88 678.5,119.21 678.5,118.54 678.5,117.88 678.5,117.21 678.5,116.54 678.5,115.87 678.5,115.21 678.5,114.54 678.5,113.87 678.5,113.21 678.5,112.54 678.5,111.87 678.5,111.2 678.5,110.53 678.5,109.87 678.5,109.2 678.5,108.53 678.5,107.87 678.5,107.2 678.5,106.53 678.5,105.86 678.5,105.19 678.5,104.53 678.5,103.86 678.5,103.19 678.5,102.52 678.5,101.86 678.5,101.19 678.5,100.52 678.5,99.85 678.5,99.19 678.5,98.52 678.5,97.85 678.5,97.18 678.5,96.52 678.5,95.85 678.5,95.18 678.5,94.51 678.5,93.85 678.5,93.18 678.5,92.51 678.5,91.84 678.5,91.18 678.5,90.51 678.5,89.84 678.5,89.18 678.5,88.51 678.5,87.84 678.5,87.17 678.5,86.5 678.5,85.84 678.5,85.17 678.5,84.5 678.5,83.83 678.5,83.17 678.5,82.5 678.5,81.83 678.5,81.16 678.5,80.5 678.5,79.83 678.5,79.16 677.86,78.9 677.23,78.91 676.59,78.93 675.95,78.94 675.32,78.95 674.68,78.97 674.04,78.98 673.41,78.99 672.77,79.01 672.13,79.02 671.5,79.03 670.86,79.05 670.22,79.06 669.59,79.07 668.95,79.09 668.31,79.1 667.68,79.12 667.04,79.13 666.4,79.15 665.76,79.16 665.13,79.17 664.49,79.19 663.85,79.2 663.22,79.22 662.58,79.23 661.94,79.25 661.31,79.26 660.67,79.28 660.03,79.29 659.4,79.31 658.76,79.32 658.12,79.34 657.49,79.35 656.85,79.37 656.21,79.38 655.58,79.4 654.94,79.41 654.3,79.43 653.67,79.45 653.03,79.46 652.39,79.48 651.76,79.49 651.12,79.51 650.48,79.53 649.85,79.54 649.21,79.56 648.57,79.58 647.94,79.59 647.34,79.61 646.66,79.63 646.03,79.64 645.39,79.66 644.75,79.68 644.12,79.69 643.48,79.71 642.84,79.73 642.21,79.75 641.57,79.76 640.93,79.78 640.29,79.8 639.66,79.82 639.02,79.83 638.38,79.85 637.75,79.87 637.11,79.89 636.47,79.91 635.84,79.93 635.2,79.94 634.56,79.96 633.93,79.98 633.29,80 632.65,80.02 632.02,80.04 631.38,80.06 630.74,80.08 630.11,80.1 629.47,80.12 628.83,80.14 628.2,80.16 627.56,80.18 626.92,80.2 626.29,80.22 625.65,80.24 625.01,80.26 624.38,80.28 623.74,80.3 623.1,80.32 622.47,80.34 621.83,80.36 621.19,80.38 620.56,80.4 619.92,80.43 619.28,80.45 618.65,80.47 618.01,80.49 617.37,80.51 616.74,80.54 616.1,80.56 615.46,80.58 614.83,80.6 614.19,80.63 613.55,80.65 612.91,80.67 612.28,80.7 611.64,80.72 611,80.74 610.37,80.77 609.73,80.79 609.09,80.81 608.46,80.84 607.82,80.86 607.18,80.89 606.55,80.91 605.91,80.94 605.27,80.96 604.64,80.99 604,81.01 603.36,81.04 602.73,81.06 602.09,81.09 601.45,81.12 600.82,81.14 600.18,81.17 599.54,81.19 598.91,81.22 598.27,81.25 597.63,81.28 597,81.3 596.36,81.33 595.72,81.36 595.09,81.39 594.45,81.42 593.81,81.44 593.18,81.47 592.54,81.5 591.9,81.53 591.27,81.56 590.63,81.59 589.99,81.62 589.36,81.65 588.72,81.68 588.08,81.71 587.44,81.74 586.81,81.77 586.17,81.8 585.53,81.83 584.9,81.86 584.26,81.9 583.62,81.93 582.99,81.96 582.35,81.99 581.71,82.03 581.14,82.05 580.44,82.09 579.8,82.13 579.17,82.16 578.53,82.19 577.89,82.23 577.26,82.26 576.62,82.3 575.98,82.33 575.35,82.37 574.71,82.4 574.07,82.44 573.44,82.48 572.8,82.51 572.16,82.55 571.53,82.59 570.89,82.62 570.25,82.66 569.62,82.7 568.98,82.74 568.34,82.78 567.71,82.82 567.07,82.86 566.43,82.9 565.8,82.94 565.16,82.98 564.52,83.02 563.88,83.06 563.25,83.1 562.61,83.14 561.97,83.19 561.34,83.23 560.7,83.27 560.06,83.32 559.43,83.36 558.79,83.4 558.15,83.45 557.52,83.49 556.88,83.54 556.24,83.59 555.61,83.63 554.97,83.68 554.33,83.73 553.7,83.77 553.06,83.82 552.42,83.87 551.79,83.92 551.15,83.97 550.51,84.02 549.88,84.07 549.24,84.12 548.6,84.17 547.97,84.22 547.33,84.28 546.69,84.33 546.06,84.38 545.42,84.44 544.78,84.49 544.15,84.55 543.51,84.6 542.87,84.66 542.24,84.72 541.6,84.77 540.96,84.83 540.33,84.89 539.72,84.95 539.05,85.01 538.41,85.07 537.78,85.13 537.14,85.19 536.5,85.26 535.87,85.32 535.23,85.38 534.59,85.45 533.96,85.51 533.32,85.58 532.68,85.65 532.05,85.72 531.41,85.78 530.77,85.85 530.14,85.92 529.5,85.99 528.91,86.06 528.23,86.14 527.59,86.21 526.98,86.28 526.32,86.36 525.68,86.44 525.11,86.5 524.41,86.59 523.77,86.67 523.13,86.75 522.5,86.83 521.86,86.91 521.22,86.99 520.59,87.08 519.95,87.16 519.31,87.25 518.68,87.34 518.04,87.42 517.4,87.51 516.77,87.6 516.13,87.69 515.49,87.79 514.86,87.88 514.22,87.98 513.65,88.06 512.95,88.17 512.31,88.27 511.67,88.37 511.03,88.47 510.4,88.57 509.76,88.68 509.12,88.79 508.49,88.89 507.85,89 507.21,89.11 506.58,89.23 505.94,89.34 505.3,89.46 504.67,89.57 504.03,89.69 503.39,89.81 502.76,89.94 502.12,90.06 501.48,90.19 500.98,90.29 500.21,90.45 499.57,90.58 498.94,90.71 498.3,90.85 497.66,90.99 497.03,91.13 496.39,91.27 495.84,91.4 495.12,91.57 494.48,91.72 493.95,91.84 493.21,92.03 492.57,92.19 491.93,92.35 491.3,92.51 490.66,92.68 490.02,92.85 489.39,93.02 488.82,93.18 488.11,93.38 487.48,93.56 486.84,93.75 486.2,93.94 485.56,94.13 485.05,94.29 484.34,94.51 483.65,94.74 483.02,94.95 482.38,95.16 481.74,95.38 481.11,95.6 480.47,95.82 479.83,96.06 479.2,96.29 478.6,96.52 478.03,96.74 477.46,96.96 476.97,97.16 476.36,97.41 475.83,97.63 475.38,97.82 474.79,98.07 474.28,98.3 473.78,98.52 473.3,98.74 472.83,98.96 472.35,99.19 471.88,99.41 471.43,99.63 470.98,99.85 470.54,100.08 470.11,100.3 469.68,100.52 469.27,100.74 468.85,100.97 468.45,101.19 468.05,101.41 467.66,101.63 467.27,101.86 466.89,102.08 466.46,102.34 465.83,102.72 465.43,102.97 464.87,103.33 464.39,103.64 463.92,103.95 463.4,104.3 462.96,104.61 462.45,104.97 462,105.29 461.53,105.64 461.05,106.01 460.66,106.31 460.09,106.75 459.55,107.2 459.14,107.53 458.75,107.86 458.23,108.31 457.87,108.64 457.55,108.92 457.23,109.21 456.91,109.51 456.59,109.81 456.27,110.12 455.96,110.43 455.64,110.75 455.32,111.07 455,111.4 454.68,111.73 454.36,112.07 454.05,112.42 453.74,112.76 453.41,113.13 453.09,113.5 452.77,113.87 452.45,114.25 452.14,114.63 451.85,114.98 451.5,115.43 451.18,115.84 450.86,116.26 450.54,116.68 450.23,117.12 449.91,117.56 449.59,118.01 449.27,118.47 448.95,118.95 448.63,119.43 448.34,119.88 448.06,120.32 447.78,120.77 447.51,121.21 447.24,121.66 446.98,122.1 446.72,122.55 446.47,122.99 446.22,123.44 445.98,123.88 445.74,124.33 445.5,124.77 445.27,125.22 445.04,125.66 444.82,126.11 444.6,126.55 444.38,127 444.18,127.43 443.96,127.89 443.75,128.33 443.55,128.78 443.35,129.22 443.16,129.67 442.96,130.12 442.77,130.56 442.59,131 442.4,131.45 442.22,131.89 442.04,132.34 441.87,132.78 441.69,133.23 441.52,133.68 441.36,134.12 441.19,134.56 441.03,135.01 440.87,135.45 440.71,135.9 440.55,136.34 440.36,136.91 440.17,137.46 439.95,138.12 439.73,138.79 439.51,139.46 439.31,140.13 439.1,140.79 438.9,141.46 438.7,142.13 438.51,142.8 438.32,143.46 438.13,144.13 438.09,144.8 438.76,144.92 439.4,145.01 440.04,145.1 440.67,145.19 441.31,145.29 441.95,145.38 442.55,145.47 443.22,145.57 443.86,145.66 444.49,145.75 445.13,145.85 445.77,145.94 446.4,146.04 447.04,146.13 447.68,146.23 448.31,146.32 448.95,146.42 449.59,146.51 450.23,146.61 450.86,146.71 451.5,146.8 452.14,146.9 452.77,147 453.41,147.09 454.05,147.19 454.68,147.29 455.32,147.39 455.85,147.47 456.59,147.59 457.23,147.68 457.87,147.78 458.5,147.88 459.14,147.98 459.78,148.08 460.41,148.18 461.05,148.28 461.69,148.38 462.32,148.49 462.93,148.58 463.6,148.69 464.23,148.79 464.87,148.89 465.51,149 466.14,149.1 466.78,149.2 467.42,149.3 468.05,149.41 468.69,149.51 469.33,149.62 469.96,149.72 470.6,149.83 471.16,149.92 471.87,150.04 472.5,150.14 473.15,150.25 473.78,150.35 474.42,150.46 475.06,150.57 475.7,150.67 476.33,150.78 476.97,150.89 477.61,151 478.24,151.11 478.88,151.21 479.52,151.32 480.15,151.43 480.79,151.54 481.43,151.65 482.06,151.76 482.7,151.87 483.34,151.98 483.97,152.09 484.61,152.21 485.25,152.32 485.88,152.43 486.52,152.54 487.16,152.65 487.79,152.77 488.43,152.88 489.07,152.99 489.7,153.11 490.34,153.22 490.98,153.34 491.61,153.45 492.25,153.57 492.89,153.68 493.52,153.8 494.16,153.92 494.8,154.03 495.41,154.15 496.07,154.27 496.62,154.37 497.34,154.5 497.98,154.62 498.62,154.74 499.25,154.86 499.89,154.98 500.53,155.1 501.17,155.22 501.8,155.34 502.44,155.46 503.08,155.58 503.71,155.7 504.35,155.82 504.88,155.92 505.62,156.07 506.26,156.19 506.9,156.32 507.53,156.44 508.17,156.56 508.81,156.69 509.44,156.81 510.08,156.94 510.59,157.04 511.35,157.19 511.99,157.32 512.63,157.44 513.26,157.57 513.9,157.7 514.54,157.82 515.05,157.93 515.81,158.08 516.45,158.21 517.08,158.34 517.72,158.47 518.33,158.59 518.99,158.73 519.63,158.86 520.27,158.99 520.9,159.13 521.54,159.26 522.18,159.39 522.81,159.52 523.45,159.66 524.09,159.79 524.72,159.93 525.36,160.06 526,160.2 526.64,160.33 527.27,160.47 527.88,160.6 528.55,160.74 529.18,160.88 529.82,161.02 530.46,161.15 530.97,161.26 531.73,161.43 532.37,161.57 533,161.71 533.64,161.85 534.28,161.99 534.91,162.13 535.55,162.28 536.19,162.42 536.82,162.56 537.46,162.7 537.99,162.82 538.73,162.99 539.37,163.14 539.95,163.27 540.64,163.43 541.28,163.57 541.89,163.71 542.55,163.87 543.19,164.01 543.81,164.16 544.46,164.31 545.1,164.46 545.72,164.6 546.37,164.76 547.01,164.91 547.6,165.05 548.28,165.21 548.92,165.36 549.47,165.49 550.19,165.67 550.83,165.82 551.32,165.94 552.11,166.13 552.74,166.28 553.38,166.44 554.02,166.59 554.65,166.75 555.29,166.91 555.87,167.05 556.56,167.22 557.2,167.38 557.84,167.54 558.47,167.7 559.11,167.86 559.75,168.02 560.31,168.16 561.02,168.34 561.66,168.51 562.29,168.67 562.92,168.83 563.57,169 564.2,169.16 564.84,169.33 565.48,169.49 566.11,169.66 566.75,169.83 567.39,169.99 568.02,170.16 568.66,170.33 569.3,170.5 569.93,170.67 570.55,170.83 571.21,171.01 571.84,171.18 572.48,171.35 573.02,171.5 573.75,171.7 574.39,171.87 575.03,172.05 575.66,172.22 576.26,172.39 576.94,172.58 577.58,172.75 578.21,172.93 578.85,173.11 579.45,173.28 580.12,173.47 580.76,173.65 581.4,173.83 582.03,174.01 582.58,174.17 583.31,174.38 583.94,174.56 584.58,174.75 585.22,174.93 585.85,175.12 586.42,175.28 587.13,175.49 587.76,175.68 588.4,175.87 589.04,176.06 589.67,176.25 590.17,176.39 590.91,176.62 591.58,176.82 592.22,177.01 592.86,177.21 593.49,177.4 594.13,177.6 594.77,177.79 595.29,177.95 596.01,178.17 596.68,178.38 597.31,178.58 597.95,178.78 598.59,178.98 599.22,179.18 599.86,179.38 600.5,179.59 600.96,179.73 601.45,179.89 602.09,180.1 602.73,180.3 603.36,180.51 604,180.71 604.64,180.92 605.27,181.13 605.76,181.29 606.23,181.44 606.87,181.65 607.5,181.87 608.14,182.08 608.78,182.29 609.41,182.5 610.05,182.72 610.69,182.93 611.32,183.15 611.96,183.37 612.6,183.59 613.23,183.8 613.68,183.96 614.19,184.13 614.83,184.36 615.46,184.58 616.1,184.8 616.74,185.02 617.37,185.25 618.01,185.47 618.65,185.7 619.28,185.93 619.92,186.16 620.56,186.39 621.19,186.62 621.83,186.85 622.45,187.07 623.06,187.3 623.67,187.52 624.27,187.74 624.87,187.97 625.33,188.14 625.97,188.37 626.6,188.61 627.24,188.85 627.84,189.08 628.43,189.3 629.02,189.52 629.47,189.7 630.11,189.94 630.74,190.18 631.33,190.41 631.91,190.63 632.48,190.86 632.97,191.05 633.61,191.3 634.18,191.52 634.74,191.75 635.2,191.93 635.84,192.18 636.42,192.41 636.98,192.64 637.43,192.82 638.07,193.08 638.63,193.31 639.17,193.53 639.66,193.73 640.26,193.97 640.8,194.19 641.25,194.38 641.88,194.64 642.41,194.86 642.84,195.04 643.47,195.31 644,195.53 644.43,195.71 645.05,195.97 645.58,196.2 646.03,196.39 646.62,196.64 647.14,196.87 647.62,197.07 648.16,197.31 648.68,197.53 649.19,197.75 649.69,197.98 650.16,198.18 650.7,198.42 651.21,198.64 651.71,198.87 652.21,199.09 652.7,199.31 653.2,199.53 653.67,199.75 654.19,199.98 654.62,200.18 655.16,200.42 655.58,200.61 656.14,200.87 656.62,201.09 657.1,201.31 657.58,201.54 658.06,201.76 658.54,201.98 659.01,202.2 659.49,202.43 659.96,202.65 660.43,202.87 660.9,203.09 661.31,203.29 661.83,203.54 662.26,203.75 662.76,203.98 663.22,204.21 663.68,204.43 664.13,204.65 664.59,204.88 665.04,205.1 665.5,205.32 665.95,205.54 666.4,205.76 666.85,205.99 667.29,206.21 667.74,206.43 668.18,206.66 668.63,206.88 669.07,207.1 669.51,207.32 669.94,207.54 670.38,207.77 670.82,207.99 671.25,208.21 671.68,208.44 672.11,208.66 672.54,208.88 672.97,209.1 673.4,209.32 673.82,209.55 674.25,209.77 674.67,209.99 675.09,210.22 675.51,210.44 675.93,210.66 676.34,210.88 676.76,211.1 677.17,211.33 677.59,211.55 678,211.77 678.41,212Z" fill="#4A94C3" stroke="#4A94C3" stroke-width="0.4"/>
<path d="M678.5,192.27 678.5,191.52 678.5,190.86 678.5,190.19 678.5,189.52 678.5,188.85 678.5,188.19 678.5,187.52 678.5,186.85 678.5,186.19 678.5,185.52 678.5,184.85 678.5,184.18 678.5,183.51 678.5,182.85 678.5,182.18 678.5,181.51 678.5,180.84 678.5,180.18 678.5,179.51 678.5,178.84 678.5,178.17 678.5,177.51 678.5,176.84 678.5,176.17 678.5,175.5 678.5,174.84 678.5,174.17 678.5,173.5 678.5,172.83 678.5,172.17 678.5,171.5 678.5,170.83 678.5,170.16 678.5,169.5 678.5,168.83 678.5,168.16 678.5,167.5 678.5,166.83 678.5,166.16 678.5,165.49 678.5,164.82 678.5,164.16 678.5,163.49 678.5,162.82 678.5,162.15 678.5,161.49 678.5,160.82 678.5,160.15 678.5,159.49 678.5,158.82 678.5,158.15 678.5,157.48 678.5,156.81 678.5,156.15 678.5,155.48 678.5,154.81 678.5,154.14 678.5,153.48 678.5,152.81 678.5,152.14 678.5,151.47 678.5,150.81 678.5,150.14 678.5,149.47 678.5,148.81 678.5,148.14 678.5,147.47 678.5,146.8 678.5,146.13 678.5,145.47 678.5,144.8 678.5,144.13 678.5,143.46 678.5,142.8 678.5,142.13 678.5,141.46 678.5,140.79 678.5,140.13 678.5,139.46 678.5,138.79 678.5,138.12 678.5,137.46 678.5,136.79 678.5,136.12 678.5,135.45 678.5,134.79 678.5,134.12 678.5,133.45 678.5,132.78 678.5,132.12 678.5,131.45 678.5,130.78 678.5,130.12 678.5,129.45 678.5,128.78 678.5,128.11 678.5,127.44 678.5,126.78 678.5,126.11 678.5,125.44 678.5,124.77 678.5,124.11 678.5,123.44 678.5,122.77 678.5,122.1 678.5,121.44 678.5,120.77 678.5,120.1 678.5,119.43 678.5,118.77 678.5,118.1 678.5,117.43 678.5,116.76 678.5,116.1 678.5,115.43 678.5,114.76 678.5,114.09 678.5,113.43 678.5,112.76 678.5,112.09 678.5,111.43 678.5,110.76 678.5,110.09 678.5,109.42 678.5,108.75 678.5,108.09 678.5,107.42 678.5,106.75 678.5,106.08 678.5,105.42 678.5,104.75 678.5,104.08 678.5,103.41 678.5,102.75 678.5,102.08 678.5,101.41 678.5,100.74 678.5,100.08 678.5,99.41 678.5,98.74 678.5,98.07 678.5,97.41 678.5,96.74 678.5,96.07 678.5,95.4 678.5,94.74 678.5,94.07 678.5,93.4 678.5,92.73 678.5,92.07 678.5,91.4 678.5,90.73 678.5,90.06 678.5,89.4 678.5,88.73 678.5,88.06 678.5,87.4 678.5,86.73 678.5,86.06 678.5,85.39 678.5,84.72 678.5,84.06 678.5,83.39 678.5,82.72 678.5,82.05 678.5,81.39 678.5,80.72 677.86,80.67 677.23,80.68 676.59,80.7 675.95,80.72 675.32,80.74 674.68,80.75 674.04,80.77 673.41,80.79 672.77,80.81 672.13,80.83 671.5,80.84 670.86,80.86 670.22,80.88 669.59,80.9 668.95,80.92 668.31,80.94 667.68,80.96 667.04,80.97 666.4,80.99 665.76,81.01 665.13,81.03 664.49,81.05 663.85,81.07 663.22,81.09 662.58,81.11 661.94,81.13 661.31,81.15 660.67,81.17 660.03,81.19 659.4,81.21 658.76,81.23 658.12,81.25 657.49,81.27 656.85,81.29 656.21,81.31 655.58,81.33 654.94,81.35 654.3,81.37 653.67,81.39 653.03,81.42 652.39,81.44 651.76,81.46 651.12,81.48 650.48,81.5 649.85,81.52 649.21,81.55 648.57,81.57 647.94,81.59 647.34,81.61 646.66,81.63 646.03,81.66 645.39,81.68 644.75,81.7 644.12,81.72 643.48,81.75 642.84,81.77 642.21,81.79 641.57,81.82 640.93,81.84 640.3,81.86 639.66,81.89 639.02,81.91 638.38,81.94 637.75,81.96 637.11,81.99 636.47,82.01 635.84,82.03 635.2,82.06 634.56,82.08 633.93,82.11 633.29,82.13 632.65,82.16 632.02,82.19 631.38,82.21 630.74,82.24 630.11,82.26 629.47,82.29 628.83,82.32 628.2,82.34 627.56,82.37 626.92,82.4 626.29,82.42 625.65,82.45 625.01,82.48 624.38,82.5 623.74,82.53 623.1,82.56 622.47,82.59 621.83,82.62 621.19,82.64 620.56,82.67 619.92,82.7 619.28,82.73 618.65,82.76 618.01,82.79 617.37,82.82 616.74,82.85 616.1,82.88 615.46,82.91 614.83,82.94 614.19,82.97 613.55,83 612.91,83.03 612.28,83.06 611.64,83.09 611,83.12 610.37,83.15 609.73,83.19 609.09,83.22 608.46,83.25 607.82,83.28 607.18,83.32 606.55,83.35 605.91,83.38 605.27,83.42 604.64,83.45 604,83.48 603.36,83.52 602.73,83.55 602.09,83.59 601.45,83.62 600.82,83.66 600.18,83.69 599.54,83.73 598.91,83.76 598.27,83.8 597.63,83.83 597,83.87 596.36,83.91 595.72,83.95 595.09,83.98 594.45,84.02 593.82,84.06 593.18,84.1 592.54,84.13 591.9,84.17 591.27,84.21 590.63,84.25 589.99,84.29 589.36,84.33 588.72,84.37 588.08,84.41 587.44,84.45 586.81,84.49 586.17,84.53 585.53,84.58 584.9,84.62 584.26,84.66 583.62,84.7 582.99,84.75 582.35,84.79 581.71,84.83 581.08,84.88 580.44,84.92 579.8,84.97 579.17,85.01 578.53,85.06 577.89,85.1 577.26,85.15 576.62,85.2 575.98,85.24 575.35,85.29 574.71,85.34 574.07,85.39 573.44,85.43 572.8,85.48 572.16,85.53 571.53,85.58 570.89,85.63 570.25,85.68 569.62,85.73 568.98,85.79 568.34,85.84 567.71,85.89 567.07,85.94 566.43,86 565.8,86.05 565.16,86.1 564.52,86.16 563.88,86.21 563.25,86.27 562.61,86.32 561.97,86.38 561.34,86.44 560.7,86.5 560.06,86.55 559.43,86.61 558.79,86.67 558.19,86.73 557.52,86.79 556.88,86.85 556.24,86.91 555.61,86.98 554.97,87.04 554.33,87.1 553.7,87.16 553.06,87.23 552.42,87.29 551.79,87.36 551.15,87.43 550.51,87.49 549.88,87.56 549.33,87.62 548.6,87.7 547.97,87.77 547.33,87.84 546.69,87.91 546.06,87.98 545.42,88.05 544.78,88.12 544.15,88.2 543.51,88.27 542.87,88.35 542.24,88.42 541.6,88.5 540.96,88.58 540.33,88.66 539.72,88.73 539.05,88.81 538.41,88.9 537.78,88.98 537.14,89.06 536.5,89.14 535.87,89.23 535.23,89.31 534.61,89.4 533.96,89.49 533.32,89.57 532.68,89.66 532.05,89.75 531.43,89.84 530.77,89.94 530.14,90.03 529.5,90.13 528.86,90.22 528.23,90.32 527.59,90.42 526.98,90.51 526.32,90.61 525.68,90.72 525.04,90.82 524.41,90.92 523.77,91.03 523.13,91.13 522.5,91.24 521.86,91.35 521.22,91.46 520.59,91.57 519.95,91.68 519.31,91.8 518.68,91.91 518.04,92.03 517.4,92.15 516.77,92.27 516.13,92.39 515.51,92.51 514.86,92.64 514.22,92.77 513.58,92.9 512.95,93.03 512.31,93.16 511.67,93.29 511.16,93.4 510.4,93.57 509.76,93.71 509.12,93.85 508.49,93.99 507.85,94.14 507.21,94.28 506.58,94.43 505.94,94.59 505.31,94.74 504.67,94.9 504.03,95.06 503.53,95.18 502.76,95.38 502.12,95.55 501.48,95.72 500.98,95.85 500.21,96.06 499.57,96.24 498.94,96.42 498.3,96.6 497.82,96.74 497.34,96.88 496.71,97.07 496.07,97.26 495.6,97.41 495.12,97.56 494.48,97.76 493.84,97.96 493.21,98.17 492.57,98.38 491.93,98.6 491.3,98.82 490.66,99.04 490.02,99.27 489.39,99.5 488.75,99.73 488.11,99.97 487.48,100.22 486.84,100.47 486.2,100.72 485.59,100.97 485.05,101.19 484.61,101.37 483.99,101.63 483.48,101.86 483.02,102.06 482.47,102.3 481.98,102.53 481.5,102.75 481.02,102.97 480.55,103.19 480.09,103.41 479.64,103.64 479.2,103.86 478.75,104.08 478.31,104.3 477.88,104.53 477.46,104.75 477.04,104.97 476.65,105.18 476.23,105.42 475.83,105.64 475.43,105.86 475.04,106.08 474.66,106.31 474.28,106.53 473.78,106.83 473.18,107.2 472.51,107.61 472.11,107.87 471.56,108.23 471.09,108.53 470.6,108.86 470.11,109.2 469.65,109.52 469.16,109.87 468.69,110.21 468.25,110.53 467.74,110.92 467.37,111.2 466.8,111.65 466.46,111.92 465.97,112.31 465.51,112.7 465.17,112.98 464.65,113.43 464.23,113.79 463.92,114.07 463.6,114.36 463.28,114.65 462.96,114.94 462.64,115.24 462.32,115.55 462,115.86 461.69,116.17 461.37,116.49 461.05,116.81 460.73,117.13 460.41,117.47 460.09,117.8 459.78,118.15 459.46,118.49 459.14,118.85 458.82,119.2 458.5,119.57 458.18,119.94 457.87,120.32 457.55,120.7 457.23,121.09 456.95,121.44 456.59,121.88 456.27,122.29 455.96,122.71 455.64,123.13 455.32,123.56 455,124 454.68,124.44 454.36,124.9 454.05,125.36 453.73,125.83 453.41,126.31 453.1,126.78 452.82,127.22 452.53,127.67 452.26,128.11 451.99,128.56 451.72,129 451.45,129.45 451.19,129.89 450.94,130.34 450.69,130.78 450.44,131.23 450.23,131.62 449.96,132.12 449.72,132.56 449.49,133.01 449.27,133.43 449.03,133.9 448.81,134.34 448.59,134.79 448.38,135.23 448.16,135.68 448.63,135.97 449.27,136.06 449.91,136.14 450.54,136.22 451.18,136.3 451.82,136.39 452.45,136.47 453.09,136.55 453.73,136.64 454.36,136.72 455,136.8 455.64,136.89 456.27,136.97 456.91,137.06 457.55,137.14 458.18,137.23 458.82,137.31 459.46,137.4 460.09,137.49 460.73,137.57 461.37,137.66 462,137.74 462.64,137.83 463.28,137.92 463.92,138.01 464.55,138.09 465.19,138.18 465.83,138.27 466.4,138.35 467.1,138.45 467.74,138.53 468.37,138.62 469.01,138.71 469.58,138.79 470.28,138.89 470.92,138.98 471.56,139.07 472.19,139.16 472.73,139.24 473.47,139.34 474.1,139.43 474.74,139.53 475.38,139.62 476.01,139.71 476.65,139.8 477.29,139.89 477.92,139.99 478.56,140.08 479.2,140.17 479.83,140.27 480.4,140.35 481.11,140.45 481.74,140.55 482.38,140.64 483.02,140.74 483.65,140.83 484.29,140.93 484.88,141.02 485.56,141.12 486.2,141.22 486.84,141.31 487.48,141.41 488.11,141.51 488.75,141.6 489.28,141.69 490.02,141.8 490.66,141.9 491.3,142 491.93,142.09 492.57,142.19 493.21,142.29 493.84,142.39 494.48,142.49 495.01,142.57 495.75,142.69 496.39,142.79 497.03,142.89 497.66,143 498.3,143.1 498.94,143.2 499.57,143.3 500.21,143.4 500.85,143.51 501.48,143.61 502.12,143.71 502.76,143.82 503.33,143.91 504.03,144.03 504.67,144.13 505.3,144.23 505.94,144.34 506.58,144.45 507.21,144.55 507.85,144.66 508.49,144.76 509.12,144.87 509.76,144.98 510.4,145.09 511.03,145.19 511.67,145.3 512.31,145.41 512.95,145.52 513.58,145.63 514.22,145.74 514.86,145.85 515.49,145.96 516.13,146.07 516.77,146.18 517.4,146.29 518.04,146.4 518.68,146.51 519.31,146.63 519.95,146.74 520.59,146.85 521.22,146.96 521.86,147.08 522.5,147.19 523.13,147.31 523.77,147.42 524.41,147.54 525.04,147.65 525.68,147.77 526.32,147.88 526.95,148 527.59,148.12 528.23,148.23 528.86,148.35 529.5,148.47 530.11,148.58 530.77,148.71 531.31,148.81 532.05,148.94 532.68,149.06 533.32,149.18 533.96,149.3 534.59,149.43 535.23,149.55 535.87,149.67 536.5,149.79 537.14,149.91 537.78,150.04 538.32,150.14 539.05,150.28 539.69,150.41 540.33,150.53 540.96,150.66 541.6,150.78 542.24,150.91 542.86,151.03 543.51,151.16 544.15,151.29 544.78,151.41 545.42,151.54 546.06,151.67 546.69,151.8 547.29,151.92 547.97,152.06 548.6,152.19 549.24,152.32 549.88,152.45 550.51,152.58 551.15,152.71 551.79,152.84 552.42,152.98 553.06,153.11 553.7,153.24 554.33,153.38 554.97,153.51 555.61,153.64 556.24,153.78 556.88,153.92 557.52,154.05 558.15,154.19 558.79,154.33 559.43,154.46 560.01,154.59 560.7,154.74 561.34,154.88 561.97,155.02 562.61,155.16 563.25,155.3 563.88,155.44 564.52,155.58 565.07,155.7 565.8,155.86 566.43,156.01 567.05,156.15 567.71,156.29 568.34,156.44 568.98,156.58 569.62,156.73 570.25,156.87 570.89,157.02 571.53,157.17 572.16,157.32 572.8,157.46 573.44,157.61 574.07,157.76 574.71,157.91 575.35,158.06 575.98,158.21 576.62,158.36 577.26,158.51 577.89,158.67 578.53,158.82 579.17,158.97 579.8,159.13 580.37,159.26 581.08,159.43 581.71,159.59 582.35,159.75 582.99,159.9 583.62,160.06 584.26,160.22 584.89,160.38 585.53,160.54 586.17,160.69 586.67,160.82 587.44,161.02 588.08,161.18 588.72,161.34 589.3,161.49 589.99,161.66 590.63,161.83 591.27,161.99 591.89,162.15 592.54,162.32 593.18,162.49 593.81,162.66 594.45,162.82 595.09,162.99 595.72,163.16 596.36,163.33 596.96,163.49 597.63,163.67 598.27,163.84 598.91,164.01 599.44,164.16 600.18,164.36 600.82,164.53 601.45,164.71 602.09,164.88 602.69,165.05 603.36,165.23 604,165.41 604.64,165.59 605.27,165.77 605.87,165.94 606.55,166.13 607.18,166.31 607.82,166.49 608.46,166.67 609,166.83 609.73,167.04 610.37,167.22 611,167.41 611.64,167.59 612.28,167.78 612.82,167.94 613.55,168.16 614.19,168.34 614.83,168.53 615.46,168.72 616.1,168.91 616.74,169.11 617.29,169.27 618.01,169.49 618.65,169.69 619.28,169.88 619.92,170.08 620.56,170.27 621.19,170.47 621.83,170.67 622.35,170.83 623.06,171.06 623.74,171.27 624.38,171.47 625.01,171.67 625.65,171.87 626.29,172.08 626.92,172.28 627.56,172.49 628.2,172.7 628.83,172.9 629.31,173.06 629.79,173.22 630.43,173.42 631.06,173.64 631.7,173.85 632.34,174.06 632.97,174.27 633.61,174.49 634.25,174.7 634.88,174.92 635.52,175.13 636.16,175.35 636.61,175.5 637.11,175.68 637.75,175.9 638.38,176.12 639.02,176.34 639.66,176.56 640.29,176.79 640.93,177.01 641.57,177.24 642.21,177.47 642.84,177.69 643.48,177.92 644.12,178.15 644.75,178.38 645.39,178.61 646.01,178.84 646.62,179.06 647.22,179.29 647.82,179.51 648.42,179.73 648.89,179.91 649.53,180.15 650.16,180.39 650.79,180.62 651.37,180.84 651.96,181.07 652.39,181.23 653.03,181.48 653.67,181.72 654.27,181.96 654.84,182.18 655.41,182.4 655.9,182.59 656.53,182.84 657.1,183.07 657.66,183.29 658.12,183.48 658.76,183.73 659.33,183.96 659.88,184.18 660.35,184.37 660.98,184.63 661.52,184.85 662.06,185.07 662.58,185.29 663.14,185.52 663.68,185.74 664.17,185.95 664.74,186.19 665.27,186.41 665.76,186.62 666.32,186.85 666.85,187.07 667.36,187.29 667.89,187.52 668.31,187.7 668.92,187.97 669.43,188.19 669.9,188.39 670.45,188.63 670.96,188.85 671.47,189.08 671.97,189.3 672.45,189.51 672.97,189.75 673.41,189.94 673.96,190.19 674.46,190.41 674.95,190.63 675.44,190.86 675.93,191.08 676.41,191.3 676.9,191.52 677.38,191.75 677.86,191.97 678.34,192.19Z" fill="#69B08E" stroke="#69B08E" stroke-width="0.4"/>
<path d="M678.5,172.49 678.5,171.72 678.5,171.06 678.5,170.39 678.5,169.72 678.5,169.05 678.5,168.38 678.5,167.72 678.5,167.05 678.5,166.38 678.5,165.72 678.5,165.05 678.5,164.38 678.5,163.71 678.5,163.05 678.5,162.38 678.5,161.71 678.5,161.04 678.5,160.38 678.5,159.71 678.5,159.04 678.5,158.37 678.5,157.7 678.5,157.04 678.5,156.37 678.5,155.7 678.5,155.03 678.5,154.37 678.5,153.7 678.5,153.03 678.5,152.37 678.5,151.7 678.5,151.03 678.5,150.36 678.5,149.69 678.5,149.03 678.5,148.36 678.5,147.69 678.5,147.02 678.5,146.36 678.5,145.69 678.5,145.02 678.5,144.35 678.5,143.69 678.5,143.02 678.5,142.35 678.5,141.69 678.5,141.02 678.5,140.35 678.5,139.68 678.5,139.01 678.5,138.35 678.5,137.68 678.5,137.01 678.5,136.34 678.5,135.68 678.5,135.01 678.5,134.34 678.5,133.68 678.5,133.01 678.5,132.34 678.5,131.67 678.5,131 678.5,130.34 678.5,129.67 678.5,129 678.5,128.33 678.5,127.67 678.5,127 678.5,126.33 678.5,125.66 678.5,125 678.5,124.33 678.5,123.66 678.5,122.99 678.5,122.33 678.5,121.66 678.5,120.99 678.5,120.32 678.5,119.66 678.5,118.99 678.5,118.32 678.5,117.65 678.5,116.99 678.5,116.32 678.5,115.65 678.5,114.98 678.5,114.32 678.5,113.65 678.5,112.98 678.5,112.31 678.5,111.65 678.5,110.98 678.5,110.31 678.5,109.65 678.5,108.98 678.5,108.31 678.5,107.64 678.5,106.97 678.5,106.31 678.5,105.64 678.5,104.97 678.5,104.3 678.5,103.64 678.5,102.97 678.5,102.3 678.5,101.63 678.5,100.97 678.5,100.3 678.5,99.63 678.5,98.96 678.5,98.3 678.5,97.63 678.5,96.96 678.5,96.29 678.5,95.63 678.5,94.96 678.5,94.29 678.5,93.62 678.5,92.96 678.5,92.29 678.5,91.62 678.5,90.96 678.5,90.29 678.5,89.62 678.5,88.95 678.5,88.28 678.5,87.62 678.5,86.95 678.5,86.28 678.5,85.62 678.5,84.95 678.5,84.28 678.5,83.61 678.5,82.94 678.18,82.42 677.54,82.44 676.91,82.47 676.27,82.49 675.63,82.51 675,82.53 674.36,82.55 673.72,82.58 673.09,82.6 672.45,82.62 671.81,82.64 671.18,82.67 670.54,82.69 669.9,82.71 669.27,82.74 668.63,82.76 667.99,82.78 667.36,82.81 666.72,82.83 666.08,82.85 665.45,82.88 664.81,82.9 664.17,82.93 663.54,82.95 662.9,82.97 662.26,83 661.63,83.02 660.99,83.05 660.35,83.07 659.72,83.1 659.08,83.12 658.44,83.15 657.81,83.17 657.17,83.2 656.53,83.23 655.9,83.25 655.26,83.28 654.62,83.3 653.99,83.33 653.35,83.36 652.71,83.38 652.07,83.41 651.44,83.44 650.8,83.46 650.16,83.49 649.53,83.52 648.89,83.55 648.25,83.57 647.62,83.6 646.98,83.63 646.34,83.66 645.71,83.68 645.07,83.71 644.43,83.74 643.8,83.77 643.16,83.8 642.52,83.83 641.89,83.86 641.25,83.89 640.61,83.92 639.98,83.95 639.34,83.98 638.7,84.01 638.07,84.04 637.43,84.07 636.79,84.1 636.16,84.13 635.52,84.16 634.88,84.19 634.25,84.22 633.61,84.25 632.97,84.28 632.34,84.32 631.7,84.35 631.06,84.38 630.43,84.41 629.79,84.44 629.15,84.48 628.52,84.51 627.88,84.54 627.24,84.58 626.6,84.61 625.97,84.64 625.33,84.68 624.69,84.71 624.06,84.75 623.42,84.78 622.78,84.82 622.15,84.85 621.51,84.89 620.87,84.92 620.24,84.96 619.6,84.99 618.96,85.03 618.33,85.07 617.69,85.1 617.05,85.14 616.42,85.18 615.78,85.22 615.14,85.25 614.51,85.29 613.87,85.33 613.23,85.37 612.6,85.41 611.96,85.45 611.32,85.48 610.69,85.52 610.05,85.56 609.41,85.6 608.78,85.64 608.14,85.68 607.5,85.72 606.87,85.77 606.23,85.81 605.59,85.85 604.96,85.89 604.32,85.93 603.68,85.98 603.05,86.02 602.42,86.06 601.77,86.1 601.13,86.15 600.5,86.19 599.86,86.24 599.22,86.28 598.59,86.33 597.95,86.37 597.31,86.42 596.68,86.46 596.08,86.5 595.4,86.55 594.77,86.6 594.13,86.65 593.49,86.7 592.86,86.74 592.22,86.79 591.58,86.84 590.95,86.89 590.31,86.94 589.67,86.99 589.04,87.04 588.4,87.09 587.76,87.14 587.13,87.19 586.49,87.24 585.85,87.29 585.22,87.35 584.64,87.4 583.94,87.45 583.31,87.51 582.67,87.56 582.03,87.61 581.4,87.67 580.76,87.73 580.12,87.78 579.49,87.84 578.85,87.89 578.21,87.95 577.58,88.01 576.98,88.06 576.3,88.12 575.66,88.18 575.03,88.24 574.39,88.3 573.75,88.36 573.12,88.42 572.48,88.49 571.84,88.55 571.21,88.61 570.57,88.67 569.99,88.73 569.3,88.8 568.66,88.86 568.02,88.93 567.39,88.99 566.75,89.06 566.11,89.13 565.48,89.2 564.84,89.26 564.2,89.33 563.6,89.4 562.93,89.47 562.29,89.54 561.66,89.61 561.02,89.68 560.38,89.76 559.75,89.83 559.11,89.9 558.47,89.98 557.84,90.05 557.2,90.13 556.56,90.2 555.93,90.28 555.29,90.36 554.65,90.44 554.06,90.51 553.38,90.6 552.74,90.68 552.11,90.76 551.47,90.84 550.83,90.92 550.19,91.01 549.56,91.09 548.92,91.18 548.28,91.26 547.65,91.35 547.01,91.44 546.37,91.53 545.74,91.62 545.1,91.71 544.46,91.8 543.83,91.89 543.19,91.99 542.64,92.07 541.92,92.18 541.28,92.27 540.64,92.37 540.01,92.47 539.37,92.57 538.73,92.67 538.1,92.77 537.46,92.87 536.94,92.96 536.19,93.08 535.6,93.18 534.91,93.3 534.28,93.4 533.64,93.51 533,93.62 532.37,93.74 531.74,93.85 531.09,93.96 530.51,94.07 529.82,94.2 529.31,94.29 528.55,94.44 527.91,94.56 527.27,94.68 526.64,94.8 526,94.93 525.36,95.06 524.75,95.18 524.09,95.32 523.45,95.45 522.81,95.58 522.18,95.72 521.56,95.85 520.9,95.99 520.27,96.13 519.63,96.28 518.99,96.42 518.36,96.57 517.72,96.71 517.08,96.86 516.45,97.01 515.81,97.17 515.17,97.32 514.54,97.48 513.94,97.63 513.26,97.8 512.63,97.97 511.99,98.13 511.37,98.3 510.72,98.47 510.08,98.64 509.44,98.82 508.93,98.96 508.17,99.18 507.53,99.36 506.9,99.55 506.26,99.74 505.62,99.93 505.13,100.08 504.67,100.22 504.03,100.42 503.39,100.62 502.76,100.83 502.12,101.03 501.65,101.19 501.17,101.35 500.53,101.57 499.89,101.79 499.25,102.01 498.62,102.23 497.98,102.46 497.34,102.7 496.71,102.94 496.07,103.18 495.45,103.41 494.88,103.64 494.32,103.86 493.84,104.05 493.23,104.3 492.69,104.53 492.25,104.71 491.64,104.97 491.13,105.19 490.66,105.4 490.12,105.64 489.7,105.83 489.14,106.08 488.66,106.31 488.19,106.53 487.72,106.75 487.26,106.97 486.84,107.18 486.36,107.42 485.92,107.64 485.48,107.87 485.05,108.09 484.62,108.31 484.2,108.53 483.79,108.75 483.38,108.98 482.97,109.2 482.57,109.42 482.18,109.64 481.79,109.87 481.4,110.09 481.02,110.31 480.47,110.64 479.91,110.98 479.52,111.22 478.88,111.62 478.49,111.87 477.92,112.23 477.46,112.54 476.97,112.87 476.47,113.21 476.01,113.52 475.51,113.87 475.06,114.2 474.58,114.54 474.1,114.89 473.69,115.21 473.15,115.62 472.53,116.1 472.19,116.37 471.7,116.76 471.24,117.14 470.89,117.43 470.37,117.88 469.96,118.23 469.6,118.54 469.1,118.99 468.69,119.36 468.37,119.65 468.05,119.95 467.74,120.25 467.43,120.55 467.1,120.87 466.78,121.18 466.46,121.49 466.14,121.82 465.83,122.14 465.51,122.47 465.19,122.81 464.87,123.14 464.55,123.49 464.23,123.84 463.92,124.19 463.6,124.55 463.28,124.91 462.96,125.28 462.64,125.65 462.32,126.03 462,126.42 461.72,126.78 462.32,127.09 462.96,127.16 463.6,127.23 464.23,127.31 464.87,127.38 465.43,127.44 466.14,127.53 466.78,127.6 467.36,127.67 468.05,127.75 468.69,127.82 469.27,127.89 469.96,127.97 470.6,128.05 471.16,128.11 471.87,128.2 472.51,128.27 473.15,128.35 473.78,128.42 474.42,128.5 475.06,128.58 475.7,128.65 476.33,128.73 476.97,128.81 477.61,128.88 478.24,128.96 478.88,129.04 479.52,129.12 480.15,129.19 480.79,129.27 481.43,129.35 482.06,129.43 482.7,129.51 483.34,129.59 483.97,129.67 484.61,129.75 485.25,129.83 485.88,129.91 486.52,129.99 487.16,130.07 487.79,130.15 488.43,130.23 489.07,130.31 489.7,130.39 490.34,130.47 490.98,130.56 491.61,130.64 492.25,130.72 492.89,130.8 493.52,130.89 494.16,130.97 494.8,131.05 495.43,131.14 496.07,131.22 496.71,131.3 497.34,131.39 497.98,131.47 498.62,131.56 499.25,131.64 499.89,131.73 500.53,131.81 501.14,131.89 501.8,131.98 502.44,132.07 503.08,132.16 503.71,132.24 504.35,132.33 504.99,132.42 505.62,132.51 506.26,132.59 506.9,132.68 507.53,132.77 508.17,132.86 508.81,132.95 509.44,133.04 510.08,133.13 510.72,133.22 511.35,133.31 511.99,133.4 512.63,133.49 513.26,133.58 513.9,133.67 514.54,133.76 515.17,133.85 515.81,133.94 516.45,134.04 517.02,134.12 517.72,134.22 518.36,134.31 518.99,134.41 519.63,134.5 520.27,134.6 520.9,134.69 521.54,134.78 522.18,134.88 522.81,134.97 523.45,135.07 524.09,135.17 524.72,135.26 525.36,135.36 526,135.45 526.64,135.55 527.27,135.65 527.91,135.75 528.55,135.84 529.18,135.94 529.82,136.04 530.35,136.12 531.09,136.24 531.73,136.34 532.37,136.44 533,136.54 533.64,136.64 534.28,136.74 534.91,136.84 535.55,136.94 536.19,137.04 536.82,137.14 537.4,137.24 538.1,137.35 538.73,137.45 539.37,137.55 540.01,137.66 540.64,137.76 541.28,137.87 541.92,137.97 542.55,138.08 543.19,138.18 543.83,138.29 544.46,138.39 545.1,138.5 545.74,138.61 546.37,138.71 547.01,138.82 547.65,138.93 548.17,139.01 548.92,139.14 549.47,139.24 550.19,139.36 550.77,139.46 551.47,139.58 552.06,139.68 552.74,139.8 553.33,139.9 554.02,140.02 554.6,140.13 555.29,140.25 555.87,140.35 556.56,140.47 557.12,140.57 557.84,140.7 558.37,140.79 559.11,140.93 559.75,141.04 560.38,141.16 561.02,141.27 561.66,141.39 562.29,141.51 562.93,141.62 563.57,141.74 564.2,141.86 564.84,141.98 565.48,142.09 566.11,142.21 566.75,142.33 567.39,142.45 568.02,142.57 568.66,142.69 569.21,142.8 569.93,142.93 570.57,143.06 571.21,143.18 571.84,143.3 572.48,143.42 573.12,143.55 573.75,143.67 574.39,143.8 574.97,143.91 575.66,144.05 576.3,144.17 576.94,144.3 577.58,144.42 578.21,144.55 578.85,144.68 579.45,144.8 580.12,144.94 580.76,145.06 581.4,145.19 582.03,145.32 582.67,145.45 583.31,145.58 583.82,145.69 584.58,145.85 585.22,145.98 585.85,146.11 586.49,146.25 587.02,146.36 587.76,146.51 588.4,146.65 589.04,146.78 589.67,146.92 590.17,147.02 590.95,147.19 591.58,147.33 592.22,147.47 592.86,147.6 593.49,147.74 594.13,147.88 594.77,148.02 595.29,148.14 596.04,148.3 596.68,148.44 597.29,148.58 597.95,148.73 598.59,148.87 599.22,149.02 599.86,149.16 600.5,149.3 601.13,149.45 601.77,149.6 602.41,149.74 603.05,149.89 603.68,150.04 604.32,150.18 604.96,150.33 605.59,150.48 606.23,150.63 606.87,150.78 607.5,150.93 608.14,151.08 608.78,151.24 609.41,151.39 610.05,151.54 610.69,151.7 611.32,151.85 611.96,152.01 612.52,152.14 613.23,152.32 613.87,152.47 614.51,152.63 615.14,152.79 615.78,152.95 616.42,153.11 617,153.25 617.69,153.43 618.33,153.59 618.96,153.75 619.6,153.92 620.24,154.08 620.87,154.24 621.35,154.37 622.15,154.57 622.78,154.74 623.42,154.91 623.91,155.03 624.69,155.24 625.33,155.41 625.97,155.58 626.6,155.75 627.24,155.92 627.88,156.09 628.52,156.27 629.15,156.44 629.71,156.59 630.43,156.79 631.06,156.96 631.7,157.14 632.34,157.32 632.93,157.48 633.61,157.67 634.25,157.85 634.88,158.03 635.52,158.21 636.09,158.37 636.79,158.57 637.43,158.76 638.07,158.94 638.7,159.13 639.17,159.26 639.66,159.4 640.3,159.59 640.93,159.78 641.45,159.93 642.2,160.15 642.84,160.34 643.48,160.54 644.12,160.73 644.75,160.92 645.39,161.11 645.89,161.26 646.62,161.49 647.3,161.7 647.94,161.89 648.57,162.09 649.21,162.29 649.85,162.49 650.48,162.69 651.12,162.89 651.61,163.05 652.07,163.19 652.71,163.4 653.35,163.6 653.99,163.81 654.62,164.01 655.26,164.22 655.75,164.38 656.21,164.53 656.85,164.74 657.49,164.95 658.12,165.16 658.76,165.38 659.4,165.59 660.03,165.8 660.67,166.02 661.31,166.24 661.94,166.45 662.58,166.67 663.03,166.83 663.54,167 664.17,167.22 664.81,167.44 665.45,167.67 666.08,167.89 666.72,168.12 667.36,168.34 667.99,168.57 668.63,168.8 669.27,169.03 669.9,169.26 670.54,169.49 671.16,169.72 671.77,169.94 672.37,170.16 672.97,170.39 673.57,170.61 674.04,170.79 674.68,171.03 675.32,171.27 675.93,171.5 676.51,171.72 677.09,171.94 677.54,172.12 678.18,172.37Z" fill="#97BC5E" stroke="#97BC5E" stroke-width="0.4"/>
<path d="M678.18,152.61 678.5,152.14 678.5,151.47 678.5,150.81 678.5,150.14 678.5,149.47 678.5,148.81 678.5,148.14 678.5,147.47 678.5,146.8 678.5,146.13 678.5,145.47 678.5,144.8 678.5,144.13 678.5,143.46 678.5,142.8 678.5,142.13 678.5,141.46 678.5,140.79 678.5,140.13 678.5,139.46 678.5,138.79 678.5,138.12 678.5,137.46 678.5,136.79 678.5,136.12 678.5,135.45 678.5,134.79 678.5,134.12 678.5,133.45 678.5,132.78 678.5,132.12 678.5,131.45 678.5,130.78 678.5,130.12 678.5,129.45 678.5,128.78 678.5,128.11 678.5,127.44 678.5,126.78 678.5,126.11 678.5,125.44 678.5,124.77 678.5,124.11 678.5,123.44 678.5,122.77 678.5,122.1 678.5,121.44 678.5,120.77 678.5,120.1 678.5,119.43 678.5,118.77 678.5,118.1 678.5,117.43 678.5,116.76 678.5,116.1 678.5,115.43 678.5,114.76 678.5,114.09 678.5,113.43 678.5,112.76 678.5,112.09 678.5,111.43 678.5,110.76 678.5,110.09 678.5,109.42 678.5,108.75 678.5,108.09 678.5,107.42 678.5,106.75 678.5,106.08 678.5,105.42 678.5,104.75 678.5,104.08 678.5,103.41 678.5,102.75 678.5,102.08 678.5,101.41 678.5,100.74 678.5,100.08 678.5,99.41 678.5,98.74 678.5,98.07 678.5,97.41 678.5,96.74 678.5,96.07 678.5,95.4 678.5,94.74 678.5,94.07 678.5,93.4 678.5,92.73 678.5,92.07 678.5,91.4 678.5,90.73 678.5,90.06 678.5,89.4 678.5,88.73 678.5,88.06 678.5,87.4 678.5,86.73 678.5,86.06 678.5,85.39 678.5,84.72 678.18,84.19 677.54,84.21 676.91,84.24 676.27,84.27 675.63,84.29 675,84.32 674.36,84.35 673.72,84.37 673.09,84.4 672.45,84.43 671.81,84.45 671.18,84.48 670.54,84.51 669.9,84.54 669.27,84.56 668.63,84.59 667.99,84.62 667.36,84.65 666.72,84.68 666.08,84.7 665.45,84.73 664.81,84.76 664.17,84.79 663.54,84.82 662.9,84.85 662.26,84.88 661.63,84.91 660.99,84.94 660.35,84.97 659.72,85 659.08,85.03 658.44,85.06 657.81,85.09 657.17,85.12 656.53,85.15 655.9,85.18 655.26,85.21 654.62,85.24 653.99,85.28 653.35,85.31 652.71,85.34 652.07,85.37 651.44,85.4 650.8,85.44 650.16,85.47 649.53,85.5 648.89,85.53 648.25,85.57 647.62,85.6 646.98,85.63 646.34,85.67 645.71,85.7 645.07,85.74 644.43,85.77 643.8,85.8 643.18,85.84 642.52,85.87 641.89,85.91 641.25,85.94 640.61,85.98 639.98,86.01 639.34,86.05 638.7,86.09 638.07,86.12 637.43,86.16 636.79,86.2 636.16,86.23 635.52,86.27 634.88,86.31 634.25,86.34 633.61,86.38 632.97,86.42 632.34,86.46 631.7,86.5 631.06,86.54 630.43,86.57 629.79,86.61 629.15,86.65 628.52,86.69 627.88,86.73 627.24,86.77 626.6,86.81 625.97,86.85 625.33,86.89 624.69,86.94 624.06,86.98 623.42,87.02 622.78,87.06 622.15,87.1 621.51,87.14 620.87,87.19 620.24,87.23 619.6,87.27 618.96,87.32 618.33,87.36 617.69,87.4 617.05,87.45 616.42,87.49 615.78,87.54 615.14,87.58 614.51,87.63 613.87,87.68 613.23,87.72 612.6,87.77 611.96,87.81 611.32,87.86 610.69,87.91 610.05,87.96 609.41,88 608.78,88.05 608.14,88.1 607.5,88.15 606.87,88.2 606.23,88.25 605.59,88.3 604.96,88.35 604.32,88.4 603.68,88.45 603.05,88.5 602.41,88.55 601.77,88.61 601.13,88.66 600.5,88.71 599.86,88.76 599.22,88.82 598.59,88.87 597.95,88.92 597.31,88.98 596.68,89.03 596.04,89.09 595.4,89.15 594.77,89.2 594.13,89.26 593.49,89.32 592.86,89.37 592.22,89.43 591.58,89.49 590.95,89.55 590.31,89.61 589.67,89.67 589.04,89.73 588.4,89.79 587.82,89.84 587.13,89.91 586.49,89.97 585.85,90.03 585.22,90.1 584.58,90.16 583.94,90.22 583.31,90.29 582.67,90.35 582.03,90.42 581.4,90.48 580.76,90.55 580.12,90.62 579.49,90.68 578.85,90.75 578.21,90.82 577.58,90.89 576.98,90.95 576.3,91.03 575.66,91.1 575.03,91.17 574.39,91.24 573.75,91.32 573.12,91.39 572.48,91.46 571.84,91.54 571.21,91.61 570.57,91.69 569.93,91.76 569.3,91.84 568.66,91.92 568.02,92 567.44,92.07 566.75,92.15 566.11,92.23 565.48,92.31 564.84,92.4 564.2,92.48 563.57,92.56 562.93,92.64 562.29,92.73 561.66,92.81 561.02,92.9 560.38,92.99 559.75,93.07 559.11,93.16 558.47,93.25 557.84,93.34 557.2,93.43 556.56,93.52 555.93,93.62 555.29,93.71 554.65,93.8 554.02,93.9 553.38,93.99 552.74,94.09 552.11,94.19 551.47,94.29 550.83,94.39 550.19,94.49 549.56,94.59 548.92,94.69 548.28,94.8 547.65,94.9 547.01,95.01 546.37,95.11 545.74,95.22 545.1,95.33 544.46,95.44 543.83,95.55 543.19,95.66 542.55,95.78 541.92,95.89 541.28,96.01 540.64,96.12 540.01,96.24 539.37,96.36 538.73,96.48 538.1,96.6 537.46,96.73 536.82,96.85 536.26,96.96 535.55,97.11 534.91,97.23 534.28,97.36 533.64,97.5 533,97.63 532.37,97.76 531.73,97.9 531.09,98.04 530.46,98.18 529.91,98.3 529.18,98.46 528.55,98.6 527.94,98.74 527.27,98.9 526.64,99.05 526.04,99.19 525.36,99.35 524.72,99.5 524.2,99.63 523.45,99.82 522.81,99.98 522.18,100.14 521.56,100.3 520.9,100.47 520.27,100.64 519.63,100.81 519.05,100.97 518.36,101.16 517.72,101.34 517.08,101.52 516.45,101.7 515.89,101.86 515.17,102.07 514.54,102.26 513.9,102.45 513.26,102.64 512.63,102.84 511.99,103.04 511.5,103.19 511.03,103.34 510.4,103.55 509.76,103.76 509.12,103.97 508.49,104.19 507.85,104.4 507.21,104.63 506.58,104.85 505.94,105.08 505.3,105.31 504.67,105.54 504.03,105.78 503.39,106.03 502.76,106.27 502.12,106.52 501.53,106.75 500.98,106.97 500.53,107.16 499.9,107.42 499.37,107.64 498.94,107.83 498.33,108.09 497.82,108.31 497.34,108.52 496.81,108.75 496.39,108.95 495.84,109.2 495.36,109.42 494.88,109.65 494.42,109.87 493.95,110.09 493.52,110.3 493.05,110.53 492.6,110.76 492.16,110.98 491.73,111.2 491.3,111.43 490.87,111.65 490.45,111.87 490.04,112.09 489.63,112.31 489.22,112.54 488.82,112.76 488.43,112.98 488.03,113.21 487.64,113.43 487.26,113.65 486.88,113.87 486.2,114.28 485.77,114.54 485.25,114.86 484.69,115.21 484.29,115.46 483.65,115.87 483.02,116.29 482.64,116.54 482.06,116.93 481.66,117.21 481.11,117.6 480.71,117.88 481.11,118.17 481.74,118.23 482.38,118.3 483.02,118.36 483.65,118.42 484.29,118.49 484.88,118.54 485.56,118.61 486.2,118.68 486.84,118.74 487.48,118.81 488.11,118.87 488.75,118.94 489.39,119 490.02,119.07 490.66,119.13 491.3,119.2 491.93,119.26 492.57,119.33 493.21,119.4 493.84,119.46 494.48,119.53 495.12,119.59 495.71,119.66 496.39,119.73 497.03,119.8 497.66,119.86 498.3,119.93 498.94,120 499.57,120.07 500.21,120.14 500.85,120.2 501.48,120.27 502.12,120.34 502.76,120.41 503.39,120.48 504.01,120.55 504.67,120.62 505.3,120.69 505.94,120.76 506.58,120.83 507.21,120.9 507.85,120.97 508.49,121.04 509.12,121.11 509.76,121.19 510.4,121.26 511.03,121.33 511.67,121.4 512.31,121.47 512.95,121.55 513.58,121.62 514.22,121.69 514.86,121.77 515.49,121.84 516.13,121.91 516.77,121.99 517.4,122.06 518.04,122.13 518.68,122.21 519.31,122.28 519.95,122.36 520.59,122.43 521.22,122.51 521.86,122.59 522.5,122.66 523.13,122.74 523.77,122.81 524.41,122.89 525.04,122.97 525.68,123.04 526.32,123.12 526.95,123.2 527.59,123.28 528.23,123.36 528.86,123.43 529.5,123.51 530.14,123.59 530.71,123.66 531.41,123.75 532.05,123.83 532.68,123.91 533.32,123.99 533.96,124.07 534.59,124.15 535.23,124.23 535.87,124.31 536.5,124.39 537.14,124.48 537.74,124.55 538.41,124.64 539.05,124.72 539.69,124.8 540.33,124.89 540.96,124.97 541.6,125.05 542.24,125.14 542.86,125.22 543.51,125.31 544.15,125.39 544.78,125.48 545.42,125.56 546.06,125.65 546.69,125.73 547.33,125.82 547.97,125.9 548.6,125.99 549.24,126.08 549.88,126.17 550.51,126.25 551.09,126.33 551.79,126.43 552.42,126.52 553.06,126.61 553.7,126.69 554.29,126.78 554.97,126.87 555.61,126.96 556.24,127.05 556.88,127.14 557.43,127.22 558.15,127.33 558.79,127.42 559.43,127.51 560.06,127.6 560.7,127.69 561.34,127.79 561.97,127.88 562.61,127.97 563.25,128.07 563.88,128.16 564.52,128.25 565.07,128.33 565.8,128.44 566.43,128.54 567.07,128.63 567.71,128.73 568.34,128.83 568.98,128.92 569.51,129 570.25,129.12 570.89,129.21 571.53,129.31 572.16,129.41 572.8,129.51 573.44,129.61 574.07,129.71 574.71,129.81 575.26,129.89 575.98,130.01 576.62,130.11 577.26,130.21 577.89,130.31 578.53,130.41 579.17,130.51 579.8,130.62 580.44,130.72 581.08,130.82 581.71,130.93 582.35,131.03 582.99,131.14 583.55,131.23 584.26,131.35 584.89,131.45 585.53,131.56 586.17,131.66 586.81,131.77 587.44,131.88 588.08,131.98 588.72,132.09 589.36,132.2 589.99,132.31 590.63,132.42 591.27,132.53 591.9,132.64 592.54,132.75 593.18,132.86 593.81,132.97 594.45,133.08 595.09,133.19 595.72,133.31 596.36,133.42 597,133.53 597.63,133.65 598.27,133.76 598.91,133.88 599.54,133.99 600.18,134.11 600.82,134.22 601.45,134.34 602.09,134.45 602.69,134.56 603.36,134.69 603.89,134.79 604.64,134.93 605.27,135.05 605.91,135.17 606.55,135.29 607.18,135.41 607.82,135.53 608.46,135.65 609.09,135.77 609.73,135.89 610.37,136.02 610.92,136.12 611.64,136.26 612.28,136.39 612.91,136.51 613.55,136.64 614.19,136.76 614.83,136.89 615.45,137.01 616.1,137.14 616.74,137.27 617.37,137.4 618.01,137.53 618.65,137.66 619.28,137.79 619.84,137.9 620.56,138.05 621.19,138.18 621.83,138.31 622.47,138.45 623.06,138.57 623.74,138.71 624.38,138.85 625.01,138.98 625.65,139.12 626.22,139.24 626.92,139.39 627.56,139.53 628.2,139.66 628.83,139.8 629.47,139.94 630.11,140.08 630.74,140.22 631.33,140.35 632.02,140.5 632.65,140.64 633.29,140.79 633.93,140.93 634.56,141.07 635.2,141.22 635.84,141.36 636.47,141.51 637.11,141.65 637.75,141.8 638.38,141.95 639.02,142.09 639.66,142.24 640.29,142.39 640.93,142.54 641.57,142.69 642.21,142.84 642.84,143 643.48,143.15 644.12,143.3 644.75,143.46 645.39,143.61 646.03,143.77 646.62,143.91 647.3,144.08 647.94,144.23 648.42,144.35 649.21,144.55 649.85,144.71 650.48,144.87 651.08,145.02 651.76,145.19 652.39,145.36 653.03,145.52 653.67,145.68 654.3,145.85 654.94,146.01 655.58,146.18 656.21,146.35 656.85,146.51 657.49,146.68 658.12,146.85 658.76,147.02 659.4,147.19 660.03,147.36 660.67,147.54 661.25,147.69 661.94,147.88 662.58,148.06 663.22,148.23 663.85,148.41 664.48,148.58 665.13,148.76 665.76,148.94 666.4,149.12 667.04,149.3 667.63,149.47 668.31,149.67 668.95,149.85 669.59,150.04 670.22,150.22 670.71,150.36 671.18,150.5 671.81,150.69 672.45,150.88 672.97,151.03 673.72,151.25 674.36,151.45 675,151.64 675.63,151.83 676.27,152.02 676.91,152.22 677.38,152.37 677.86,152.51Z" fill="#C5B945" stroke="#C5B945" stroke-width="0.4"/>
<path d="M677.86,132.79 678.5,132.93 678.5,132.12 678.5,131.45 678.5,130.78 678.5,130.12 678.5,129.45 678.5,128.78 678.5,128.11 678.5,127.44 678.5,126.78 678.5,126.11 678.5,125.44 678.5,124.77 678.5,124.11 678.5,123.44 678.5,122.77 678.5,122.1 678.5,121.44 678.5,120.77 678.5,120.1 678.5,119.43 678.5,118.77 678.5,118.1 678.5,117.43 678.5,116.76 678.5,116.1 678.5,115.43 678.5,114.76 678.5,114.09 678.5,113.43 678.5,112.76 678.5,112.09 678.5,111.43 678.5,110.76 678.5,110.09 678.5,109.42 678.5,108.75 678.5,108.09 678.5,107.42 678.5,106.75 678.5,106.08 678.5,105.42 678.5,104.75 678.5,104.08 678.5,103.41 678.5,102.75 678.5,102.08 678.5,101.41 678.5,100.74 678.5,100.08 678.5,99.41 678.5,98.74 678.5,98.07 678.5,97.41 678.5,96.74 678.5,96.07 678.5,95.4 678.5,94.74 678.5,94.07 678.5,93.4 678.5,92.73 678.5,92.07 678.5,91.4 678.5,90.73 678.5,90.06 678.5,89.4 678.5,88.73 678.5,88.06 678.5,87.4 678.5,86.73 678.5,86.06 677.86,85.97 677.23,86 676.59,86.03 675.95,86.06 675.32,86.09 674.68,86.12 674.04,86.15 673.41,86.18 672.77,86.21 672.13,86.25 671.5,86.28 670.86,86.31 670.22,86.34 669.59,86.37 668.95,86.41 668.31,86.44 667.68,86.47 667.06,86.5 666.4,86.54 665.77,86.57 665.13,86.61 664.49,86.64 663.85,86.67 663.22,86.71 662.58,86.74 661.94,86.78 661.31,86.81 660.67,86.85 660.03,86.88 659.4,86.92 658.78,86.95 658.12,86.99 657.49,87.02 656.85,87.06 656.21,87.09 655.58,87.13 654.94,87.17 654.3,87.2 653.67,87.24 653.03,87.28 652.39,87.31 651.76,87.35 651.12,87.39 650.48,87.43 649.85,87.47 649.21,87.5 648.57,87.54 647.94,87.58 647.34,87.62 646.66,87.66 646.03,87.7 645.39,87.74 644.75,87.78 644.12,87.82 643.48,87.86 642.84,87.9 642.21,87.94 641.57,87.98 640.93,88.02 640.3,88.06 639.66,88.1 639.02,88.15 638.38,88.19 637.75,88.23 637.11,88.27 636.47,88.32 635.84,88.36 635.2,88.4 634.56,88.45 633.93,88.49 633.29,88.54 632.65,88.58 632.02,88.62 631.38,88.67 630.74,88.71 630.11,88.76 629.47,88.81 628.83,88.85 628.2,88.9 627.56,88.94 626.92,88.99 626.29,89.04 625.65,89.09 625.01,89.13 624.38,89.18 623.74,89.23 623.1,89.28 622.47,89.33 621.83,89.38 621.19,89.43 620.56,89.48 619.92,89.53 619.28,89.58 618.65,89.63 618.01,89.68 617.37,89.73 616.74,89.78 616.1,89.84 615.46,89.89 614.83,89.94 614.19,89.99 613.55,90.05 612.91,90.1 612.28,90.16 611.64,90.21 611,90.27 610.37,90.32 609.73,90.38 609.09,90.43 608.46,90.49 607.82,90.55 607.18,90.6 606.55,90.66 605.91,90.72 605.27,90.78 604.64,90.84 604,90.9 603.36,90.95 602.73,91.02 602.09,91.08 601.45,91.14 600.82,91.2 600.18,91.26 599.54,91.32 598.91,91.38 598.27,91.45 597.63,91.51 597,91.57 596.36,91.64 595.72,91.7 595.09,91.77 594.45,91.84 593.81,91.9 593.18,91.97 592.54,92.04 591.9,92.1 591.27,92.17 590.63,92.24 589.99,92.31 589.36,92.38 588.72,92.45 588.15,92.51 587.44,92.59 586.81,92.66 586.18,92.73 585.53,92.81 584.9,92.88 584.26,92.96 583.62,93.03 582.99,93.11 582.37,93.18 581.71,93.26 581.08,93.34 580.53,93.4 579.8,93.49 579.17,93.57 578.53,93.65 577.89,93.73 577.26,93.81 576.62,93.89 575.98,93.98 575.35,94.06 574.71,94.14 574.07,94.23 573.44,94.31 572.8,94.4 572.16,94.48 571.53,94.57 570.89,94.66 570.31,94.74 569.62,94.83 568.98,94.92 568.34,95.02 567.71,95.11 567.07,95.2 566.43,95.29 565.8,95.39 565.16,95.48 564.52,95.58 563.88,95.67 563.25,95.77 562.73,95.85 561.97,95.97 561.34,96.07 560.7,96.17 560.06,96.27 559.43,96.37 558.79,96.47 558.15,96.58 557.52,96.68 556.88,96.79 556.24,96.9 555.61,97.01 554.97,97.12 554.33,97.23 553.7,97.34 553.06,97.45 552.42,97.56 551.79,97.68 551.15,97.79 550.51,97.91 549.88,98.03 549.24,98.15 548.6,98.27 547.97,98.39 547.33,98.51 546.69,98.64 546.15,98.74 545.42,98.89 544.78,99.02 544.15,99.14 543.51,99.27 542.87,99.41 542.24,99.54 541.6,99.67 540.96,99.81 540.33,99.95 539.72,100.08 539.05,100.23 538.41,100.37 537.78,100.51 537.14,100.65 536.5,100.8 535.87,100.95 535.23,101.1 534.59,101.25 533.96,101.4 533.32,101.56 532.68,101.71 532.1,101.86 531.41,102.03 530.77,102.19 530.14,102.35 529.5,102.52 528.86,102.69 528.23,102.86 527.59,103.03 526.98,103.19 526.32,103.37 525.68,103.55 525.04,103.73 524.41,103.91 523.82,104.08 523.13,104.28 522.5,104.47 521.86,104.66 521.22,104.85 520.59,105.05 520.11,105.19 519.63,105.35 518.99,105.55 518.36,105.75 517.72,105.96 517.08,106.17 516.45,106.38 515.81,106.59 515.35,106.75 514.86,106.92 514.22,107.14 513.58,107.37 512.95,107.6 512.31,107.83 511.67,108.06 511.03,108.3 510.42,108.53 509.84,108.75 509.27,108.98 508.81,109.2 509.44,109.26 510.08,109.32 510.72,109.37 511.34,109.42 511.99,109.48 512.63,109.53 513.26,109.59 513.9,109.64 514.54,109.7 515.17,109.75 515.81,109.81 516.45,109.86 517.08,109.92 517.72,109.97 518.36,110.03 518.99,110.08 519.63,110.14 520.27,110.2 520.9,110.25 521.54,110.31 522.18,110.37 522.81,110.42 523.45,110.48 524.04,110.54 524.72,110.6 525.36,110.65 526,110.71 526.64,110.77 527.27,110.83 527.91,110.89 528.55,110.95 529.18,111 529.82,111.06 530.46,111.12 531.09,111.18 531.73,111.24 532.37,111.3 533,111.36 533.64,111.42 534.28,111.48 534.91,111.54 535.55,111.6 536.19,111.66 536.82,111.73 537.46,111.79 538.1,111.85 538.73,111.91 539.37,111.97 540.01,112.03 540.6,112.09 541.28,112.16 541.92,112.22 542.55,112.29 543.19,112.35 543.83,112.41 544.46,112.48 545.09,112.54 545.74,112.6 546.37,112.67 547.01,112.73 547.65,112.8 548.28,112.86 548.92,112.93 549.47,112.98 550.19,113.06 550.83,113.12 551.47,113.19 552.11,113.25 552.74,113.32 553.38,113.39 554.02,113.45 554.65,113.52 555.29,113.59 555.87,113.65 556.56,113.72 557.2,113.79 557.84,113.86 558.47,113.93 559.11,114 559.75,114.07 560.38,114.14 561.02,114.2 561.66,114.27 562.29,114.34 562.93,114.41 563.57,114.48 564.2,114.55 564.84,114.63 565.48,114.7 566.06,114.76 566.75,114.84 567.39,114.91 568.02,114.98 568.66,115.06 569.3,115.13 569.93,115.2 570.57,115.27 571.21,115.35 571.84,115.42 572.48,115.49 573.12,115.57 573.75,115.64 574.39,115.72 575.03,115.79 575.66,115.87 576.3,115.94 576.94,116.02 577.58,116.09 578.21,116.17 578.85,116.25 579.45,116.32 580.12,116.4 580.76,116.48 581.4,116.56 582.03,116.63 582.67,116.71 583.31,116.79 583.94,116.87 584.58,116.95 585.22,117.03 585.85,117.11 586.49,117.19 587.13,117.27 587.76,117.35 588.4,117.43 589.04,117.51 589.67,117.59 590.31,117.67 590.95,117.76 591.58,117.84 592.22,117.92 592.86,118 593.49,118.09 594.13,118.17 594.77,118.25 595.4,118.34 596.04,118.42 596.68,118.51 597.31,118.59 597.95,118.68 598.59,118.76 599.22,118.85 599.86,118.94 600.5,119.02 601.13,119.11 601.77,119.2 602.41,119.28 603.05,119.37 603.68,119.46 604.32,119.55 604.96,119.64 605.59,119.73 606.23,119.82 606.87,119.91 607.5,120 608.14,120.09 608.78,120.18 609.41,120.27 610.05,120.37 610.69,120.46 611.3,120.55 611.96,120.64 612.6,120.74 613.23,120.83 613.87,120.92 614.51,121.02 615.14,121.11 615.78,121.21 616.42,121.31 617.05,121.4 617.69,121.5 618.33,121.59 618.96,121.69 619.6,121.79 620.2,121.88 620.87,121.99 621.51,122.08 622.15,122.18 622.78,122.28 623.42,122.38 624.06,122.48 624.69,122.59 625.33,122.69 625.87,122.77 626.6,122.89 627.24,122.99 627.88,123.1 628.52,123.2 629.15,123.3 629.79,123.41 630.43,123.51 631.06,123.62 631.7,123.72 632.34,123.83 632.97,123.94 633.61,124.04 634.25,124.15 634.88,124.26 635.52,124.37 636.16,124.48 636.79,124.58 637.43,124.69 638.07,124.8 638.7,124.92 639.34,125.03 639.98,125.14 640.61,125.25 641.25,125.36 641.89,125.48 642.52,125.59 643.16,125.7 643.8,125.82 644.43,125.93 645.07,126.05 645.71,126.17 646.34,126.28 646.98,126.4 647.62,126.52 648.25,126.64 648.89,126.75 649.53,126.87 650.16,126.99 650.8,127.11 651.37,127.22 652.07,127.36 652.71,127.48 653.35,127.6 653.99,127.72 654.62,127.85 655.26,127.97 655.9,128.1 656.53,128.22 657.1,128.33 657.81,128.47 658.44,128.6 659.08,128.73 659.72,128.86 660.35,128.99 660.99,129.12 661.52,129.22 662.26,129.38 662.9,129.51 663.54,129.64 664.17,129.77 664.74,129.89 665.45,130.04 666.08,130.18 666.72,130.31 667.36,130.45 667.89,130.56 668.63,130.72 669.27,130.86 669.9,131 670.54,131.14 671.18,131.28 671.81,131.42 672.45,131.56 672.97,131.67 673.72,131.84 674.36,131.98 674.95,132.12 675.63,132.27 676.27,132.42 676.9,132.56 677.54,132.71Z" fill="#E79C38" stroke="#E79C38" stroke-width="0.4"/>
<path d="M677.54,113.01 678.18,113.11 678.5,112.76 678.5,112.09 678.5,111.43 678.5,110.76 678.5,110.09 678.5,109.42 678.5,108.75 678.5,108.09 678.5,107.42 678.5,106.75 678.5,106.08 678.5,105.42 678.5,104.75 678.5,104.08 678.5,103.41 678.5,102.75 678.5,102.08 678.5,101.41 678.5,100.74 678.5,100.08 678.5,99.41 678.5,98.74 678.5,98.07 678.5,97.41 678.5,96.74 678.5,96.07 678.5,95.4 678.5,94.74 678.5,94.07 678.5,93.4 678.5,92.73 678.5,92.07 678.5,91.4 678.5,90.73 678.5,90.06 678.5,89.4 678.5,88.73 678.5,88.06 678.18,87.72 677.54,87.75 676.91,87.79 676.27,87.82 675.63,87.86 675,87.89 674.36,87.93 673.72,87.96 673.09,88 672.45,88.04 671.81,88.07 671.18,88.11 670.54,88.14 669.9,88.18 669.27,88.22 668.63,88.26 667.99,88.29 667.36,88.33 666.72,88.37 666.08,88.41 665.45,88.44 664.81,88.48 664.17,88.52 663.54,88.56 662.9,88.6 662.26,88.64 661.63,88.68 660.99,88.72 660.35,88.76 659.72,88.8 659.08,88.84 658.44,88.88 657.81,88.92 657.17,88.96 656.53,89 655.9,89.04 655.26,89.08 654.62,89.13 653.99,89.17 653.35,89.21 652.71,89.25 652.07,89.3 651.44,89.34 650.8,89.38 650.16,89.42 649.53,89.47 648.89,89.51 648.25,89.56 647.62,89.6 646.98,89.65 646.34,89.69 645.71,89.74 645.07,89.78 644.43,89.83 643.8,89.87 643.16,89.92 642.52,89.96 641.89,90.01 641.25,90.06 640.61,90.11 639.98,90.15 639.34,90.2 638.7,90.25 638.07,90.3 637.43,90.35 636.79,90.39 636.16,90.44 635.52,90.49 634.88,90.54 634.25,90.59 633.61,90.64 632.97,90.69 632.34,90.75 631.7,90.8 631.06,90.85 630.43,90.9 629.79,90.95 629.15,91 628.52,91.06 627.88,91.11 627.24,91.16 626.6,91.22 625.97,91.27 625.33,91.33 624.69,91.38 624.06,91.44 623.42,91.49 622.78,91.55 622.15,91.6 621.51,91.66 620.87,91.72 620.24,91.77 619.6,91.83 618.96,91.89 618.33,91.95 617.69,92.01 617.05,92.07 616.42,92.13 615.78,92.18 615.14,92.25 614.51,92.31 613.87,92.37 613.23,92.43 612.6,92.49 611.96,92.55 611.32,92.61 610.69,92.68 610.11,92.73 609.41,92.81 608.78,92.87 608.14,92.93 607.5,93 606.87,93.07 606.23,93.13 605.59,93.2 604.96,93.26 604.32,93.33 603.68,93.4 603.05,93.47 602.41,93.54 601.77,93.61 601.13,93.68 600.5,93.75 599.86,93.82 599.22,93.89 598.59,93.96 597.95,94.03 597.31,94.11 596.68,94.18 596.04,94.25 595.4,94.33 594.77,94.4 594.13,94.48 593.49,94.55 592.86,94.63 592.22,94.71 591.58,94.79 590.95,94.86 590.31,94.94 589.67,95.02 589.04,95.1 588.4,95.18 587.76,95.26 587.13,95.35 586.49,95.43 585.85,95.51 585.22,95.6 584.58,95.68 583.94,95.76 583.31,95.85 582.67,95.94 582.03,96.02 581.4,96.11 580.76,96.2 580.12,96.29 579.49,96.38 578.85,96.47 578.21,96.56 577.58,96.65 576.98,96.74 576.3,96.84 575.66,96.93 575.03,97.03 574.39,97.12 573.75,97.22 573.12,97.32 572.54,97.41 571.84,97.52 571.21,97.62 570.57,97.72 569.93,97.82 569.3,97.92 568.66,98.02 568.02,98.13 567.39,98.23 566.75,98.34 566.11,98.44 565.48,98.55 564.84,98.66 564.2,98.77 563.57,98.88 562.93,98.99 562.29,99.11 561.66,99.22 561.02,99.33 560.38,99.45 559.75,99.57 559.11,99.69 558.47,99.8 557.84,99.95 557.2,100.04 556.56,100.27 555.93,100.3 556.56,100.35 557.2,100.39 557.84,100.44 558.47,100.49 559.11,100.53 559.75,100.58 560.38,100.62 561.02,100.67 561.66,100.72 562.29,100.76 562.93,100.81 563.57,100.86 564.2,100.9 564.84,100.95 565.48,101 566.11,101.05 566.75,101.09 567.39,101.14 568.02,101.19 568.66,101.24 569.3,101.29 569.93,101.33 570.57,101.38 571.21,101.43 571.84,101.48 572.48,101.53 573.12,101.58 573.75,101.63 574.39,101.68 575.03,101.73 575.66,101.78 576.3,101.83 576.94,101.88 577.58,101.93 578.21,101.98 578.85,102.03 579.45,102.08 580.12,102.13 580.76,102.19 581.4,102.24 582.03,102.29 582.67,102.34 583.31,102.39 583.94,102.45 584.58,102.5 585.22,102.55 585.85,102.6 586.49,102.66 587.13,102.71 587.76,102.77 588.4,102.82 589.04,102.87 589.67,102.93 590.31,102.98 590.95,103.04 591.58,103.09 592.22,103.15 592.86,103.2 593.49,103.26 594.13,103.31 594.77,103.37 595.4,103.43 596.04,103.48 596.68,103.54 597.31,103.59 597.95,103.65 598.59,103.71 599.22,103.77 599.86,103.82 600.5,103.88 601.13,103.94 601.77,104 602.41,104.06 603.05,104.12 603.68,104.17 604.32,104.23 604.96,104.29 605.59,104.35 606.23,104.41 606.87,104.47 607.44,104.53 608.14,104.59 608.78,104.65 609.41,104.72 610.05,104.78 610.69,104.84 611.32,104.9 611.96,104.96 612.6,105.02 613.23,105.09 613.87,105.15 614.51,105.21 615.14,105.28 615.78,105.34 616.42,105.4 617.05,105.47 617.69,105.53 618.33,105.6 618.96,105.66 619.6,105.73 620.24,105.79 620.87,105.86 621.51,105.92 622.15,105.99 622.78,106.06 623.42,106.12 624.06,106.19 624.69,106.26 625.33,106.32 625.97,106.39 626.6,106.46 627.24,106.53 627.88,106.6 628.52,106.67 629.15,106.74 629.79,106.81 630.43,106.87 631.06,106.95 631.7,107.02 632.34,107.09 632.97,107.16 633.61,107.23 634.25,107.3 634.88,107.37 635.52,107.44 636.16,107.52 636.79,107.59 637.43,107.66 638.07,107.74 638.7,107.81 639.34,107.88 639.98,107.96 640.61,108.03 641.25,108.11 641.89,108.18 642.52,108.26 643.16,108.34 643.8,108.41 644.43,108.49 645.07,108.57 645.71,108.64 646.34,108.72 646.98,108.8 647.62,108.88 648.25,108.96 648.89,109.04 649.53,109.12 650.16,109.2 650.8,109.28 651.44,109.36 652.07,109.44 652.71,109.52 653.35,109.6 653.99,109.68 654.62,109.77 655.26,109.85 655.9,109.93 656.53,110.01 657.1,110.09 657.81,110.18 658.44,110.27 659.08,110.35 659.72,110.44 660.35,110.52 660.99,110.61 661.63,110.7 662.26,110.79 662.9,110.87 663.54,110.96 664.17,111.05 664.81,111.14 665.45,111.23 666.08,111.32 666.72,111.41 667.36,111.5 667.99,111.59 668.63,111.68 669.27,111.77 669.9,111.86 670.54,111.96 671.18,112.05 671.81,112.14 672.45,112.24 673.09,112.33 673.72,112.43 674.36,112.52 675,112.62 675.63,112.72 676.27,112.81 676.91,112.91 677.54,113.01Z" fill="#E55E2B" stroke="#E55E2B" stroke-width="0.4"/>
<path d="M675.95,93.18 676.59,93.23 677.23,93.28 677.86,93.33 678.5,93.38 678.5,92.73 678.5,92.07 678.5,91.4 678.5,90.73 678.5,90.06 678.5,89.46 677.86,89.5 677.23,89.54 676.59,89.58 675.95,89.62 675.32,89.66 674.68,89.7 674.04,89.74 673.41,89.78 672.77,89.82 672.13,89.86 671.5,89.9 670.86,89.94 670.22,89.98 669.59,90.02 668.97,90.06 668.31,90.11 667.68,90.15 667.04,90.19 666.4,90.24 665.76,90.28 665.13,90.32 664.49,90.37 663.85,90.41 663.22,90.45 662.58,90.5 661.94,90.55 661.31,90.59 660.67,90.63 660.03,90.67 659.4,90.72 658.76,90.79 658.12,90.83 657.49,90.86 656.85,90.9 656.21,90.95 655.58,91.04 654.94,91.09 654.3,91.12 653.67,91.14 653.03,91.24 652.39,91.35 651.76,91.38 651.12,91.39 650.48,91.4 651.12,91.46 651.76,91.5 652.39,91.54 653.03,91.58 653.67,91.62 654.3,91.66 654.94,91.7 655.58,91.74 656.21,91.79 656.85,91.83 657.49,91.87 658.12,91.91 658.76,91.96 659.4,92 660.03,92.04 660.67,92.08 661.31,92.13 661.94,92.17 662.58,92.21 663.22,92.26 663.85,92.3 664.49,92.35 665.13,92.39 665.76,92.44 666.4,92.48 667.04,92.53 667.68,92.57 668.31,92.62 668.95,92.66 669.59,92.71 670.22,92.76 670.86,92.8 671.5,92.85 672.13,92.9 672.77,92.94 673.41,92.99 674.04,93.04 674.68,93.09 675.32,93.13 675.93,93.18Z" fill="#DB2122" stroke="#DB2122" stroke-width="0.4"/>
<line x1="423.8" x2="678.5" y1="127" y2="127" stroke="#fff" stroke-width="3.2" stroke-dasharray="10.6 4.7" stroke-dashoffset="1.1"/>
<line x1="423.8" x2="678.5" y1="180.4" y2="180.4" stroke="#fff" stroke-width="3.2" stroke-dasharray="10.6 4.7" stroke-dashoffset="1.1"/>
<line x1="423.8" x2="678.5" y1="233.8" y2="233.8" stroke="#fff" stroke-width="3.2" stroke-dasharray="10.6 4.7" stroke-dashoffset="1.1"/>
<path d="M423.8,162.6 L424.65,161.28 L425.5,160.01 L426.35,158.77 L427.2,157.56 L428.05,156.39 L428.89,155.25 L429.74,154.14 L430.59,153.06 L431.44,152.01 L432.29,150.99 L433.14,149.99 L433.99,149.02 L434.84,148.08 L435.69,147.15 L436.54,146.25 L437.38,145.37 L438.23,144.52 L439.08,143.68 L439.93,142.86 L440.78,142.06 L441.63,141.28 L442.48,140.52 L443.33,139.77 L444.18,139.04 L445.03,138.33 L445.87,137.63 L446.72,136.95 L447.57,136.28 L448.42,135.62 L449.27,134.98 L450.12,134.35 L450.97,133.74 L451.82,133.13 L452.67,132.54 L453.51,131.96 L454.36,131.39 L455.21,130.83 L456.06,130.29 L456.91,129.75 L457.76,129.22 L458.61,128.71 L459.46,128.2 L460.31,127.7 L461.16,127.21 L462,126.73 L462.85,126.26 L463.7,125.8 L464.55,125.34 L465.4,124.9 L466.25,124.46 L467.1,124.02 L467.95,123.6 L468.8,123.18 L469.65,122.77 L470.5,122.37 L471.34,121.97 L472.19,121.58 L473.04,121.19 L473.89,120.81 L474.74,120.44 L475.59,120.08 L476.44,119.71 L477.29,119.36 L478.14,119.01 L478.99,118.66 L479.83,118.32 L480.68,117.99 L481.53,117.66 L482.38,117.33 L483.23,117.01 L484.08,116.7 L484.93,116.39 L485.78,116.08 L486.63,115.78 L487.48,115.48 L488.32,115.19 L489.17,114.9 L490.02,114.61 L490.87,114.33 L491.72,114.05 L492.57,113.78 L493.42,113.51 L494.27,113.24 L495.12,112.98 L495.97,112.72 L496.81,112.46 L497.66,112.21 L498.51,111.96 L499.36,111.72 L500.21,111.47 L501.06,111.23 L501.91,110.99 L502.76,110.76 L503.61,110.53 L504.46,110.3 L505.3,110.08 L506.15,109.85 L507,109.63 L507.85,109.41 L508.7,109.2 L509.55,108.99 L510.4,108.78 L511.25,108.57 L512.1,108.37 L512.95,108.16 L513.79,107.96 L514.64,107.77 L515.49,107.57 L516.34,107.38 L517.19,107.18 L518.04,107 L518.89,106.81 L519.74,106.62 L520.59,106.44 L521.44,106.26 L522.28,106.08 L523.13,105.9 L523.98,105.73 L524.83,105.56 L525.68,105.39 L526.53,105.22 L527.38,105.05 L528.23,104.88 L529.08,104.72 L529.92,104.56 L530.77,104.4 L531.62,104.24 L532.47,104.08 L533.32,103.92 L534.17,103.77 L535.02,103.62 L535.87,103.47 L536.72,103.32 L537.57,103.17 L538.41,103.02 L539.26,102.88 L540.11,102.73 L540.96,102.59 L541.81,102.45 L542.66,102.31 L543.51,102.17 L544.36,102.03 L545.21,101.9 L546.06,101.76 L546.9,101.63 L547.75,101.5 L548.6,101.37 L549.45,101.24 L550.3,101.11 L551.15,100.98 L552,100.86 L552.85,100.73 L553.7,100.61 L554.55,100.49 L555.39,100.37 L556.24,100.25 L557.09,100.13 L557.94,100.01 L558.79,99.89 L559.64,99.78 L560.49,99.66 L561.34,99.55 L562.19,99.43 L563.04,99.32 L563.88,99.21 L564.73,99.1 L565.58,98.99 L566.43,98.88 L567.28,98.78 L568.13,98.67 L568.98,98.56 L569.83,98.46 L570.68,98.36 L571.53,98.25 L572.38,98.15 L573.22,98.05 L574.07,97.95 L574.92,97.85 L575.77,97.75 L576.62,97.65 L577.47,97.56 L578.32,97.46 L579.17,97.37 L580.02,97.27 L580.87,97.18 L581.71,97.08 L582.56,96.99 L583.41,96.9 L584.26,96.81 L585.11,96.72 L585.96,96.63 L586.81,96.54 L587.66,96.45 L588.51,96.36 L589.36,96.28 L590.2,96.19 L591.05,96.1 L591.9,96.02 L592.75,95.93 L593.6,95.85 L594.45,95.77 L595.3,95.68 L596.15,95.6 L597,95.52 L597.85,95.44 L598.69,95.36 L599.54,95.28 L600.39,95.2 L601.24,95.12 L602.09,95.05 L602.94,94.97 L603.79,94.89 L604.64,94.82 L605.49,94.74 L606.34,94.67 L607.18,94.59 L608.03,94.52 L608.88,94.44 L609.73,94.37 L610.58,94.3 L611.43,94.23 L612.28,94.15 L613.13,94.08 L613.98,94.01 L614.83,93.94 L615.67,93.87 L616.52,93.8 L617.37,93.74 L618.22,93.67 L619.07,93.6 L619.92,93.53 L620.77,93.47 L621.62,93.4 L622.47,93.33 L623.32,93.27 L624.16,93.2 L625.01,93.14 L625.86,93.07 L626.71,93.01 L627.56,92.95 L628.41,92.88 L629.26,92.82 L630.11,92.76 L630.96,92.7 L631.81,92.64 L632.65,92.58 L633.5,92.52 L634.35,92.46 L635.2,92.4 L636.05,92.34 L636.9,92.28 L637.75,92.22 L638.6,92.16 L639.45,92.1 L640.3,92.05 L641.14,91.99 L641.99,91.93 L642.84,91.88 L643.69,91.82 L644.54,91.76 L645.39,91.71 L646.24,91.65 L647.09,91.6 L647.94,91.54 L648.79,91.49 L649.63,91.44 L650.48,91.38 L651.33,91.33 L652.18,91.28 L653.03,91.22 L653.88,91.17 L654.73,91.12 L655.58,91.07 L656.43,91.02 L657.27,90.97 L658.12,90.92 L658.97,90.86 L659.82,90.81 L660.67,90.76 L661.52,90.72 L662.37,90.67 L663.22,90.62 L664.07,90.57 L664.92,90.52 L665.76,90.47 L666.61,90.42 L667.46,90.38 L668.31,90.33 L669.16,90.28 L670.01,90.24 L670.86,90.19 L671.71,90.14 L672.56,90.1 L673.41,90.05 L674.25,90.01 L675.1,89.96 L675.95,89.92 L676.8,89.87 L677.65,89.83 L678.5,89.78" fill="none" stroke="#000" stroke-width="3.4" stroke-dasharray="10.7 4.6"/>
<path d="M423.8,162.6 L424.65,162.75 L425.5,162.9 L426.35,163.05 L427.2,163.2 L428.05,163.35 L428.89,163.5 L429.74,163.65 L430.59,163.8 L431.44,163.96 L432.29,164.11 L433.14,164.26 L433.99,164.42 L434.84,164.57 L435.69,164.73 L436.54,164.88 L437.38,165.04 L438.23,165.2 L439.08,165.35 L439.93,165.51 L440.78,165.67 L441.63,165.83 L442.48,165.99 L443.33,166.15 L444.18,166.31 L445.03,166.47 L445.87,166.63 L446.72,166.79 L447.57,166.96 L448.42,167.12 L449.27,167.28 L450.12,167.45 L450.97,167.61 L451.82,167.78 L452.67,167.95 L453.51,168.11 L454.36,168.28 L455.21,168.45 L456.06,168.62 L456.91,168.79 L457.76,168.96 L458.61,169.13 L459.46,169.3 L460.31,169.47 L461.16,169.64 L462,169.82 L462.85,169.99 L463.7,170.16 L464.55,170.34 L465.4,170.51 L466.25,170.69 L467.1,170.87 L467.95,171.05 L468.8,171.22 L469.65,171.4 L470.5,171.58 L471.34,171.76 L472.19,171.94 L473.04,172.12 L473.89,172.31 L474.74,172.49 L475.59,172.67 L476.44,172.86 L477.29,173.04 L478.14,173.23 L478.99,173.41 L479.83,173.6 L480.68,173.79 L481.53,173.98 L482.38,174.16 L483.23,174.35 L484.08,174.55 L484.93,174.74 L485.78,174.93 L486.63,175.12 L487.48,175.31 L488.32,175.51 L489.17,175.7 L490.02,175.9 L490.87,176.1 L491.72,176.29 L492.57,176.49 L493.42,176.69 L494.27,176.89 L495.12,177.09 L495.97,177.29 L496.81,177.49 L497.66,177.69 L498.51,177.9 L499.36,178.1 L500.21,178.31 L501.06,178.51 L501.91,178.72 L502.76,178.93 L503.61,179.13 L504.46,179.34 L505.3,179.55 L506.15,179.76 L507,179.97 L507.85,180.19 L508.7,180.4 L509.55,180.61 L510.4,180.83 L511.25,181.04 L512.1,181.26 L512.95,181.48 L513.79,181.7 L514.64,181.92 L515.49,182.14 L516.34,182.36 L517.19,182.58 L518.04,182.8 L518.89,183.03 L519.74,183.25 L520.59,183.48 L521.44,183.7 L522.28,183.93 L523.13,184.16 L523.98,184.39 L524.83,184.62 L525.68,184.85 L526.53,185.08 L527.38,185.32 L528.23,185.55 L529.08,185.78 L529.92,186.02 L530.77,186.26 L531.62,186.5 L532.47,186.74 L533.32,186.98 L534.17,187.22 L535.02,187.46 L535.87,187.7 L536.72,187.95 L537.57,188.19 L538.41,188.44 L539.26,188.69 L540.11,188.93 L540.96,189.18 L541.81,189.44 L542.66,189.69 L543.51,189.94 L544.36,190.19 L545.21,190.45 L546.06,190.71 L546.9,190.96 L547.75,191.22 L548.6,191.48 L549.45,191.74 L550.3,192 L551.15,192.27 L552,192.53 L552.85,192.8 L553.7,193.06 L554.55,193.33 L555.39,193.6 L556.24,193.87 L557.09,194.14 L557.94,194.41 L558.79,194.69 L559.64,194.96 L560.49,195.24 L561.34,195.52 L562.19,195.8 L563.04,196.08 L563.88,196.36 L564.73,196.64 L565.58,196.93 L566.43,197.21 L567.28,197.5 L568.13,197.79 L568.98,198.08 L569.83,198.37 L570.68,198.66 L571.53,198.95 L572.38,199.25 L573.22,199.54 L574.07,199.84 L574.92,200.14 L575.77,200.44 L576.62,200.74 L577.47,201.05 L578.32,201.35 L579.17,201.66 L580.02,201.97 L580.87,202.27 L581.71,202.59 L582.56,202.9 L583.41,203.21 L584.26,203.53 L585.11,203.84 L585.96,204.16 L586.81,204.48 L587.66,204.8 L588.51,205.13 L589.36,205.45 L590.2,205.78 L591.05,206.11 L591.9,206.44 L592.75,206.77 L593.6,207.1 L594.45,207.43 L595.3,207.77 L596.15,208.11 L597,208.45 L597.85,208.79 L598.69,209.13 L599.54,209.48 L600.39,209.82 L601.24,210.17 L602.09,210.52 L602.94,210.88 L603.79,211.23 L604.64,211.58 L605.49,211.94 L606.34,212.3 L607.18,212.66 L608.03,213.03 L608.88,213.39 L609.73,213.76 L610.58,214.13 L611.43,214.5 L612.28,214.87 L613.13,215.24 L613.98,215.62 L614.83,216 L615.67,216.38 L616.52,216.76 L617.37,217.15 L618.22,217.54 L619.07,217.92 L619.92,218.32 L620.77,218.71 L621.62,219.1 L622.47,219.5 L623.32,219.9 L624.16,220.3 L625.01,220.71 L625.86,221.11 L626.71,221.52 L627.56,221.93 L628.41,222.35 L629.26,222.76 L630.11,223.18 L630.96,223.6 L631.81,224.02 L632.65,224.45 L633.5,224.87 L634.35,225.3 L635.2,225.74 L636.05,226.17 L636.9,226.61 L637.75,227.05 L638.6,227.49 L639.45,227.94 L640.3,228.38 L641.14,228.83 L641.99,229.29 L642.84,229.74 L643.69,230.2 L644.54,230.66 L645.39,231.12 L646.24,231.59 L647.09,232.06 L647.94,232.53 L648.79,233 L649.63,233.48 L650.48,233.96 L651.33,234.44 L652.18,234.93 L653.03,235.42 L653.88,235.91 L654.73,236.4 L655.58,236.9 L656.43,237.4 L657.27,237.91 L658.12,238.41 L658.97,238.93 L659.82,239.44 L660.67,239.96 L661.52,240.47 L662.37,241 L663.22,241.52 L664.07,242.05 L664.92,242.59 L665.76,243.12 L666.61,243.66 L667.46,244.21 L668.31,244.75 L669.16,245.3 L670.01,245.86 L670.86,246.42 L671.71,246.98 L672.56,247.54 L673.41,248.11 L674.25,248.68 L675.1,249.26 L675.95,249.84 L676.8,250.42 L677.65,251.01 L678.5,251.6" fill="none" stroke="#000" stroke-width="3.4" stroke-dasharray="10.7 4.6"/>
<line x1="426" x2="678.5" y1="162.6" y2="162.6" stroke="#fff" stroke-width="3.2" stroke-dasharray="10.6 4.7" stroke-dashoffset="0"/>
<line x1="423.8" x2="423.8" y1="255" y2="251.6" stroke="#8a8a8a" stroke-width="0.9"/>
<line x1="474.74" x2="474.74" y1="255" y2="251.6" stroke="#8a8a8a" stroke-width="0.9"/>
<line x1="525.68" x2="525.68" y1="255" y2="251.6" stroke="#8a8a8a" stroke-width="0.9"/>
<line x1="576.62" x2="576.62" y1="255" y2="251.6" stroke="#8a8a8a" stroke-width="0.9"/>
<line x1="627.56" x2="627.56" y1="255" y2="251.6" stroke="#8a8a8a" stroke-width="0.9"/>
<line x1="678.5" x2="678.5" y1="255" y2="251.6" stroke="#8a8a8a" stroke-width="0.9"/>
<line x1="418.8" x2="422.2" y1="216" y2="216" stroke="#8a8a8a" stroke-width="0.9"/>
<line x1="418.8" x2="422.2" y1="180.4" y2="180.4" stroke="#8a8a8a" stroke-width="0.9"/>
<line x1="418.8" x2="422.2" y1="144.8" y2="144.8" stroke="#8a8a8a" stroke-width="0.9"/>
<line x1="418.8" x2="422.2" y1="109.2" y2="109.2" stroke="#8a8a8a" stroke-width="0.9"/>
<line x1="418.8" x2="422.2" y1="73.6" y2="73.6" stroke="#8a8a8a" stroke-width="0.9"/>
<text x="423.8" y="282.6" font-size="23" font-weight="bold" font-style="normal" text-anchor="middle" >0</text>
<text x="474.74" y="282.6" font-size="23" font-weight="bold" font-style="normal" text-anchor="middle" >0.2</text>
<text x="525.68" y="282.6" font-size="23" font-weight="bold" font-style="normal" text-anchor="middle" >0.4</text>
<text x="576.62" y="282.6" font-size="23" font-weight="bold" font-style="normal" text-anchor="middle" >0.6</text>
<text x="627.56" y="282.6" font-size="23" font-weight="bold" font-style="normal" text-anchor="middle" >0.8</text>
<text x="678.5" y="282.6" font-size="23" font-weight="bold" font-style="normal" text-anchor="middle" >1</text>
<text x="413" y="224.3" font-size="23" font-weight="bold" font-style="normal" text-anchor="end" >0.2</text>
<text x="413" y="188.7" font-size="23" font-weight="bold" font-style="normal" text-anchor="end" >0.4</text>
<text x="413" y="153.1" font-size="23" font-weight="bold" font-style="normal" text-anchor="end" >0.6</text>
<text x="413" y="117.5" font-size="23" font-weight="bold" font-style="normal" text-anchor="end" >0.8</text>
<text x="413" y="81.9" font-size="23" font-weight="bold" font-style="normal" text-anchor="end" >1</text>
<g transform="translate(17.8,236.2) rotate(-90)"><text transform="scale(1,0.93)" font-size="22" font-weight="bold">probability</text><text x="125" y="0" font-size="24" font-weight="bold" font-style="italic">p</text><text x="140" y="3.1" font-size="16.3">0</text></g>
<text x="138.1" y="320" font-size="22.3" font-weight="bold" textLength="113.4" lengthAdjust="spacingAndGlyphs">reflectivity</text>
<text x="260.3" y="320" font-size="22.5" font-style="italic">η</text>
<text x="483.6" y="320" font-size="22.3" font-weight="bold" textLength="113.4" lengthAdjust="spacingAndGlyphs">reflectivity</text>
<text x="605.8" y="320" font-size="22.5" font-style="italic">η</text>
<rect x="85.7" y="337" width="251.8" height="175.8" fill="#fff" stroke="#9a9a9a" stroke-width="1.1"/>
<clipPath id="cc"><rect x="85.7" y="337" width="251.8" height="177"/></clipPath>
<line x1="90.8" x2="90.8" y1="512.8" y2="508.8" stroke="#777" stroke-width="1"/>
<line x1="139.04" x2="139.04" y1="512.8" y2="508.8" stroke="#777" stroke-width="1"/>
<line x1="187.28" x2="187.28" y1="512.8" y2="508.8" stroke="#777" stroke-width="1"/>
<line x1="235.52" x2="235.52" y1="512.8" y2="508.8" stroke="#777" stroke-width="1"/>
<line x1="283.76" x2="283.76" y1="512.8" y2="508.8" stroke="#777" stroke-width="1"/>
<line x1="332" x2="332" y1="512.8" y2="508.8" stroke="#777" stroke-width="1"/>
<text x="80.1" y="521.5" font-size="23" font-weight="bold" font-style="normal" text-anchor="end" >0</text>
<line x1="85.7" x2="89.7" y1="468.85" y2="468.85" stroke="#777" stroke-width="1"/>
<text x="80.1" y="477.55" font-size="23" font-weight="bold" font-style="normal" text-anchor="end" >0.05</text>
<line x1="85.7" x2="89.7" y1="424.9" y2="424.9" stroke="#777" stroke-width="1"/>
<text x="80.1" y="433.6" font-size="23" font-weight="bold" font-style="normal" text-anchor="end" >0.1</text>
<line x1="85.7" x2="89.7" y1="380.95" y2="380.95" stroke="#777" stroke-width="1"/>
<text x="80.1" y="389.65" font-size="23" font-weight="bold" font-style="normal" text-anchor="end" >0.15</text>
<text x="80.1" y="345.7" font-size="23" font-weight="bold" font-style="normal" text-anchor="end" >0.2</text>
<text x="90.8" y="540.3" font-size="23" font-weight="bold" font-style="normal" text-anchor="middle" >0</text>
<text x="139.04" y="540.3" font-size="23" font-weight="bold" font-style="normal" text-anchor="middle" >0.2</text>
<text x="187.28" y="540.3" font-size="23" font-weight="bold" font-style="normal" text-anchor="middle" >0.4</text>
<text x="235.52" y="540.3" font-size="23" font-weight="bold" font-style="normal" text-anchor="middle" >0.6</text>
<text x="283.76" y="540.3" font-size="23" font-weight="bold" font-style="normal" text-anchor="middle" >0.8</text>
<text x="332" y="540.3" font-size="23" font-weight="bold" font-style="normal" text-anchor="middle" >1</text>
<line x1="305.2" x2="305.2" y1="337.9" y2="513" stroke="#222" stroke-width="1.1" stroke-dasharray="8.2 7.1" stroke-dashoffset="0"/>
<g clip-path="url(#cc)" fill="none" stroke-linejoin="round">
<path d="M90.8,424.9 L305.11,424.9 L305.23,424.94 L332,468.85" stroke="#EE1B4C" stroke-width="3.2" stroke-dasharray="11.5 4"/>
<path d="M90.8,424.9 L305.11,424.9 L305.23,424.97 L332,490.82" stroke="#EE1B4C" stroke-width="4.0" stroke-linecap="square"/>
<path d="M90.8,424.9 L305.11,424.9 L305.23,424.98 L332,504.01" stroke="#536A8B" stroke-width="3.2" stroke-dasharray="11.5 4"/>
<path d="M90.8,424.9 L305.11,424.9 L305.23,424.99 L332,511.92" stroke="#536A8B" stroke-width="4.2" stroke-linecap="square"/>
</g>
<text x="213.2" y="365.1" font-size="21" font-weight="normal" font-style="italic" text-anchor="start" >p</text>
<text x="225.8" y="368.7" font-size="13.2" font-weight="normal" font-style="italic" text-anchor="start" >0</text>
<text x="236.8" y="365.1" font-size="19.5" font-weight="normal" font-style="italic" text-anchor="start" >=</text>
<text x="253.9" y="365.1" font-size="20.8" font-weight="normal" font-style="italic" text-anchor="start" letter-spacing="0.5">0.1</text>
<line x1="94" x2="125.8" y1="451.9" y2="451.9" stroke="#536A8B" stroke-width="2.7"/>
<line x1="94" x2="125.8" y1="464.6" y2="464.6" stroke="#536A8B" stroke-width="2.5" stroke-dasharray="7.9 4.2" stroke-dashoffset="5.3"/>
<text x="130.3" y="463.6" font-size="19" font-weight="normal" font-style="normal" text-anchor="start" >d=2</text>
<line x1="94" x2="125.8" y1="486" y2="486" stroke="#EE1B4C" stroke-width="2.7"/>
<line x1="94" x2="125.8" y1="498.7" y2="498.7" stroke="#EE1B4C" stroke-width="2.5" stroke-dasharray="7.9 4.2" stroke-dashoffset="5.3"/>
<text x="130.3" y="497.7" font-size="19" font-weight="normal" font-style="normal" text-anchor="start" >d=10</text>
<text transform="translate(6.2,312.2) scale(0.82,1)" font-size="26.5" font-weight="bold">c</text>
<rect x="418.7" y="333.1" width="264.7" height="184.8" fill="#fff" stroke="#9a9a9a" stroke-width="1.1"/>
<clipPath id="cd"><rect x="418.7" y="333.1" width="264.7" height="186"/></clipPath>
<line x1="424" x2="424" y1="517.9" y2="513.9" stroke="#777" stroke-width="1"/>
<line x1="474.86" x2="474.86" y1="517.9" y2="513.9" stroke="#777" stroke-width="1"/>
<line x1="525.72" x2="525.72" y1="517.9" y2="513.9" stroke="#777" stroke-width="1"/>
<line x1="576.58" x2="576.58" y1="517.9" y2="513.9" stroke="#777" stroke-width="1"/>
<line x1="627.44" x2="627.44" y1="517.9" y2="513.9" stroke="#777" stroke-width="1"/>
<line x1="678.3" x2="678.3" y1="517.9" y2="513.9" stroke="#777" stroke-width="1"/>
<text x="412.6" y="526.6" font-size="23" font-weight="bold" font-style="normal" text-anchor="end" >0.2</text>
<line x1="418.7" x2="422.7" y1="456.3" y2="456.3" stroke="#777" stroke-width="1"/>
<text x="412.6" y="465" font-size="23" font-weight="bold" font-style="normal" text-anchor="end" >0.3</text>
<line x1="418.7" x2="422.7" y1="394.7" y2="394.7" stroke="#777" stroke-width="1"/>
<text x="412.6" y="403.4" font-size="23" font-weight="bold" font-style="normal" text-anchor="end" >0.4</text>
<text x="412.6" y="341.8" font-size="23" font-weight="bold" font-style="normal" text-anchor="end" >0.5</text>
<text x="424" y="545.2" font-size="23" font-weight="bold" font-style="normal" text-anchor="middle" >0</text>
<text x="474.86" y="545.2" font-size="23" font-weight="bold" font-style="normal" text-anchor="middle" >0.2</text>
<text x="525.72" y="545.2" font-size="23" font-weight="bold" font-style="normal" text-anchor="middle" >0.4</text>
<text x="576.58" y="545.2" font-size="23" font-weight="bold" font-style="normal" text-anchor="middle" >0.6</text>
<text x="627.44" y="545.2" font-size="23" font-weight="bold" font-style="normal" text-anchor="middle" >0.8</text>
<text x="678.3" y="545.2" font-size="23" font-weight="bold" font-style="normal" text-anchor="middle" >1</text>
<line x1="508.77" x2="508.77" y1="329.2" y2="519.5" stroke="#222" stroke-width="1.1" stroke-dasharray="8.7 4.8" stroke-dashoffset="0"/>
<g clip-path="url(#cd)" fill="none" stroke-linejoin="round">
<path d="M424,394.7 L508.68,394.7 L508.81,394.73 L678.3,517.9" stroke="#EE1B4C" stroke-width="3.2" stroke-dasharray="11.5 4"/>
<path d="M424,394.7 L508.68,394.7 L508.81,394.75 L678.3,579.5" stroke="#EE1B4C" stroke-width="4.0" stroke-linecap="square"/>
<path d="M424,394.7 L508.68,394.7 L508.81,394.76 L678.3,616.46" stroke="#536A8B" stroke-width="3.2" stroke-dasharray="11.5 4"/>
<path d="M424,394.7 L508.68,394.7 L508.81,394.76 L678.3,638.64" stroke="#536A8B" stroke-width="4.2" stroke-linecap="square"/>
</g>
<text x="422" y="363" font-size="21" font-weight="normal" font-style="italic" text-anchor="start" >p</text>
<text x="434.6" y="366.6" font-size="13.2" font-weight="normal" font-style="italic" text-anchor="start" >0</text>
<text x="445.6" y="363" font-size="19.5" font-weight="normal" font-style="italic" text-anchor="start" >=</text>
<text x="462.7" y="363" font-size="20.8" font-weight="normal" font-style="italic" text-anchor="start" letter-spacing="0.5">0.4</text>
<line x1="425.2" x2="457" y1="451.9" y2="451.9" stroke="#536A8B" stroke-width="2.7"/>
<line x1="425.2" x2="457" y1="464.6" y2="464.6" stroke="#536A8B" stroke-width="2.5" stroke-dasharray="7.9 4.2" stroke-dashoffset="5.3"/>
<text x="461.5" y="463.6" font-size="19" font-weight="normal" font-style="normal" text-anchor="start" >d=2</text>
<line x1="425.2" x2="457" y1="486" y2="486" stroke="#EE1B4C" stroke-width="2.7"/>
<line x1="425.2" x2="457" y1="498.7" y2="498.7" stroke="#EE1B4C" stroke-width="2.5" stroke-dasharray="7.9 4.2" stroke-dashoffset="5.3"/>
<text x="461.5" y="497.7" font-size="19" font-weight="normal" font-style="normal" text-anchor="start" >d=10</text>
<text transform="translate(365.1,312.2) scale(0.93,1)" font-size="26.5" font-weight="bold">d</text>
<rect x="73.2" y="595" width="264.4" height="185.5" fill="#fff" stroke="#9a9a9a" stroke-width="1.1"/>
<clipPath id="ce"><rect x="73.2" y="595" width="264.4" height="186.7"/></clipPath>
<line x1="78.3" x2="78.3" y1="780.5" y2="776.5" stroke="#777" stroke-width="1"/>
<line x1="129.16" x2="129.16" y1="780.5" y2="776.5" stroke="#777" stroke-width="1"/>
<line x1="180.02" x2="180.02" y1="780.5" y2="776.5" stroke="#777" stroke-width="1"/>
<line x1="230.88" x2="230.88" y1="780.5" y2="776.5" stroke="#777" stroke-width="1"/>
<line x1="281.74" x2="281.74" y1="780.5" y2="776.5" stroke="#777" stroke-width="1"/>
<line x1="332.6" x2="332.6" y1="780.5" y2="776.5" stroke="#777" stroke-width="1"/>
<text x="66.5" y="789.2" font-size="23" font-weight="bold" font-style="normal" text-anchor="end" >0</text>
<line x1="73.2" x2="77.2" y1="718.67" y2="718.67" stroke="#777" stroke-width="1"/>
<text x="66.5" y="727.37" font-size="23" font-weight="bold" font-style="normal" text-anchor="end" >0.2</text>
<line x1="73.2" x2="77.2" y1="656.83" y2="656.83" stroke="#777" stroke-width="1"/>
<text x="66.5" y="665.53" font-size="23" font-weight="bold" font-style="normal" text-anchor="end" >0.4</text>
<text x="66.5" y="603.7" font-size="23" font-weight="bold" font-style="normal" text-anchor="end" >0.6</text>
<text x="78.3" y="807.8" font-size="23" font-weight="bold" font-style="normal" text-anchor="middle" >0</text>
<text x="129.16" y="807.8" font-size="23" font-weight="bold" font-style="normal" text-anchor="middle" >0.2</text>
<text x="180.02" y="807.8" font-size="23" font-weight="bold" font-style="normal" text-anchor="middle" >0.4</text>
<text x="230.88" y="807.8" font-size="23" font-weight="bold" font-style="normal" text-anchor="middle" >0.6</text>
<text x="281.74" y="807.8" font-size="23" font-weight="bold" font-style="normal" text-anchor="middle" >0.8</text>
<text x="332.6" y="807.8" font-size="23" font-weight="bold" font-style="normal" text-anchor="middle" >1</text>
<g clip-path="url(#ce)" fill="none" stroke-linejoin="round">
<path d="M78.3,625.92 L332.6,703.21" stroke="#EE1B4C" stroke-width="3.2" stroke-dasharray="11.5 4"/>
<path d="M78.3,625.92 L332.6,741.85" stroke="#EE1B4C" stroke-width="4.0" stroke-linecap="square"/>
<path d="M78.3,625.92 L332.6,765.04" stroke="#536A8B" stroke-width="3.2" stroke-dasharray="11.5 4"/>
<path d="M78.3,625.92 L332.6,778.95" stroke="#536A8B" stroke-width="4.2" stroke-linecap="square"/>
</g>
<text x="239.2" y="622.2" font-size="21" font-weight="normal" font-style="italic" text-anchor="start" >p</text>
<text x="251.8" y="625.8" font-size="13.2" font-weight="normal" font-style="italic" text-anchor="start" >0</text>
<text x="262.8" y="622.2" font-size="19.5" font-weight="normal" font-style="italic" text-anchor="start" >=</text>
<text x="279.9" y="622.2" font-size="20.8" font-weight="normal" font-style="italic" text-anchor="start" letter-spacing="0.5">0.5</text>
<line x1="80.2" x2="112" y1="716.9" y2="716.9" stroke="#536A8B" stroke-width="2.7"/>
<line x1="80.2" x2="112" y1="729.6" y2="729.6" stroke="#536A8B" stroke-width="2.5" stroke-dasharray="7.9 4.2" stroke-dashoffset="5.3"/>
<text x="116.5" y="728.6" font-size="19" font-weight="normal" font-style="normal" text-anchor="start" >d=2</text>
<line x1="80.2" x2="112" y1="751" y2="751" stroke="#EE1B4C" stroke-width="2.7"/>
<line x1="80.2" x2="112" y1="763.7" y2="763.7" stroke="#EE1B4C" stroke-width="2.5" stroke-dasharray="7.9 4.2" stroke-dashoffset="5.3"/>
<text x="116.5" y="762.7" font-size="19" font-weight="normal" font-style="normal" text-anchor="start" >d=10</text>
<text transform="translate(4.2,572.4) scale(0.92,1)" font-size="26.5" font-weight="bold">e</text>
<rect x="418.7" y="595" width="264.7" height="185.5" fill="#fff" stroke="#9a9a9a" stroke-width="1.1"/>
<clipPath id="cf"><rect x="418.7" y="595" width="264.7" height="186.7"/></clipPath>
<line x1="424" x2="424" y1="780.5" y2="776.5" stroke="#777" stroke-width="1"/>
<line x1="474.86" x2="474.86" y1="780.5" y2="776.5" stroke="#777" stroke-width="1"/>
<line x1="525.72" x2="525.72" y1="780.5" y2="776.5" stroke="#777" stroke-width="1"/>
<line x1="576.58" x2="576.58" y1="780.5" y2="776.5" stroke="#777" stroke-width="1"/>
<line x1="627.44" x2="627.44" y1="780.5" y2="776.5" stroke="#777" stroke-width="1"/>
<line x1="678.3" x2="678.3" y1="780.5" y2="776.5" stroke="#777" stroke-width="1"/>
<text x="412.6" y="789.2" font-size="23" font-weight="bold" font-style="normal" text-anchor="end" >0.1</text>
<line x1="418.7" x2="422.7" y1="718.67" y2="718.67" stroke="#777" stroke-width="1"/>
<text x="412.6" y="727.37" font-size="23" font-weight="bold" font-style="normal" text-anchor="end" >0.2</text>
<line x1="418.7" x2="422.7" y1="656.83" y2="656.83" stroke="#777" stroke-width="1"/>
<text x="412.6" y="665.53" font-size="23" font-weight="bold" font-style="normal" text-anchor="end" >0.3</text>
<text x="412.6" y="603.7" font-size="23" font-weight="bold" font-style="normal" text-anchor="end" >0.4</text>
<text x="424" y="807.8" font-size="23" font-weight="bold" font-style="normal" text-anchor="middle" >0</text>
<text x="474.86" y="807.8" font-size="23" font-weight="bold" font-style="normal" text-anchor="middle" >0.2</text>
<text x="525.72" y="807.8" font-size="23" font-weight="bold" font-style="normal" text-anchor="middle" >0.4</text>
<text x="576.58" y="807.8" font-size="23" font-weight="bold" font-style="normal" text-anchor="middle" >0.6</text>
<text x="627.44" y="807.8" font-size="23" font-weight="bold" font-style="normal" text-anchor="middle" >0.8</text>
<text x="678.3" y="807.8" font-size="23" font-weight="bold" font-style="normal" text-anchor="middle" >1</text>
<g clip-path="url(#cf)" fill="none" stroke-linejoin="round">
<path d="M424,656.83 L678.3,656.83" stroke="#EE1B4C" stroke-width="3.2" stroke-dasharray="11.5 4"/>
<path d="M424,656.83 L536.91,656.83 L537.04,656.84 L678.3,734.12" stroke="#EE1B4C" stroke-width="4.0" stroke-linecap="square"/>
<path d="M424,656.83 L461.64,656.83 L461.76,656.89 L678.3,799.05" stroke="#536A8B" stroke-width="3.2" stroke-dasharray="11.5 4"/>
<path d="M424,656.83 L427.31,656.83 L427.43,656.84 L678.3,838" stroke="#536A8B" stroke-width="4.2" stroke-linecap="square"/>
</g>
<text x="422.3" y="622.6" font-size="21" font-weight="normal" font-style="italic" text-anchor="start" >p</text>
<text x="434.9" y="626.2" font-size="13.2" font-weight="normal" font-style="italic" text-anchor="start" >0</text>
<text x="445.9" y="622.6" font-size="19.5" font-weight="normal" font-style="italic" text-anchor="start" >=</text>
<text x="463" y="622.6" font-size="20.8" font-weight="normal" font-style="italic" text-anchor="start" letter-spacing="0.5">0.7</text>
<line x1="425.2" x2="457" y1="716.9" y2="716.9" stroke="#536A8B" stroke-width="2.7"/>
<line x1="425.2" x2="457" y1="729.6" y2="729.6" stroke="#536A8B" stroke-width="2.5" stroke-dasharray="7.9 4.2" stroke-dashoffset="5.3"/>
<text x="461.5" y="728.6" font-size="19" font-weight="normal" font-style="normal" text-anchor="start" >d=2</text>
<line x1="425.2" x2="457" y1="751" y2="751" stroke="#EE1B4C" stroke-width="2.7"/>
<line x1="425.2" x2="457" y1="763.7" y2="763.7" stroke="#EE1B4C" stroke-width="2.5" stroke-dasharray="7.9 4.2" stroke-dashoffset="5.3"/>
<text x="461.5" y="762.7" font-size="19" font-weight="normal" font-style="normal" text-anchor="start" >d=10</text>
<text transform="translate(363.7,572) scale(0.95,1)" font-size="26.5" font-weight="bold">f</text>
<text transform="translate(17.2,497.6) rotate(-90)" font-size="22.5" font-weight="bold" textLength="146" lengthAdjust="spacingAndGlyphs">minimal error</text>
<text transform="translate(17.1,760.3) rotate(-90)" font-size="22.5" font-weight="bold" textLength="146" lengthAdjust="spacingAndGlyphs">minimal error</text>
<text x="144.7" y="578.4" font-size="22.3" font-weight="bold" textLength="113.4" lengthAdjust="spacingAndGlyphs">reflectivity</text>
<text x="266.9" y="578.4" font-size="22.5" font-style="italic">η</text>
<text x="483.6" y="582.3" font-size="22.3" font-weight="bold" textLength="113.4" lengthAdjust="spacingAndGlyphs">reflectivity</text>
<text x="605.8" y="582.3" font-size="22.5" font-style="italic">η</text>
<text x="138.1" y="843.5" font-size="22.3" font-weight="bold" textLength="113.4" lengthAdjust="spacingAndGlyphs">reflectivity</text>
<text x="260.3" y="843.5" font-size="22.5" font-style="italic">η</text>
<text x="483.6" y="843.5" font-size="22.3" font-weight="bold" textLength="113.4" lengthAdjust="spacingAndGlyphs">reflectivity</text>
<text x="605.8" y="843.5" font-size="22.5" font-style="italic">η</text>
</svg>
</body></html>
